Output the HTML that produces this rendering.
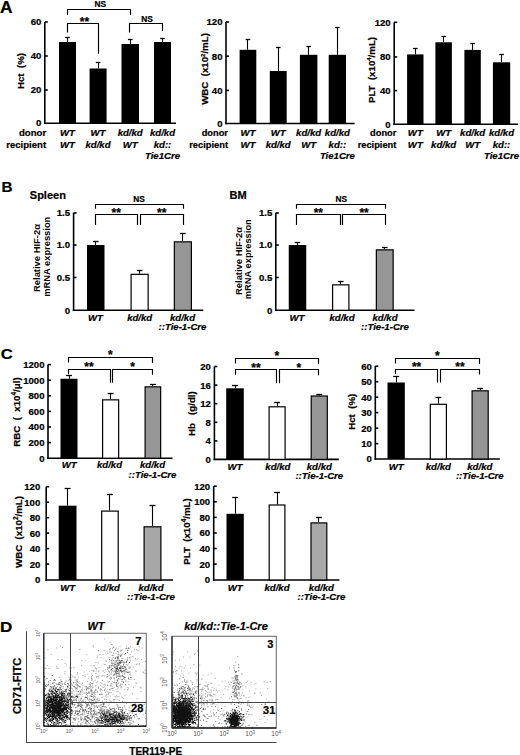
<!DOCTYPE html><html><head><meta charset="utf-8"><style>html,body{margin:0;padding:0;background:#fff;}svg{display:block;font-family:"Liberation Sans",sans-serif;} text{white-space:pre;stroke:#000;stroke-width:0.22px;} text.g,text.n{stroke:none;}</style></head><body><svg width="520" height="755" viewBox="0 0 520 755" font-family="Liberation Sans, sans-serif">
<rect width="520" height="755" fill="#fff"/>
<text x="0" y="13.2" font-size="16.5" font-weight="bold" text-anchor="start" fill="#000" textLength="12.5" lengthAdjust="spacingAndGlyphs">A</text>
<line x1="44.8" y1="22" x2="44.8" y2="124.1" stroke="#000" stroke-width="1.6"/>
<line x1="44.0" y1="123.3" x2="176" y2="123.3" stroke="#000" stroke-width="1.6"/>
<line x1="44.8" y1="22" x2="47.8" y2="22" stroke="#000" stroke-width="1.6"/>
<text x="41.3" y="25.456" font-size="9.6" font-weight="bold" text-anchor="end" fill="#000">60</text>
<line x1="44.8" y1="56" x2="47.8" y2="56" stroke="#000" stroke-width="1.6"/>
<text x="41.3" y="59.456" font-size="9.6" font-weight="bold" text-anchor="end" fill="#000">40</text>
<line x1="44.8" y1="90" x2="47.8" y2="90" stroke="#000" stroke-width="1.6"/>
<text x="41.3" y="93.456" font-size="9.6" font-weight="bold" text-anchor="end" fill="#000">20</text>
<text x="41.3" y="126.456" font-size="9.6" font-weight="bold" text-anchor="end" fill="#000">0</text>
<line x1="67.5" y1="37" x2="67.5" y2="42" stroke="#000" stroke-width="1.1"/>
<line x1="65.2" y1="37.5" x2="69.8" y2="37.5" stroke="#000" stroke-width="1.3"/>
<rect x="59" y="42" width="17" height="81.3" fill="#000"/>
<line x1="98.5" y1="62.3" x2="98.5" y2="68.5" stroke="#000" stroke-width="1.1"/>
<line x1="95.8" y1="62.5" x2="100.39999999999999" y2="62.5" stroke="#000" stroke-width="1.3"/>
<rect x="89.6" y="68.5" width="17.0" height="54.8" fill="#000"/>
<line x1="130.5" y1="39" x2="130.5" y2="44" stroke="#000" stroke-width="1.1"/>
<line x1="127.95" y1="39.5" x2="132.55" y2="39.5" stroke="#000" stroke-width="1.3"/>
<rect x="121.5" y="44" width="17.5" height="79.3" fill="#000"/>
<line x1="162.5" y1="38" x2="162.5" y2="42" stroke="#000" stroke-width="1.1"/>
<line x1="160.2" y1="38.5" x2="164.8" y2="38.5" stroke="#000" stroke-width="1.3"/>
<rect x="154" y="42" width="17" height="81.3" fill="#000"/>
<text x="46.2" y="136.4" font-size="9.6" font-weight="bold" text-anchor="end" fill="#000">donor</text>
<text x="46.2" y="147.7" font-size="9.6" font-weight="bold" text-anchor="end" fill="#000">recipient</text>
<text x="67.5" y="136.3" font-size="9.6" font-weight="bold" font-style="italic" text-anchor="middle" fill="#000">WT</text>
<text x="98" y="136.3" font-size="9.6" font-weight="bold" font-style="italic" text-anchor="middle" fill="#000">WT</text>
<text x="130.2" y="136.3" font-size="9.6" font-weight="bold" font-style="italic" text-anchor="middle" fill="#000">kd/kd</text>
<text x="162.5" y="136.3" font-size="9.6" font-weight="bold" font-style="italic" text-anchor="middle" fill="#000">kd/kd</text>
<text x="67.5" y="147.5" font-size="9.6" font-weight="bold" font-style="italic" text-anchor="middle" fill="#000">WT</text>
<text x="98" y="147.5" font-size="9.6" font-weight="bold" font-style="italic" text-anchor="middle" fill="#000">kd/kd</text>
<text x="130.2" y="147.5" font-size="9.6" font-weight="bold" font-style="italic" text-anchor="middle" fill="#000">WT</text>
<text x="162.5" y="147.5" font-size="9.6" font-weight="bold" font-style="italic" text-anchor="middle" fill="#000">kd::</text>
<text x="162.5" y="158.5" font-size="9.6" font-weight="bold" font-style="italic" text-anchor="middle" fill="#000">Tie1Cre</text>
<text transform="translate(24.4,71) rotate(-90)" x="0" y="0" font-size="9.7" font-weight="bold" text-anchor="middle">Hct  (%)</text>
<path d="M67.5 15V9.5H130.5V15" fill="none" stroke="#000" stroke-width="1.15"/>
<path d="M67.5 32.5V23.5H98.5V53.7" fill="none" stroke="#000" stroke-width="1.15"/>
<path d="M129.5 32.5V23.5H162.5V31" fill="none" stroke="#000" stroke-width="1.15"/>
<text x="100.2" y="6.81" font-size="8.3" font-weight="bold" text-anchor="middle" fill="#000">NS</text>
<text x="147" y="21.81" font-size="8.3" font-weight="bold" text-anchor="middle" fill="#000">NS</text>
<text x="84.5" y="25.78" font-size="12" font-weight="bold" text-anchor="middle" fill="#000">**</text>
<line x1="226" y1="22" x2="226" y2="124.3" stroke="#000" stroke-width="1.6"/>
<line x1="225.2" y1="123.5" x2="354.6" y2="123.5" stroke="#000" stroke-width="1.6"/>
<line x1="226" y1="22" x2="229.0" y2="22" stroke="#000" stroke-width="1.6"/>
<text x="222.5" y="25.456" font-size="9.6" font-weight="bold" text-anchor="end" fill="#000">120</text>
<line x1="226" y1="56.2" x2="229.0" y2="56.2" stroke="#000" stroke-width="1.6"/>
<text x="222.5" y="59.656000000000006" font-size="9.6" font-weight="bold" text-anchor="end" fill="#000">80</text>
<line x1="226" y1="90.4" x2="229.0" y2="90.4" stroke="#000" stroke-width="1.6"/>
<text x="222.5" y="93.85600000000001" font-size="9.6" font-weight="bold" text-anchor="end" fill="#000">40</text>
<text x="222.5" y="126.956" font-size="9.6" font-weight="bold" text-anchor="end" fill="#000">0</text>
<line x1="247.5" y1="39.2" x2="247.5" y2="49.8" stroke="#000" stroke-width="1.1"/>
<line x1="245.64999999999998" y1="39.5" x2="250.25" y2="39.5" stroke="#000" stroke-width="1.3"/>
<rect x="239.6" y="49.8" width="16.700000000000017" height="73.7" fill="#000"/>
<line x1="278.5" y1="47.5" x2="278.5" y2="71" stroke="#000" stroke-width="1.1"/>
<line x1="275.95" y1="47.5" x2="280.55" y2="47.5" stroke="#000" stroke-width="1.3"/>
<rect x="269.8" y="71" width="16.899999999999977" height="52.5" fill="#000"/>
<line x1="308.5" y1="46.8" x2="308.5" y2="54.8" stroke="#000" stroke-width="1.1"/>
<line x1="306.34999999999997" y1="46.5" x2="310.95" y2="46.5" stroke="#000" stroke-width="1.3"/>
<rect x="299.9" y="54.8" width="17.5" height="68.7" fill="#000"/>
<line x1="337.5" y1="27.3" x2="337.5" y2="54.8" stroke="#000" stroke-width="1.1"/>
<line x1="335.05" y1="27.5" x2="339.65000000000003" y2="27.5" stroke="#000" stroke-width="1.3"/>
<rect x="328.7" y="54.8" width="17.30000000000001" height="68.7" fill="#000"/>
<text x="228.0" y="136.4" font-size="9.3" font-weight="bold" text-anchor="end" fill="#000">donor</text>
<text x="228.0" y="147.7" font-size="9.3" font-weight="bold" text-anchor="end" fill="#000">recipient</text>
<text x="248" y="136.3" font-size="9.6" font-weight="bold" font-style="italic" text-anchor="middle" fill="#000">WT</text>
<text x="278.2" y="136.3" font-size="9.6" font-weight="bold" font-style="italic" text-anchor="middle" fill="#000">WT</text>
<text x="308.6" y="136.3" font-size="9.6" font-weight="bold" font-style="italic" text-anchor="middle" fill="#000">kd/kd</text>
<text x="337.4" y="136.3" font-size="9.6" font-weight="bold" font-style="italic" text-anchor="middle" fill="#000">kd/kd</text>
<text x="248" y="147.5" font-size="9.6" font-weight="bold" font-style="italic" text-anchor="middle" fill="#000">WT</text>
<text x="278.2" y="147.5" font-size="9.6" font-weight="bold" font-style="italic" text-anchor="middle" fill="#000">kd/kd</text>
<text x="308.6" y="147.5" font-size="9.6" font-weight="bold" font-style="italic" text-anchor="middle" fill="#000">WT</text>
<text x="337.4" y="147.5" font-size="9.6" font-weight="bold" font-style="italic" text-anchor="middle" fill="#000">kd::</text>
<text x="337.4" y="158.5" font-size="9.6" font-weight="bold" font-style="italic" text-anchor="middle" fill="#000">Tie1Cre</text>
<text transform="translate(208.2,69) rotate(-90)" x="0" y="0" font-size="9.7" font-weight="bold" text-anchor="middle">WBC  (x10<tspan font-size="6" dy="-3.5">2</tspan><tspan dy="3.5">/mL)</tspan></text>
<line x1="394.2" y1="22.3" x2="394.2" y2="125.1" stroke="#000" stroke-width="1.6"/>
<line x1="393.4" y1="124.3" x2="518" y2="124.3" stroke="#000" stroke-width="1.6"/>
<line x1="394.2" y1="22.3" x2="397.2" y2="22.3" stroke="#000" stroke-width="1.6"/>
<text x="390.7" y="25.756" font-size="9.6" font-weight="bold" text-anchor="end" fill="#000">120</text>
<line x1="394.2" y1="56.9" x2="397.2" y2="56.9" stroke="#000" stroke-width="1.6"/>
<text x="390.7" y="60.356" font-size="9.6" font-weight="bold" text-anchor="end" fill="#000">80</text>
<line x1="394.2" y1="90.6" x2="397.2" y2="90.6" stroke="#000" stroke-width="1.6"/>
<text x="390.7" y="94.056" font-size="9.6" font-weight="bold" text-anchor="end" fill="#000">40</text>
<text x="390.7" y="127.756" font-size="9.6" font-weight="bold" text-anchor="end" fill="#000">0</text>
<line x1="415.5" y1="48.1" x2="415.5" y2="54.4" stroke="#000" stroke-width="1.1"/>
<line x1="413.0" y1="48.5" x2="417.6" y2="48.5" stroke="#000" stroke-width="1.3"/>
<rect x="407.1" y="54.4" width="16.399999999999977" height="69.9" fill="#000"/>
<line x1="443.5" y1="36.5" x2="443.5" y2="42.3" stroke="#000" stroke-width="1.1"/>
<line x1="441.34999999999997" y1="36.5" x2="445.95" y2="36.5" stroke="#000" stroke-width="1.3"/>
<rect x="435.4" y="42.3" width="16.5" height="82.0" fill="#000"/>
<line x1="472.5" y1="43.3" x2="472.5" y2="49.9" stroke="#000" stroke-width="1.1"/>
<line x1="470.3" y1="43.5" x2="474.90000000000003" y2="43.5" stroke="#000" stroke-width="1.3"/>
<rect x="464.4" y="49.9" width="16.400000000000034" height="74.4" fill="#000"/>
<line x1="501.5" y1="54.1" x2="501.5" y2="62.3" stroke="#000" stroke-width="1.1"/>
<line x1="499.24999999999994" y1="54.5" x2="503.84999999999997" y2="54.5" stroke="#000" stroke-width="1.3"/>
<rect x="492.9" y="62.3" width="17.30000000000001" height="62.0" fill="#000"/>
<text x="396.4" y="136.4" font-size="9.3" font-weight="bold" text-anchor="end" fill="#000">donor</text>
<text x="396.4" y="147.7" font-size="9.3" font-weight="bold" text-anchor="end" fill="#000">recipient</text>
<text x="415.3" y="136.3" font-size="9.6" font-weight="bold" font-style="italic" text-anchor="middle" fill="#000">WT</text>
<text x="443.6" y="136.3" font-size="9.6" font-weight="bold" font-style="italic" text-anchor="middle" fill="#000">WT</text>
<text x="472.6" y="136.3" font-size="9.6" font-weight="bold" font-style="italic" text-anchor="middle" fill="#000">kd/kd</text>
<text x="501.5" y="136.3" font-size="9.6" font-weight="bold" font-style="italic" text-anchor="middle" fill="#000">kd/kd</text>
<text x="415.3" y="147.5" font-size="9.6" font-weight="bold" font-style="italic" text-anchor="middle" fill="#000">WT</text>
<text x="443.6" y="147.5" font-size="9.6" font-weight="bold" font-style="italic" text-anchor="middle" fill="#000">kd/kd</text>
<text x="472.6" y="147.5" font-size="9.6" font-weight="bold" font-style="italic" text-anchor="middle" fill="#000">WT</text>
<text x="501.5" y="147.5" font-size="9.6" font-weight="bold" font-style="italic" text-anchor="middle" fill="#000">kd::</text>
<text x="501.5" y="158.5" font-size="9.6" font-weight="bold" font-style="italic" text-anchor="middle" fill="#000">Tie1Cre</text>
<text transform="translate(374.8,70) rotate(-90)" x="0" y="0" font-size="9.7" font-weight="bold" text-anchor="middle">PLT  (x10<tspan font-size="6" dy="-3.5">4</tspan><tspan dy="3.5">/mL)</tspan></text>
<text x="1.5" y="191.8" font-size="15.5" font-weight="bold" text-anchor="start" fill="#000" textLength="11" lengthAdjust="spacingAndGlyphs">B</text>
<text x="29.8" y="198.8" font-size="11" font-weight="bold" text-anchor="start" fill="#000">Spleen</text>
<line x1="73.6" y1="212.7" x2="73.6" y2="311.1" stroke="#000" stroke-width="1.6"/>
<line x1="72.8" y1="310.3" x2="203.3" y2="310.3" stroke="#000" stroke-width="1.6"/>
<line x1="73.6" y1="213" x2="76.6" y2="213" stroke="#000" stroke-width="1.6"/>
<text x="70.1" y="216.456" font-size="9.6" font-weight="bold" text-anchor="end" fill="#000">1.5</text>
<line x1="73.6" y1="245" x2="76.6" y2="245" stroke="#000" stroke-width="1.6"/>
<text x="70.1" y="248.456" font-size="9.6" font-weight="bold" text-anchor="end" fill="#000">1.0</text>
<line x1="73.6" y1="277.5" x2="76.6" y2="277.5" stroke="#000" stroke-width="1.6"/>
<text x="70.1" y="280.956" font-size="9.6" font-weight="bold" text-anchor="end" fill="#000">0.5</text>
<text x="70.1" y="313.75600000000003" font-size="9.6" font-weight="bold" text-anchor="end" fill="#000">0</text>
<line x1="95.5" y1="241" x2="95.5" y2="245" stroke="#000" stroke-width="1.1"/>
<line x1="92.95" y1="241.5" x2="98.55" y2="241.5" stroke="#000" stroke-width="1.3"/>
<rect x="87" y="245" width="17.5" height="65.30000000000001" fill="#000"/>
<line x1="139.5" y1="270" x2="139.5" y2="273.75" stroke="#000" stroke-width="1.1"/>
<line x1="136.825" y1="270.5" x2="142.425" y2="270.5" stroke="#000" stroke-width="1.3"/>
<rect x="131.1" y="274.35" width="17.05" height="35.95000000000001" fill="#fff" stroke="#000" stroke-width="1.2"/>
<line x1="182.5" y1="233.5" x2="182.5" y2="241.25" stroke="#000" stroke-width="1.1"/>
<line x1="180.075" y1="233.5" x2="185.675" y2="233.5" stroke="#000" stroke-width="1.3"/>
<rect x="174.35" y="241.85" width="17.05" height="68.45000000000002" fill="#969696" stroke="#000" stroke-width="1.2"/>
<text x="95.5" y="320.5" font-size="9.6" font-weight="bold" font-style="italic" text-anchor="middle" fill="#000">WT</text>
<text x="139.7" y="320.5" font-size="9.6" font-weight="bold" font-style="italic" text-anchor="middle" fill="#000">kd/kd</text>
<text x="182.5" y="320.5" font-size="9.6" font-weight="bold" font-style="italic" text-anchor="middle" fill="#000">kd/kd</text>
<text x="182.5" y="330" font-size="9.6" font-weight="bold" font-style="italic" text-anchor="middle" fill="#000">::Tie-1-Cre</text>
<text class="n" transform="translate(39.6,258) rotate(-90)" font-size="9.5" font-weight="bold" text-anchor="middle" textLength="68" lengthAdjust="spacingAndGlyphs">Relative HIF-2α</text>
<text class="n" transform="translate(50,256.7) rotate(-90)" font-size="9.5" font-weight="bold" text-anchor="middle" textLength="80" lengthAdjust="spacingAndGlyphs">mRNA expression</text>
<path d="M95.5 208.75V204.5H183.5V208.75" fill="none" stroke="#000" stroke-width="1.15"/>
<path d="M95.5 225V214.5H137.5V225" fill="none" stroke="#000" stroke-width="1.15"/>
<path d="M140.5 225V214.5H183.5V225" fill="none" stroke="#000" stroke-width="1.15"/>
<text x="139.0" y="202.31" font-size="8.3" font-weight="bold" text-anchor="middle" fill="#000">NS</text>
<text x="116.25" y="217.08" font-size="12" font-weight="bold" text-anchor="middle" fill="#000">**</text>
<text x="161.75" y="217.08" font-size="12" font-weight="bold" text-anchor="middle" fill="#000">**</text>
<text x="229.6" y="198.8" font-size="11" font-weight="bold" text-anchor="start" fill="#000">BM</text>
<line x1="275.8" y1="212.7" x2="275.8" y2="311.1" stroke="#000" stroke-width="1.6"/>
<line x1="275.0" y1="310.3" x2="414.5" y2="310.3" stroke="#000" stroke-width="1.6"/>
<line x1="275.8" y1="213" x2="278.8" y2="213" stroke="#000" stroke-width="1.6"/>
<text x="272.3" y="216.456" font-size="9.6" font-weight="bold" text-anchor="end" fill="#000">1.5</text>
<line x1="275.8" y1="245" x2="278.8" y2="245" stroke="#000" stroke-width="1.6"/>
<text x="272.3" y="248.456" font-size="9.6" font-weight="bold" text-anchor="end" fill="#000">1.0</text>
<line x1="275.8" y1="277.5" x2="278.8" y2="277.5" stroke="#000" stroke-width="1.6"/>
<text x="272.3" y="280.956" font-size="9.6" font-weight="bold" text-anchor="end" fill="#000">0.5</text>
<text x="272.3" y="313.75600000000003" font-size="9.6" font-weight="bold" text-anchor="end" fill="#000">0</text>
<line x1="297.5" y1="242.5" x2="297.5" y2="245" stroke="#000" stroke-width="1.1"/>
<line x1="294.7" y1="242.5" x2="300.3" y2="242.5" stroke="#000" stroke-width="1.3"/>
<rect x="288.75" y="245" width="17.5" height="65.30000000000001" fill="#000"/>
<line x1="340.5" y1="281.25" x2="340.5" y2="284.25" stroke="#000" stroke-width="1.1"/>
<line x1="337.95" y1="281.5" x2="343.55" y2="281.5" stroke="#000" stroke-width="1.3"/>
<rect x="332.6" y="284.85" width="16.3" height="25.45000000000001" fill="#fff" stroke="#000" stroke-width="1.2"/>
<line x1="384.5" y1="247.5" x2="384.5" y2="249.25" stroke="#000" stroke-width="1.1"/>
<line x1="381.95" y1="247.5" x2="387.55" y2="247.5" stroke="#000" stroke-width="1.3"/>
<rect x="376.35" y="249.85" width="16.8" height="60.45000000000001" fill="#969696" stroke="#000" stroke-width="1.2"/>
<text x="297" y="320.5" font-size="9.6" font-weight="bold" font-style="italic" text-anchor="middle" fill="#000">WT</text>
<text x="342" y="320.5" font-size="9.6" font-weight="bold" font-style="italic" text-anchor="middle" fill="#000">kd/kd</text>
<text x="385" y="320.5" font-size="9.6" font-weight="bold" font-style="italic" text-anchor="middle" fill="#000">kd/kd</text>
<text x="385" y="330" font-size="9.6" font-weight="bold" font-style="italic" text-anchor="middle" fill="#000">::Tie-1-Cre</text>
<text class="n" transform="translate(241.6,261) rotate(-90)" font-size="9.5" font-weight="bold" text-anchor="middle" textLength="68" lengthAdjust="spacingAndGlyphs">Relative HIF-2α</text>
<text class="n" transform="translate(250.8,259.2) rotate(-90)" font-size="9.5" font-weight="bold" text-anchor="middle" textLength="80" lengthAdjust="spacingAndGlyphs">mRNA expression</text>
<path d="M296.5 208.75V204.5H385.5V208.75" fill="none" stroke="#000" stroke-width="1.15"/>
<path d="M296.5 225V214.5H340.5V225" fill="none" stroke="#000" stroke-width="1.15"/>
<path d="M342.5 225V214.5H385.5V225" fill="none" stroke="#000" stroke-width="1.15"/>
<text x="341.25" y="202.31" font-size="8.3" font-weight="bold" text-anchor="middle" fill="#000">NS</text>
<text x="318.375" y="217.08" font-size="12" font-weight="bold" text-anchor="middle" fill="#000">**</text>
<text x="364.125" y="217.08" font-size="12" font-weight="bold" text-anchor="middle" fill="#000">**</text>
<text x="0.8" y="358.7" font-size="15.5" font-weight="bold" text-anchor="start" fill="#000" textLength="12" lengthAdjust="spacingAndGlyphs">C</text>
<line x1="48" y1="364.6" x2="48" y2="459.0" stroke="#000" stroke-width="1.6"/>
<line x1="47.2" y1="458.2" x2="172.5" y2="458.2" stroke="#000" stroke-width="1.6"/>
<line x1="48" y1="364.6" x2="51.0" y2="364.6" stroke="#000" stroke-width="1.6"/>
<text x="44.5" y="368.05600000000004" font-size="9.6" font-weight="bold" text-anchor="end" fill="#000">1200</text>
<line x1="48" y1="380.2" x2="51.0" y2="380.2" stroke="#000" stroke-width="1.6"/>
<text x="44.5" y="383.656" font-size="9.6" font-weight="bold" text-anchor="end" fill="#000">1000</text>
<line x1="48" y1="395.8" x2="51.0" y2="395.8" stroke="#000" stroke-width="1.6"/>
<text x="44.5" y="399.25600000000003" font-size="9.6" font-weight="bold" text-anchor="end" fill="#000">800</text>
<line x1="48" y1="411.4" x2="51.0" y2="411.4" stroke="#000" stroke-width="1.6"/>
<text x="44.5" y="414.856" font-size="9.6" font-weight="bold" text-anchor="end" fill="#000">600</text>
<line x1="48" y1="427" x2="51.0" y2="427" stroke="#000" stroke-width="1.6"/>
<text x="44.5" y="430.456" font-size="9.6" font-weight="bold" text-anchor="end" fill="#000">400</text>
<line x1="48" y1="442.6" x2="51.0" y2="442.6" stroke="#000" stroke-width="1.6"/>
<text x="44.5" y="446.05600000000004" font-size="9.6" font-weight="bold" text-anchor="end" fill="#000">200</text>
<text x="44.5" y="461.656" font-size="9.6" font-weight="bold" text-anchor="end" fill="#000">0</text>
<line x1="69.5" y1="375" x2="69.5" y2="378.75" stroke="#000" stroke-width="1.1"/>
<line x1="66.05" y1="375.5" x2="71.95" y2="375.5" stroke="#000" stroke-width="1.3"/>
<rect x="60.5" y="378.75" width="17.0" height="79.44999999999999" fill="#000"/>
<line x1="110.5" y1="393.75" x2="110.5" y2="399.25" stroke="#000" stroke-width="1.1"/>
<line x1="107.675" y1="393.5" x2="113.575" y2="393.5" stroke="#000" stroke-width="1.3"/>
<rect x="102.6" y="399.85" width="16.05" height="58.34999999999999" fill="#fff" stroke="#000" stroke-width="1.2"/>
<line x1="152.5" y1="384.5" x2="152.5" y2="386.25" stroke="#000" stroke-width="1.1"/>
<line x1="149.925" y1="384.5" x2="155.825" y2="384.5" stroke="#000" stroke-width="1.3"/>
<rect x="145.1" y="386.85" width="15.55" height="71.35" fill="#969696" stroke="#000" stroke-width="1.2"/>
<text x="69.2" y="468" font-size="9.6" font-weight="bold" font-style="italic" text-anchor="middle" fill="#000">WT</text>
<text x="109.5" y="468" font-size="9.6" font-weight="bold" font-style="italic" text-anchor="middle" fill="#000">kd/kd</text>
<text x="152.5" y="468" font-size="9.6" font-weight="bold" font-style="italic" text-anchor="middle" fill="#000">kd/kd</text>
<text x="152.5" y="477.5" font-size="9.6" font-weight="bold" font-style="italic" text-anchor="middle" fill="#000">::Tie-1-Cre</text>
<text transform="translate(19.6,412) rotate(-90)" x="0" y="0" font-size="9.7" font-weight="bold" text-anchor="middle">RBC  (  x10<tspan font-size="6.5" dy="-3.8">4</tspan><tspan dy="3.8">/μl)</tspan></text>
<path d="M68.5 362.5V357.5H152.5V363.0" fill="none" stroke="#000" stroke-width="1.15"/>
<path d="M68.5 374.25V369.5H110.5V382.75" fill="none" stroke="#000" stroke-width="1.15"/>
<path d="M112.5 382.75V369.5H152.5V374.75" fill="none" stroke="#000" stroke-width="1.15"/>
<text x="110.25" y="359.28" font-size="12" font-weight="bold" text-anchor="middle" fill="#000">*</text>
<text x="89.0" y="371.03" font-size="12" font-weight="bold" text-anchor="middle" fill="#000">**</text>
<text x="132.5" y="371.03" font-size="12" font-weight="bold" text-anchor="middle" fill="#000">*</text>
<line x1="214.4" y1="366.5" x2="214.4" y2="460.2" stroke="#000" stroke-width="1.6"/>
<line x1="213.6" y1="459.4" x2="338.8" y2="459.4" stroke="#000" stroke-width="1.6"/>
<line x1="214.4" y1="366.5" x2="217.4" y2="366.5" stroke="#000" stroke-width="1.6"/>
<text x="210.9" y="369.956" font-size="9.6" font-weight="bold" text-anchor="end" fill="#000">20</text>
<line x1="214.4" y1="385.1" x2="217.4" y2="385.1" stroke="#000" stroke-width="1.6"/>
<text x="210.9" y="388.55600000000004" font-size="9.6" font-weight="bold" text-anchor="end" fill="#000">16</text>
<line x1="214.4" y1="403.7" x2="217.4" y2="403.7" stroke="#000" stroke-width="1.6"/>
<text x="210.9" y="407.156" font-size="9.6" font-weight="bold" text-anchor="end" fill="#000">12</text>
<line x1="214.4" y1="422.3" x2="217.4" y2="422.3" stroke="#000" stroke-width="1.6"/>
<text x="210.9" y="425.75600000000003" font-size="9.6" font-weight="bold" text-anchor="end" fill="#000">8</text>
<line x1="214.4" y1="440.9" x2="217.4" y2="440.9" stroke="#000" stroke-width="1.6"/>
<text x="210.9" y="444.356" font-size="9.6" font-weight="bold" text-anchor="end" fill="#000">4</text>
<text x="210.9" y="462.856" font-size="9.6" font-weight="bold" text-anchor="end" fill="#000">0</text>
<line x1="235.5" y1="385.8" x2="235.5" y2="388.3" stroke="#000" stroke-width="1.1"/>
<line x1="232.05" y1="385.5" x2="237.95" y2="385.5" stroke="#000" stroke-width="1.3"/>
<rect x="226.2" y="388.3" width="17.600000000000023" height="71.09999999999997" fill="#000"/>
<line x1="277.5" y1="402.7" x2="277.5" y2="406.2" stroke="#000" stroke-width="1.1"/>
<line x1="274.15000000000003" y1="402.5" x2="280.05" y2="402.5" stroke="#000" stroke-width="1.3"/>
<rect x="269.1" y="406.8" width="15.99999999999999" height="52.59999999999999" fill="#fff" stroke="#000" stroke-width="1.2"/>
<line x1="319.5" y1="394" x2="319.5" y2="395.4" stroke="#000" stroke-width="1.1"/>
<line x1="316.3" y1="394.5" x2="322.2" y2="394.5" stroke="#000" stroke-width="1.3"/>
<rect x="311.20000000000005" y="396.0" width="16.099999999999955" height="63.4" fill="#969696" stroke="#000" stroke-width="1.2"/>
<text x="235" y="469.5" font-size="9.6" font-weight="bold" font-style="italic" text-anchor="middle" fill="#000">WT</text>
<text x="277.9" y="469.5" font-size="9.6" font-weight="bold" font-style="italic" text-anchor="middle" fill="#000">kd/kd</text>
<text x="319.3" y="469.5" font-size="9.6" font-weight="bold" font-style="italic" text-anchor="middle" fill="#000">kd/kd</text>
<text x="319.3" y="479.0" font-size="9.6" font-weight="bold" font-style="italic" text-anchor="middle" fill="#000">::Tie-1-Cre</text>
<text transform="translate(195.4,413.6) rotate(-90)" x="0" y="0" font-size="9.7" font-weight="bold" text-anchor="middle">Hb   (g/dl)</text>
<path d="M235.5 363.5V358.5H318.5V364.0" fill="none" stroke="#000" stroke-width="1.15"/>
<path d="M235.5 374.8V369.5H276.5V383.3" fill="none" stroke="#000" stroke-width="1.15"/>
<path d="M279.5 383.3V369.5H318.5V375.3" fill="none" stroke="#000" stroke-width="1.15"/>
<text x="276.95" y="360.28" font-size="12" font-weight="bold" text-anchor="middle" fill="#000">*</text>
<text x="256.0" y="371.58" font-size="12" font-weight="bold" text-anchor="middle" fill="#000">**</text>
<text x="298.95" y="371.58" font-size="12" font-weight="bold" text-anchor="middle" fill="#000">*</text>
<line x1="375.3" y1="366.2" x2="375.3" y2="459.8" stroke="#000" stroke-width="1.6"/>
<line x1="374.5" y1="459" x2="499.8" y2="459" stroke="#000" stroke-width="1.6"/>
<line x1="375.3" y1="366.2" x2="378.3" y2="366.2" stroke="#000" stroke-width="1.6"/>
<text x="371.8" y="369.656" font-size="9.6" font-weight="bold" text-anchor="end" fill="#000">60</text>
<line x1="375.3" y1="381.7" x2="378.3" y2="381.7" stroke="#000" stroke-width="1.6"/>
<text x="371.8" y="385.156" font-size="9.6" font-weight="bold" text-anchor="end" fill="#000">50</text>
<line x1="375.3" y1="397.2" x2="378.3" y2="397.2" stroke="#000" stroke-width="1.6"/>
<text x="371.8" y="400.656" font-size="9.6" font-weight="bold" text-anchor="end" fill="#000">40</text>
<line x1="375.3" y1="412.6" x2="378.3" y2="412.6" stroke="#000" stroke-width="1.6"/>
<text x="371.8" y="416.05600000000004" font-size="9.6" font-weight="bold" text-anchor="end" fill="#000">30</text>
<line x1="375.3" y1="428.1" x2="378.3" y2="428.1" stroke="#000" stroke-width="1.6"/>
<text x="371.8" y="431.55600000000004" font-size="9.6" font-weight="bold" text-anchor="end" fill="#000">20</text>
<line x1="375.3" y1="443.6" x2="378.3" y2="443.6" stroke="#000" stroke-width="1.6"/>
<text x="371.8" y="447.05600000000004" font-size="9.6" font-weight="bold" text-anchor="end" fill="#000">10</text>
<text x="371.8" y="462.456" font-size="9.6" font-weight="bold" text-anchor="end" fill="#000">0</text>
<line x1="396.5" y1="376.7" x2="396.5" y2="382.5" stroke="#000" stroke-width="1.1"/>
<line x1="393.2" y1="376.5" x2="399.09999999999997" y2="376.5" stroke="#000" stroke-width="1.3"/>
<rect x="387.5" y="382.5" width="17.30000000000001" height="76.5" fill="#000"/>
<line x1="438.5" y1="397.9" x2="438.5" y2="403.7" stroke="#000" stroke-width="1.1"/>
<line x1="435.40000000000003" y1="397.5" x2="441.3" y2="397.5" stroke="#000" stroke-width="1.3"/>
<rect x="430.3" y="404.3" width="16.100000000000012" height="54.70000000000001" fill="#fff" stroke="#000" stroke-width="1.2"/>
<line x1="480.5" y1="388.8" x2="480.5" y2="390.2" stroke="#000" stroke-width="1.1"/>
<line x1="477.2" y1="388.5" x2="483.09999999999997" y2="388.5" stroke="#000" stroke-width="1.3"/>
<rect x="472.1" y="390.8" width="16.100000000000012" height="68.20000000000002" fill="#969696" stroke="#000" stroke-width="1.2"/>
<text x="396.1" y="469.5" font-size="9.6" font-weight="bold" font-style="italic" text-anchor="middle" fill="#000">WT</text>
<text x="438.3" y="469.5" font-size="9.6" font-weight="bold" font-style="italic" text-anchor="middle" fill="#000">kd/kd</text>
<text x="479.8" y="469.5" font-size="9.6" font-weight="bold" font-style="italic" text-anchor="middle" fill="#000">kd/kd</text>
<text x="479.8" y="479.0" font-size="9.6" font-weight="bold" font-style="italic" text-anchor="middle" fill="#000">::Tie-1-Cre</text>
<text transform="translate(354.8,411.8) rotate(-90)" x="0" y="0" font-size="9.7" font-weight="bold" text-anchor="middle">Hct  (%)</text>
<path d="M395.5 363.5V358.5H479.5V364.0" fill="none" stroke="#000" stroke-width="1.15"/>
<path d="M395.5 374V369.5H437.5V382.5" fill="none" stroke="#000" stroke-width="1.15"/>
<path d="M440.5 382.5V369.5H479.5V374.5" fill="none" stroke="#000" stroke-width="1.15"/>
<text x="437.4" y="360.28" font-size="12" font-weight="bold" text-anchor="middle" fill="#000">*</text>
<text x="416.54999999999995" y="370.78" font-size="12" font-weight="bold" text-anchor="middle" fill="#000">**</text>
<text x="459.9" y="370.78" font-size="12" font-weight="bold" text-anchor="middle" fill="#000">**</text>
<line x1="46.2" y1="486.7" x2="46.2" y2="580.8" stroke="#000" stroke-width="1.6"/>
<line x1="45.400000000000006" y1="580" x2="173.1" y2="580" stroke="#000" stroke-width="1.6"/>
<line x1="46.2" y1="486.7" x2="49.2" y2="486.7" stroke="#000" stroke-width="1.6"/>
<text x="40.3" y="490.156" font-size="9.6" font-weight="bold" text-anchor="end" fill="#000">120</text>
<line x1="46.2" y1="502.2" x2="49.2" y2="502.2" stroke="#000" stroke-width="1.6"/>
<text x="40.3" y="505.656" font-size="9.6" font-weight="bold" text-anchor="end" fill="#000">100</text>
<line x1="46.2" y1="517.7" x2="49.2" y2="517.7" stroke="#000" stroke-width="1.6"/>
<text x="40.3" y="521.1560000000001" font-size="9.6" font-weight="bold" text-anchor="end" fill="#000">80</text>
<line x1="46.2" y1="533.1" x2="49.2" y2="533.1" stroke="#000" stroke-width="1.6"/>
<text x="40.3" y="536.556" font-size="9.6" font-weight="bold" text-anchor="end" fill="#000">60</text>
<line x1="46.2" y1="548.6" x2="49.2" y2="548.6" stroke="#000" stroke-width="1.6"/>
<text x="40.3" y="552.056" font-size="9.6" font-weight="bold" text-anchor="end" fill="#000">40</text>
<line x1="46.2" y1="564.1" x2="49.2" y2="564.1" stroke="#000" stroke-width="1.6"/>
<text x="40.3" y="567.556" font-size="9.6" font-weight="bold" text-anchor="end" fill="#000">20</text>
<text x="40.3" y="583.456" font-size="9.6" font-weight="bold" text-anchor="end" fill="#000">0</text>
<line x1="67.5" y1="488.4" x2="67.5" y2="505.7" stroke="#000" stroke-width="1.1"/>
<line x1="64.64999999999999" y1="488.5" x2="70.55" y2="488.5" stroke="#000" stroke-width="1.3"/>
<rect x="58.7" y="505.7" width="17.799999999999997" height="74.30000000000001" fill="#000"/>
<line x1="109.5" y1="494.5" x2="109.5" y2="510.5" stroke="#000" stroke-width="1.1"/>
<line x1="106.99999999999999" y1="494.5" x2="112.89999999999999" y2="494.5" stroke="#000" stroke-width="1.3"/>
<rect x="101.69999999999999" y="511.1" width="16.500000000000004" height="68.9" fill="#fff" stroke="#000" stroke-width="1.2"/>
<line x1="152.5" y1="505.4" x2="152.5" y2="526.2" stroke="#000" stroke-width="1.1"/>
<line x1="149.55" y1="505.5" x2="155.45" y2="505.5" stroke="#000" stroke-width="1.3"/>
<rect x="144.1" y="526.8000000000001" width="16.8" height="53.19999999999995" fill="#a7a7a7" stroke="#000" stroke-width="1.2"/>
<text x="67.6" y="590.5" font-size="9.6" font-weight="bold" font-style="italic" text-anchor="middle" fill="#000">WT</text>
<text x="107.3" y="590.5" font-size="9.6" font-weight="bold" font-style="italic" text-anchor="middle" fill="#000">kd/kd</text>
<text x="151" y="590.5" font-size="9.6" font-weight="bold" font-style="italic" text-anchor="middle" fill="#000">kd/kd</text>
<text x="151" y="600.0" font-size="9.6" font-weight="bold" font-style="italic" text-anchor="middle" fill="#000">::Tie-1-Cre</text>
<text transform="translate(21.6,532) rotate(-90)" x="0" y="0" font-size="9.7" font-weight="bold" text-anchor="middle">WBC  (x10<tspan font-size="6.5" dy="-3.8">2</tspan><tspan dy="3.8">/mL)</tspan></text>
<line x1="213.7" y1="486.2" x2="213.7" y2="580.8" stroke="#000" stroke-width="1.6"/>
<line x1="212.89999999999998" y1="580" x2="339.4" y2="580" stroke="#000" stroke-width="1.6"/>
<line x1="213.7" y1="486.2" x2="216.7" y2="486.2" stroke="#000" stroke-width="1.6"/>
<text x="210.2" y="489.656" font-size="9.6" font-weight="bold" text-anchor="end" fill="#000">120</text>
<line x1="213.7" y1="501.8" x2="216.7" y2="501.8" stroke="#000" stroke-width="1.6"/>
<text x="210.2" y="505.25600000000003" font-size="9.6" font-weight="bold" text-anchor="end" fill="#000">100</text>
<line x1="213.7" y1="517.4" x2="216.7" y2="517.4" stroke="#000" stroke-width="1.6"/>
<text x="210.2" y="520.856" font-size="9.6" font-weight="bold" text-anchor="end" fill="#000">80</text>
<line x1="213.7" y1="533" x2="216.7" y2="533" stroke="#000" stroke-width="1.6"/>
<text x="210.2" y="536.456" font-size="9.6" font-weight="bold" text-anchor="end" fill="#000">60</text>
<line x1="213.7" y1="548.5" x2="216.7" y2="548.5" stroke="#000" stroke-width="1.6"/>
<text x="210.2" y="551.956" font-size="9.6" font-weight="bold" text-anchor="end" fill="#000">40</text>
<line x1="213.7" y1="564.1" x2="216.7" y2="564.1" stroke="#000" stroke-width="1.6"/>
<text x="210.2" y="567.556" font-size="9.6" font-weight="bold" text-anchor="end" fill="#000">20</text>
<text x="210.2" y="583.456" font-size="9.6" font-weight="bold" text-anchor="end" fill="#000">0</text>
<line x1="235.5" y1="497.3" x2="235.5" y2="513.8" stroke="#000" stroke-width="1.1"/>
<line x1="232.20000000000002" y1="497.5" x2="238.1" y2="497.5" stroke="#000" stroke-width="1.3"/>
<rect x="226.5" y="513.8" width="17.30000000000001" height="66.20000000000005" fill="#000"/>
<line x1="277.5" y1="492.6" x2="277.5" y2="504.4" stroke="#000" stroke-width="1.1"/>
<line x1="274.1" y1="492.5" x2="280.0" y2="492.5" stroke="#000" stroke-width="1.3"/>
<rect x="269.20000000000005" y="505.0" width="15.699999999999978" height="75.00000000000003" fill="#fff" stroke="#000" stroke-width="1.2"/>
<line x1="318.5" y1="517" x2="318.5" y2="522.3" stroke="#000" stroke-width="1.1"/>
<line x1="315.95" y1="517.5" x2="321.84999999999997" y2="517.5" stroke="#000" stroke-width="1.3"/>
<rect x="311.0" y="522.9" width="15.8" height="57.100000000000044" fill="#a8a8a8" stroke="#000" stroke-width="1.2"/>
<text x="235.2" y="590.5" font-size="9.6" font-weight="bold" font-style="italic" text-anchor="middle" fill="#000">WT</text>
<text x="277" y="590.5" font-size="9.6" font-weight="bold" font-style="italic" text-anchor="middle" fill="#000">kd/kd</text>
<text x="321.4" y="590.5" font-size="9.6" font-weight="bold" font-style="italic" text-anchor="middle" fill="#000">kd/kd</text>
<text x="321.4" y="600.0" font-size="9.6" font-weight="bold" font-style="italic" text-anchor="middle" fill="#000">::Tie-1-Cre</text>
<text transform="translate(190,531.5) rotate(-90)" x="0" y="0" font-size="9.7" font-weight="bold" text-anchor="middle">PLT  (x10<tspan font-size="6.5" dy="-3.8">4</tspan><tspan dy="3.8">/mL)</tspan></text>
<text x="0" y="632.4" font-size="15.5" font-weight="bold" text-anchor="start" fill="#000" textLength="12.3" lengthAdjust="spacingAndGlyphs">D</text>
<line x1="26.5" y1="631.3" x2="26.5" y2="742.9" stroke="#444" stroke-width="1.0"/>
<line x1="26" y1="742.5" x2="276.5" y2="742.5" stroke="#444" stroke-width="1.0"/>
<text x="155.7" y="754.5" font-size="10" font-weight="bold" text-anchor="middle" fill="#000">TER119-PE</text>
<text transform="translate(20.5,686) rotate(-90)" x="0" y="0" font-size="11" font-weight="bold" text-anchor="middle">CD71-FITC</text>
<defs><filter id="bl" x="-5%" y="-5%" width="110%" height="110%"><feGaussianBlur stdDeviation="0.7"/></filter></defs>
<path d="M117.5 707h1v1h-1zM138.2 718.6h1v1h-1zM129 657.2h1v1h-1zM87.1 720.6h1v1h-1zM92.8 645.4h1v1h-1zM136.4 706h1v1h-1zM70.4 710.7h1v1h-1zM132.4 656.1h1v1h-1zM130.6 678.9h1v1h-1zM105.6 711h1v1h-1zM93 646.2h1v1h-1zM91.2 695.9h1v1h-1zM89.4 709.2h1v1h-1zM103.8 686.6h1v1h-1zM108.3 703.8h1v1h-1zM112.1 663.3h1v1h-1zM145 661.1h1v1h-1zM130.2 674.4h1v1h-1zM117.3 659.5h1v1h-1zM145 673h1v1h-1zM86.4 721.8h1v1h-1zM82.2 691.4h1v1h-1zM116.6 672.5h1v1h-1zM73.3 667h1v1h-1zM72.7 722.1h1v1h-1zM109.1 681h1v1h-1zM105.4 724.4h1v1h-1zM139.7 686.8h1v1h-1zM117.8 687.2h1v1h-1zM109.1 717.6h1v1h-1zM107.8 705.2h1v1h-1zM88.8 692h1v1h-1zM70.9 679.6h1v1h-1zM84.6 716.1h1v1h-1zM122.6 678.3h1v1h-1zM85.2 719.7h1v1h-1zM98.1 650.6h1v1h-1zM70.3 679.8h1v1h-1zM133.1 687.1h1v1h-1zM81.7 722h1v1h-1zM90.3 665.3h1v1h-1zM136.9 710.3h1v1h-1zM108.7 699.8h1v1h-1zM134.4 703.1h1v1h-1zM118.6 696h1v1h-1zM126.4 723.7h1v1h-1zM77 671.9h1v1h-1zM111.1 677.3h1v1h-1zM108.6 661.4h1v1h-1zM136.2 649.1h1v1h-1zM97.5 662.2h1v1h-1zM115.5 719.2h1v1h-1zM74.5 713.1h1v1h-1zM99.5 654.1h1v1h-1zM94.6 693.9h1v1h-1zM81.4 683.8h1v1h-1zM132 693.2h1v1h-1zM98.8 698.4h1v1h-1zM144.4 669.8h1v1h-1zM114.8 722.9h1v1h-1zM116 682.7h1v1h-1zM118.5 695.9h1v1h-1zM121.4 696.5h1v1h-1zM81.5 659.9h1v1h-1zM103.5 650h1v1h-1zM88.2 678.3h1v1h-1zM100.6 706.9h1v1h-1zM77.3 711h1v1h-1zM143.6 704.1h1v1h-1zM86.3 654.2h1v1h-1zM121.1 719h1v1h-1zM92.8 710h1v1h-1zM136.4 716.1h1v1h-1zM120.3 687.4h1v1h-1zM80 719.2h1v1h-1zM134.2 648.8h1v1h-1zM141.8 647.5h1v1h-1zM138.7 646.6h1v1h-1zM113.3 665.5h1v1h-1zM81.1 665.1h1v1h-1zM84.6 660.2h1v1h-1zM140.5 690.9h1v1h-1zM112 648.2h1v1h-1zM83.7 692.8h1v1h-1zM137.2 658.4h1v1h-1zM118.8 699.9h1v1h-1zM113.3 646.7h1v1h-1zM98.6 670.2h1v1h-1zM101.2 721h1v1h-1zM88.2 688.6h1v1h-1zM72.9 710.7h1v1h-1zM136.6 698.3h1v1h-1zM105.5 694.5h1v1h-1zM111.6 660.5h1v1h-1zM94.5 691.5h1v1h-1zM127.1 648.2h1v1h-1zM71.9 709.9h1v1h-1zM98.3 722.8h1v1h-1zM72.3 714.2h1v1h-1zM79.3 649.1h1v1h-1zM143.5 672.4h1v1h-1zM120 670.8h1v1h-1zM102.5 654.1h1v1h-1zM109.8 695.8h1v1h-1zM136.3 709.6h1v1h-1zM96.2 670.4h1v1h-1zM114.9 714.9h1v1h-1zM122 709.6h1v1h-1zM97 655.5h1v1h-1zM109.5 707.1h1v1h-1zM92.6 686.9h1v1h-1zM78.2 694h1v1h-1zM67.8 679.8h1v1h-1zM89.3 695.6h1v1h-1zM76.5 694.6h1v1h-1zM65.7 691.4h1v1h-1zM100.1 688.2h1v1h-1zM91 699.1h1v1h-1zM98.5 674.7h1v1h-1zM76.2 698.1h1v1h-1zM81.5 695.7h1v1h-1zM76 696.1h1v1h-1zM77.8 697.2h1v1h-1zM95.1 685.8h1v1h-1zM79.5 690.1h1v1h-1zM97.7 700h1v1h-1zM97.4 697.7h1v1h-1zM124.4 695.3h1v1h-1zM69.7 676.3h1v1h-1zM106.2 698.9h1v1h-1zM90.6 705.9h1v1h-1zM91.8 704.1h1v1h-1zM68.8 695.6h1v1h-1zM84.6 675.9h1v1h-1zM103.9 703.4h1v1h-1zM90.7 691.4h1v1h-1zM93.3 665.1h1v1h-1zM87.3 697.1h1v1h-1zM110.5 676.6h1v1h-1zM91.7 678.7h1v1h-1zM56.8 686h1v1h-1zM80.9 707h1v1h-1zM60.5 688.9h1v1h-1zM44 696h1v1h-1zM83.5 712.2h1v1h-1zM113.3 710.5h1v1h-1zM92.8 691.9h1v1h-1zM73.2 690.3h1v1h-1zM76.9 679.1h1v1h-1zM110.1 685.4h1v1h-1zM94.5 697.7h1v1h-1zM92.8 697.4h1v1h-1zM91.1 694.2h1v1h-1zM92.6 703.9h1v1h-1zM104.9 684.5h1v1h-1zM100.8 692.4h1v1h-1zM95.5 701h1v1h-1zM75.3 699.4h1v1h-1zM100.2 704.8h1v1h-1zM81.1 697.4h1v1h-1zM109.5 689.6h1v1h-1zM71.7 697h1v1h-1zM89.8 682h1v1h-1zM91.9 675h1v1h-1zM70.8 699.4h1v1h-1zM119.6 692.4h1v1h-1zM115.4 696.4h1v1h-1zM84.6 674.3h1v1h-1zM104.3 689h1v1h-1zM98.1 686.4h1v1h-1zM50.2 683.5h1v1h-1zM96 668.2h1v1h-1zM91 689.3h1v1h-1zM93.3 702.9h1v1h-1zM74.8 697.2h1v1h-1zM87.7 686.4h1v1h-1zM89.1 692.8h1v1h-1zM111 701.3h1v1h-1zM97.4 662.6h1v1h-1zM91.9 691.6h1v1h-1zM116.5 699h1v1h-1zM83.1 700.5h1v1h-1zM85.8 711.7h1v1h-1zM62.9 705.5h1v1h-1zM117.1 696.4h1v1h-1zM107.4 696.3h1v1h-1zM106.7 701.7h1v1h-1zM102.7 687.1h1v1h-1zM93.8 692.6h1v1h-1zM95.4 703h1v1h-1zM88 714.5h1v1h-1zM88.7 691.2h1v1h-1zM92.9 692.5h1v1h-1zM116.2 695.2h1v1h-1zM100.9 707.8h1v1h-1zM91.1 692.7h1v1h-1zM82.7 709.2h1v1h-1zM81.8 682.4h1v1h-1zM117.6 691h1v1h-1zM100.1 690.8h1v1h-1zM93.1 701.7h1v1h-1zM86.5 704.5h1v1h-1zM74.3 676.4h1v1h-1zM90.9 682.9h1v1h-1zM106 696.7h1v1h-1zM85.7 685.8h1v1h-1zM88.4 676.3h1v1h-1zM88.5 704.4h1v1h-1zM93.8 698.4h1v1h-1zM66.5 698.4h1v1h-1zM88.2 687.8h1v1h-1zM78.3 704.3h1v1h-1zM106.2 690.4h1v1h-1zM79.7 705.1h1v1h-1zM101.2 683h1v1h-1zM116.4 683.6h1v1h-1zM87 695.3h1v1h-1zM82.4 685.3h1v1h-1zM95.1 700.4h1v1h-1zM92 695.9h1v1h-1zM76.1 682.8h1v1h-1zM99.4 693.8h1v1h-1zM124.2 689.1h1v1h-1zM87.9 703.1h1v1h-1zM88.8 686h1v1h-1zM75.3 688.2h1v1h-1zM97.1 706.3h1v1h-1zM72 717.6h1v1h-1zM74.3 715h1v1h-1zM112.5 693.7h1v1h-1zM77.5 695.4h1v1h-1zM109.3 709.9h1v1h-1zM116.4 691.6h1v1h-1zM96.1 682.3h1v1h-1zM100.9 694.3h1v1h-1zM123.2 698h1v1h-1zM88.9 683.9h1v1h-1zM82.5 674.9h1v1h-1zM70.3 677.2h1v1h-1zM92.7 700.3h1v1h-1zM115.7 684.7h1v1h-1zM107.4 691.4h1v1h-1zM76.9 695.3h1v1h-1zM78.3 699.8h1v1h-1zM83.9 689.3h1v1h-1zM96.7 698.5h1v1h-1zM88.7 683.2h1v1h-1zM95.4 689h1v1h-1zM96.7 681.7h1v1h-1zM87.2 705.4h1v1h-1zM91.4 692.7h1v1h-1zM95.3 684.9h1v1h-1zM90.7 689.1h1v1h-1zM100.1 690.6h1v1h-1zM121.9 700.7h1v1h-1zM101.5 675.4h1v1h-1zM92.9 681.6h1v1h-1zM65 688.8h1v1h-1zM98.2 720.9h1v1h-1zM60.9 703.5h1v1h-1zM69.5 691.8h1v1h-1zM105.7 700.8h1v1h-1zM103.3 715.6h1v1h-1zM89.6 690.4h1v1h-1zM64.6 689h1v1h-1zM86.1 706.3h1v1h-1zM81.1 698.4h1v1h-1zM102.2 700.4h1v1h-1zM128.1 687.4h1v1h-1zM95.5 714.2h1v1h-1zM79.5 711.8h1v1h-1zM73.3 699.2h1v1h-1zM91.1 700.5h1v1h-1zM89.2 670.7h1v1h-1zM73.6 700h1v1h-1zM93.9 690.9h1v1h-1zM73.6 697.8h1v1h-1zM109.8 700.5h1v1h-1zM109 689.2h1v1h-1zM109.4 674.4h1v1h-1zM84.4 697h1v1h-1zM100.2 684.8h1v1h-1zM89.9 689.4h1v1h-1zM85.8 686.4h1v1h-1zM86.6 689.2h1v1h-1zM71.2 667.6h1v1h-1zM68.9 706.4h1v1h-1zM104.7 695.8h1v1h-1zM88.9 705.2h1v1h-1zM95.5 714.8h1v1h-1zM108 693.2h1v1h-1zM64.3 673.2h1v1h-1zM79.5 683.2h1v1h-1zM94.8 679.7h1v1h-1zM98.3 687.5h1v1h-1zM86 693.9h1v1h-1zM108.5 671h1v1h-1zM95.4 696.8h1v1h-1zM72.6 676.4h1v1h-1zM77.1 696.3h1v1h-1zM104.9 691.8h1v1h-1zM99.4 689.6h1v1h-1zM61.6 692.2h1v1h-1zM113.6 687.1h1v1h-1zM101.6 686.3h1v1h-1zM113.5 674.5h1v1h-1zM85.9 692.7h1v1h-1zM87.3 713.3h1v1h-1zM74 714.8h1v1h-1zM132.6 707.5h1v1h-1zM89.2 700.8h1v1h-1zM117.4 685.6h1v1h-1zM81.6 708.9h1v1h-1zM94.6 692.4h1v1h-1zM65.3 692.2h1v1h-1zM85.9 689.8h1v1h-1zM107.7 694h1v1h-1zM72 688.2h1v1h-1zM109.2 692.1h1v1h-1zM97.4 681.1h1v1h-1zM75.3 688.9h1v1h-1zM84 718.1h1v1h-1zM84.7 692.2h1v1h-1zM91.2 690.4h1v1h-1zM83.4 698.9h1v1h-1zM78.8 700.8h1v1h-1zM87.1 680.7h1v1h-1zM75.6 690.7h1v1h-1zM71.4 703.1h1v1h-1zM91.2 696h1v1h-1zM106.1 694.3h1v1h-1zM67.5 710.1h1v1h-1zM92.1 685.5h1v1h-1zM81.6 693.9h1v1h-1zM76.4 687.3h1v1h-1zM105.7 709.4h1v1h-1zM83.7 671.5h1v1h-1zM116 685.6h1v1h-1zM79.5 687.2h1v1h-1zM98.2 700.3h1v1h-1zM88.4 699.7h1v1h-1zM79.9 708.3h1v1h-1zM101.4 675.7h1v1h-1zM89.5 701.3h1v1h-1zM101.7 689.8h1v1h-1zM91.2 685.7h1v1h-1zM74.6 698.9h1v1h-1zM90.4 682.9h1v1h-1zM92.8 670.2h1v1h-1zM107.3 688.9h1v1h-1zM77.5 676.5h1v1h-1zM91.4 685.9h1v1h-1zM64.4 697.1h1v1h-1zM102.4 696.4h1v1h-1zM74.7 710.5h1v1h-1zM63.1 690.8h1v1h-1zM91.1 676.1h1v1h-1zM109.7 684.7h1v1h-1zM67.6 682.9h1v1h-1zM74.6 679.6h1v1h-1zM80.1 697.8h1v1h-1zM73.9 685.9h1v1h-1zM98.1 671.2h1v1h-1zM79.1 700.7h1v1h-1zM80.5 691.8h1v1h-1zM101.3 696.9h1v1h-1zM79.9 694.2h1v1h-1zM98.9 699.9h1v1h-1zM76.5 693.4h1v1h-1zM72.6 706.6h1v1h-1zM62.6 697.7h1v1h-1zM121.8 697.3h1v1h-1zM86.9 697.5h1v1h-1zM95.9 677h1v1h-1zM91.5 691.2h1v1h-1zM94.6 690.1h1v1h-1zM92.8 695.3h1v1h-1zM122.5 678.1h1v1h-1zM75.4 711h1v1h-1zM67.1 694.1h1v1h-1zM75.8 679.7h1v1h-1zM70.6 674.2h1v1h-1zM104 689.9h1v1h-1zM105.1 692h1v1h-1zM76.6 685.1h1v1h-1zM69.8 694h1v1h-1zM86.3 685.9h1v1h-1zM114.3 699.1h1v1h-1zM46.9 685h1v1h-1zM100.4 692.6h1v1h-1zM74.8 703.8h1v1h-1zM108.6 721.3h1v1h-1zM74.8 681.9h1v1h-1zM87.4 687.9h1v1h-1zM67.9 683.8h1v1h-1zM76.4 701.6h1v1h-1zM114.2 680.4h1v1h-1zM105.1 687.7h1v1h-1zM85.6 692.7h1v1h-1zM78.1 682.2h1v1h-1zM61.7 682.5h1v1h-1zM85.7 687.8h1v1h-1zM91.5 669.9h1v1h-1zM90.7 677.1h1v1h-1zM90.5 688.5h1v1h-1zM74.1 694.6h1v1h-1zM90.9 691h1v1h-1zM91.4 673.5h1v1h-1zM112.6 687.9h1v1h-1zM121.9 701.8h1v1h-1zM89.8 699.1h1v1h-1zM79.7 692.1h1v1h-1zM91 683.2h1v1h-1zM82.3 699.9h1v1h-1zM80.1 686.6h1v1h-1zM91.1 680.1h1v1h-1zM75.3 684.2h1v1h-1zM101.7 708.9h1v1h-1zM90.3 695.4h1v1h-1zM96 705.8h1v1h-1zM89.1 687.7h1v1h-1zM80.4 703.3h1v1h-1zM76.8 686.4h1v1h-1zM88.2 691.3h1v1h-1zM83.2 720.3h1v1h-1zM95.7 701.4h1v1h-1zM91.9 687.5h1v1h-1zM70.2 692.1h1v1h-1zM93.1 696.6h1v1h-1zM70.5 706.3h1v1h-1zM82.1 687.6h1v1h-1zM87.3 673.8h1v1h-1zM58.8 689.9h1v1h-1zM93.5 693.2h1v1h-1zM94.4 694.2h1v1h-1zM89.5 707.5h1v1h-1zM85.2 696.5h1v1h-1zM86 701.9h1v1h-1zM76.4 680.9h1v1h-1zM87.7 702.5h1v1h-1zM46.3 684h1v1h-1zM64.7 663.1h1v1h-1zM61.6 659h1v1h-1zM58.2 667.7h1v1h-1zM60.1 645.4h1v1h-1zM46.6 664.9h1v1h-1zM50.8 654h1v1h-1zM59.2 677.1h1v1h-1zM68.8 667.6h1v1h-1zM65.2 684.1h1v1h-1zM60.7 685.3h1v1h-1zM57.5 659.3h1v1h-1zM44.4 657.6h1v1h-1zM67.2 687.3h1v1h-1zM45.7 667.7h1v1h-1zM47.4 649.3h1v1h-1zM62 647.1h1v1h-1zM65.1 689.6h1v1h-1zM64.5 671.1h1v1h-1zM55.8 647.5h1v1h-1zM48.6 668h1v1h-1zM44.9 667.7h1v1h-1zM66.1 664.6h1v1h-1zM69.4 687.8h1v1h-1zM50.3 687.7h1v1h-1zM116.1 669.7h1v1h-1zM129.9 672.3h1v1h-1zM104.1 675.4h1v1h-1zM129.9 660.6h1v1h-1zM111.6 655.3h1v1h-1zM107 668.6h1v1h-1zM130.6 656.6h1v1h-1zM117 667.3h1v1h-1zM105 669.2h1v1h-1zM114.4 696.1h1v1h-1zM127.3 657.8h1v1h-1zM129.9 666.5h1v1h-1zM113.7 666h1v1h-1zM122.1 673.2h1v1h-1zM125.1 680.6h1v1h-1zM111.6 662.1h1v1h-1zM121.6 658.1h1v1h-1zM117.7 648.3h1v1h-1zM112.6 656.9h1v1h-1zM113.1 674.4h1v1h-1zM118.7 668.5h1v1h-1zM118.3 655.8h1v1h-1zM112.3 663.5h1v1h-1zM113.7 668.4h1v1h-1zM129.1 674h1v1h-1zM120.1 660.9h1v1h-1zM126.9 665h1v1h-1zM130 646.2h1v1h-1zM123.9 654.2h1v1h-1zM140.7 687.4h1v1h-1zM109.7 641.7h1v1h-1zM126.1 663.9h1v1h-1zM114.8 670.6h1v1h-1zM136.6 663.5h1v1h-1zM135 658.3h1v1h-1zM98.5 667.3h1v1h-1zM108.3 667.9h1v1h-1zM124.6 667h1v1h-1zM125.9 645.5h1v1h-1zM125.4 666.2h1v1h-1zM117.3 657.7h1v1h-1zM122.6 661.4h1v1h-1zM124.5 670.7h1v1h-1zM117.2 675.7h1v1h-1zM128.3 678.8h1v1h-1zM95.4 662h1v1h-1zM124.3 679.1h1v1h-1zM107.7 682.1h1v1h-1zM127.6 681.6h1v1h-1zM115.7 684.7h1v1h-1zM109.1 666.3h1v1h-1zM121.7 665.9h1v1h-1zM108.9 677.9h1v1h-1zM108.9 651.6h1v1h-1zM102.3 670.5h1v1h-1zM117.7 661.6h1v1h-1zM123 663.6h1v1h-1zM128.2 647.1h1v1h-1zM116.6 657.3h1v1h-1zM128.5 667.8h1v1h-1zM118.2 678.7h1v1h-1zM117.1 679.9h1v1h-1zM123.7 667h1v1h-1zM128.6 665.7h1v1h-1zM114.6 658h1v1h-1zM115.6 672.8h1v1h-1zM116.4 665h1v1h-1zM118.8 675.3h1v1h-1zM109 689h1v1h-1zM128.3 667.6h1v1h-1zM114 650h1v1h-1zM122.6 657.7h1v1h-1zM109.7 650.5h1v1h-1zM121.6 653.6h1v1h-1zM121.9 683.7h1v1h-1zM113.8 670.7h1v1h-1zM138.2 649.8h1v1h-1zM121.7 675.8h1v1h-1zM135.8 683.1h1v1h-1zM127.6 663.7h1v1h-1zM111.4 659.9h1v1h-1zM114.2 664h1v1h-1zM122.4 671.4h1v1h-1zM118.6 675.7h1v1h-1zM118.5 682.2h1v1h-1zM115.1 682.5h1v1h-1zM99.9 682.2h1v1h-1zM115.7 684.3h1v1h-1zM95.8 675.9h1v1h-1zM121.7 649.6h1v1h-1zM110.7 666.4h1v1h-1zM110.8 671.8h1v1h-1zM115.8 663.4h1v1h-1zM120.7 678.9h1v1h-1zM103.7 663.7h1v1h-1zM100.5 656.9h1v1h-1zM107.3 685.3h1v1h-1zM97.6 676h1v1h-1zM108.3 670.6h1v1h-1zM133.9 679.1h1v1h-1zM107.4 680.8h1v1h-1zM124.5 672.1h1v1h-1zM104.3 638.5h1v1h-1zM121 659.9h1v1h-1zM114.8 662.5h1v1h-1zM117.4 656.2h1v1h-1zM123.7 670.4h1v1h-1zM135.6 682.3h1v1h-1zM119.9 662.2h1v1h-1zM119.2 654.4h1v1h-1zM108.3 692.3h1v1h-1zM123.8 662.6h1v1h-1zM115.5 653.2h1v1h-1zM126.3 670.9h1v1h-1zM117.6 673.1h1v1h-1zM135.4 659.5h1v1h-1zM98.2 677.5h1v1h-1zM115 662.2h1v1h-1zM126.8 656.9h1v1h-1zM114.5 670.1h1v1h-1zM110.1 677.2h1v1h-1zM115.3 660.4h1v1h-1zM104.2 672h1v1h-1zM119.2 666.9h1v1h-1zM142.4 701.9h1v1h-1zM129.5 659.5h1v1h-1zM106.9 684.6h1v1h-1zM109.3 667.4h1v1h-1zM114 666.5h1v1h-1zM128 676.7h1v1h-1zM109.8 678.7h1v1h-1zM111.1 683.2h1v1h-1zM126.8 671.9h1v1h-1zM126.6 660.8h1v1h-1zM114.3 661.5h1v1h-1zM106.8 674.1h1v1h-1zM102.5 675h1v1h-1zM111 684.8h1v1h-1zM95.7 673h1v1h-1zM125.5 680.7h1v1h-1zM111.7 686.2h1v1h-1zM122.8 670h1v1h-1zM136.7 650.2h1v1h-1zM129.7 653.8h1v1h-1zM106.5 650.7h1v1h-1zM126.7 687.1h1v1h-1zM129.6 657.8h1v1h-1zM110.5 682.8h1v1h-1zM108.5 675h1v1h-1zM116.9 688.6h1v1h-1zM102 680h1v1h-1zM132.7 666.8h1v1h-1zM93.9 665.6h1v1h-1zM106.9 669h1v1h-1zM115.3 670.1h1v1h-1zM115.7 661.6h1v1h-1zM119.7 667.6h1v1h-1zM120.7 687.3h1v1h-1zM115.9 647.6h1v1h-1zM129.4 671.1h1v1h-1zM96.6 657.1h1v1h-1zM118 670.2h1v1h-1zM110.9 678.1h1v1h-1zM119.3 667.3h1v1h-1zM120.2 677.3h1v1h-1zM108.9 648.9h1v1h-1zM111.6 681.3h1v1h-1zM125.9 660.8h1v1h-1zM121.5 675.5h1v1h-1zM111.2 670.2h1v1h-1zM138.4 637h1v1h-1zM141.1 658.9h1v1h-1zM103.4 670.6h1v1h-1zM121 686.6h1v1h-1zM143.1 671.4h1v1h-1zM125.8 671.1h1v1h-1zM120.2 651h1v1h-1zM115.9 685.2h1v1h-1zM112.6 689.7h1v1h-1zM115.9 668.3h1v1h-1zM112.5 665.4h1v1h-1zM125.4 648.6h1v1h-1zM114 678.6h1v1h-1zM113.6 700.4h1v1h-1zM106 676.6h1v1h-1zM117.5 683.2h1v1h-1zM109.1 674.5h1v1h-1zM116.2 656.2h1v1h-1zM128.4 684h1v1h-1zM121.7 653.2h1v1h-1zM123 665.5h1v1h-1zM121.6 671.3h1v1h-1zM118.6 678.6h1v1h-1zM116.7 673h1v1h-1zM114.9 672.6h1v1h-1zM125.6 658.9h1v1h-1zM107.2 652.5h1v1h-1zM131.4 668.7h1v1h-1zM118.3 659.5h1v1h-1zM110.5 652.3h1v1h-1zM113.1 652.8h1v1h-1zM111.2 662.1h1v1h-1zM119.6 645.8h1v1h-1zM110.8 651.8h1v1h-1zM129.4 648.4h1v1h-1zM110.2 670.2h1v1h-1zM95.3 672.9h1v1h-1zM110.7 692.1h1v1h-1zM97.9 650h1v1h-1zM117.6 659.8h1v1h-1zM128.6 679h1v1h-1zM124.5 665.4h1v1h-1zM104.6 664.1h1v1h-1zM110.4 688.5h1v1h-1zM135.8 663.9h1v1h-1zM121.2 654.1h1v1h-1zM118 652.2h1v1h-1zM128.6 672h1v1h-1zM142.5 671.7h1v1h-1zM131 651.5h1v1h-1zM89.2 710.9h1v1h-1zM113.6 709.8h1v1h-1zM114.2 709.3h1v1h-1zM94.7 710.7h1v1h-1zM115 710.8h1v1h-1zM114.1 717.9h1v1h-1zM76.5 710.5h1v1h-1zM100 716.8h1v1h-1zM111.6 718.5h1v1h-1zM95.8 711.5h1v1h-1zM70.8 716.8h1v1h-1zM100.5 725h1v1h-1zM117 718h1v1h-1zM130.3 712.1h1v1h-1zM69.9 715.6h1v1h-1zM145 710.4h1v1h-1zM87 717.7h1v1h-1zM120.3 721.3h1v1h-1zM124.7 711h1v1h-1zM120.7 714.7h1v1h-1zM107.4 722.8h1v1h-1zM86.4 712.9h1v1h-1zM115 717.2h1v1h-1zM93.6 709.7h1v1h-1zM64.6 711h1v1h-1zM145 712.9h1v1h-1zM116.3 725h1v1h-1zM134.1 713.5h1v1h-1zM90.4 712.8h1v1h-1zM128.5 712.6h1v1h-1zM130.4 715h1v1h-1zM129.9 719.9h1v1h-1zM104.7 717.1h1v1h-1zM85.8 725h1v1h-1zM102.2 717.3h1v1h-1zM69.8 724.7h1v1h-1zM77.8 717.7h1v1h-1zM106.5 719.6h1v1h-1zM89.1 707.3h1v1h-1zM102.4 715.2h1v1h-1zM103.3 715.6h1v1h-1zM135.9 714.5h1v1h-1zM125.8 703.1h1v1h-1zM104.3 721.3h1v1h-1zM124.3 713.7h1v1h-1zM92.5 713.4h1v1h-1zM99.6 714.5h1v1h-1zM119.6 714.6h1v1h-1zM85.1 718.4h1v1h-1zM100.5 708.4h1v1h-1zM83.9 710.4h1v1h-1zM106.9 717.7h1v1h-1zM131.1 716.9h1v1h-1zM93 713.7h1v1h-1zM108.6 712.6h1v1h-1zM90.6 711h1v1h-1zM86.6 715.6h1v1h-1zM85.2 723.1h1v1h-1zM128.3 709.7h1v1h-1zM142.8 725h1v1h-1zM112.7 721.1h1v1h-1zM93.5 713.3h1v1h-1zM116.3 720.7h1v1h-1zM99.7 707.2h1v1h-1zM117.8 705.6h1v1h-1zM109.7 708.3h1v1h-1zM109.5 713.5h1v1h-1zM114.7 714h1v1h-1zM95.7 712.9h1v1h-1zM98.5 716.6h1v1h-1zM77.5 703.2h1v1h-1zM97.9 719h1v1h-1zM82.2 707.5h1v1h-1zM102.7 712h1v1h-1zM89.7 713.5h1v1h-1zM106.6 709.1h1v1h-1zM112.3 707.8h1v1h-1zM82.3 710h1v1h-1zM92 715.9h1v1h-1zM89.9 719.5h1v1h-1zM116.9 719.4h1v1h-1zM132.3 710h1v1h-1zM118.6 711.3h1v1h-1zM99.4 710.5h1v1h-1zM128.4 718.7h1v1h-1zM80.8 703.8h1v1h-1zM129 723.4h1v1h-1zM94.5 713.1h1v1h-1zM60.5 711.3h1v1h-1zM145 718h1v1h-1zM130.2 722.2h1v1h-1zM88.5 718.1h1v1h-1zM107.7 722.3h1v1h-1zM101.6 716.8h1v1h-1zM106.6 723.4h1v1h-1zM81.3 723.5h1v1h-1zM94.1 715.4h1v1h-1zM112.5 724.6h1v1h-1zM108.6 717h1v1h-1zM124.2 716.5h1v1h-1zM106.3 710.5h1v1h-1zM142.6 714.3h1v1h-1zM93.5 720.7h1v1h-1zM109.1 708.1h1v1h-1zM74.3 719.9h1v1h-1zM84.9 718.1h1v1h-1zM126.3 717.7h1v1h-1zM89.9 702.8h1v1h-1zM113.5 715.4h1v1h-1zM104 719.9h1v1h-1zM88.3 711.4h1v1h-1zM99.4 716.5h1v1h-1zM96.8 701.7h1v1h-1zM97.2 720h1v1h-1zM117.1 712h1v1h-1zM115.4 721.2h1v1h-1zM95.8 704.9h1v1h-1zM90.5 720.2h1v1h-1zM109.5 714.6h1v1h-1zM103.4 720.8h1v1h-1zM121.5 710.4h1v1h-1zM145 712.3h1v1h-1zM118.5 725h1v1h-1zM104.4 711h1v1h-1zM102.2 711.8h1v1h-1zM91.3 714.3h1v1h-1zM90.5 709.9h1v1h-1zM88.9 723.1h1v1h-1zM98.7 725h1v1h-1zM98.2 711.8h1v1h-1zM116.9 705.6h1v1h-1zM98.6 723h1v1h-1zM101.8 722.7h1v1h-1zM85.5 720.9h1v1h-1zM131.3 722.9h1v1h-1zM113.1 710.8h1v1h-1zM133.6 715h1v1h-1zM117.8 707.7h1v1h-1zM128.8 707.5h1v1h-1zM101 721.9h1v1h-1zM116.5 712h1v1h-1zM145 725h1v1h-1zM85.4 716.4h1v1h-1zM123.8 712.2h1v1h-1zM132.2 720.8h1v1h-1zM111.7 725h1v1h-1zM117.2 718.9h1v1h-1zM125.5 708.7h1v1h-1zM94.3 718.2h1v1h-1zM111.7 724.3h1v1h-1zM90.8 713h1v1h-1zM93.9 711.4h1v1h-1zM94.9 722.1h1v1h-1zM102.7 716.8h1v1h-1zM107.4 709.4h1v1h-1zM112.4 713.7h1v1h-1zM81.8 711.5h1v1h-1zM137.4 717.8h1v1h-1zM123.9 716.7h1v1h-1zM116.9 722.9h1v1h-1zM99.1 720.3h1v1h-1zM103.5 706.6h1v1h-1zM114 718.4h1v1h-1zM111.7 721.4h1v1h-1zM77.5 718.7h1v1h-1zM117.1 722.2h1v1h-1zM145 712.7h1v1h-1zM74.7 710.3h1v1h-1zM121.3 721.6h1v1h-1zM111.1 709.6h1v1h-1zM103.2 703h1v1h-1zM127.5 722.2h1v1h-1zM85.6 711.7h1v1h-1zM107.7 714.2h1v1h-1zM129 707.6h1v1h-1zM101.8 708h1v1h-1zM98.1 709.1h1v1h-1zM106.9 713.8h1v1h-1zM97.7 718.2h1v1h-1zM130.4 702.2h1v1h-1zM90.1 720.5h1v1h-1zM119.4 708.9h1v1h-1zM84.4 709.6h1v1h-1zM116 720.1h1v1h-1zM103.3 715.6h1v1h-1zM62.5 706.8h1v1h-1zM104.9 725h1v1h-1zM87.5 710.8h1v1h-1zM97.7 717.5h1v1h-1zM130.3 717.2h1v1h-1zM86.6 724.5h1v1h-1zM87.6 713.3h1v1h-1zM128.7 722h1v1h-1zM106.9 711.5h1v1h-1zM130.4 722.7h1v1h-1zM110.3 711.4h1v1h-1zM90.5 713.8h1v1h-1zM103.9 725h1v1h-1zM125.2 717.9h1v1h-1zM120.5 716.7h1v1h-1zM105 725h1v1h-1zM105.8 718.2h1v1h-1zM103.1 711.1h1v1h-1zM95.5 720.4h1v1h-1zM136.8 708.9h1v1h-1zM105.1 722.8h1v1h-1zM86.4 723.2h1v1h-1zM97.2 712.6h1v1h-1zM116.9 712.2h1v1h-1zM115.6 717.1h1v1h-1zM102.7 716.1h1v1h-1zM94 710.1h1v1h-1zM105.4 719.4h1v1h-1zM77.5 703.7h1v1h-1zM83.6 713.4h1v1h-1zM118.1 713.6h1v1h-1zM97.1 714.4h1v1h-1zM111.2 717.8h1v1h-1zM125 708.6h1v1h-1zM115.7 719.5h1v1h-1zM105.3 714.9h1v1h-1zM140 712.1h1v1h-1zM116 707.8h1v1h-1zM99.2 708.9h1v1h-1zM117 718.2h1v1h-1zM111.7 710.2h1v1h-1zM90.9 716.4h1v1h-1zM106.2 722.4h1v1h-1zM102.3 722.2h1v1h-1zM72.7 725h1v1h-1zM102.2 714.2h1v1h-1zM100.3 709.5h1v1h-1zM97.8 722.1h1v1h-1zM77.9 717.9h1v1h-1zM99.2 722.7h1v1h-1zM104.3 716.1h1v1h-1zM106.7 723.2h1v1h-1zM86.3 721.1h1v1h-1zM115.4 720.3h1v1h-1zM85 719h1v1h-1zM101.3 718.4h1v1h-1zM126.5 717.4h1v1h-1zM93.6 717.4h1v1h-1zM96.6 721.9h1v1h-1zM122.7 712.9h1v1h-1zM98.7 725h1v1h-1zM100.1 715.4h1v1h-1zM108.6 721.9h1v1h-1zM122.3 715.5h1v1h-1zM68.8 714.5h1v1h-1zM84.4 685.7h1v1h-1zM56.3 700.7h1v1h-1zM44.7 679.2h1v1h-1zM51.4 701.3h1v1h-1zM56.2 700.3h1v1h-1zM85.9 692.1h1v1h-1zM62.5 687.9h1v1h-1zM71.2 683.4h1v1h-1zM48 722.5h1v1h-1zM64.2 683.9h1v1h-1zM68.1 718.7h1v1h-1zM81.6 707.2h1v1h-1zM51.6 695.6h1v1h-1zM67.2 686.1h1v1h-1zM63.6 712.5h1v1h-1zM47.7 720.8h1v1h-1zM59.8 688.8h1v1h-1zM56.8 696.4h1v1h-1zM44 712.6h1v1h-1zM67.2 704h1v1h-1zM66.5 724h1v1h-1zM54.7 693.2h1v1h-1zM44 706.5h1v1h-1zM77.8 685h1v1h-1zM63.2 725h1v1h-1zM72.2 691.2h1v1h-1zM76.9 673.5h1v1h-1zM53.7 698.5h1v1h-1zM69.7 698.3h1v1h-1zM57.1 723h1v1h-1zM59.2 695.9h1v1h-1zM59 699.8h1v1h-1zM60 707.1h1v1h-1zM73.4 719h1v1h-1zM61.5 699.2h1v1h-1zM58.2 712.5h1v1h-1zM56.7 706.2h1v1h-1zM64.1 696.4h1v1h-1zM49.3 700.9h1v1h-1zM54 700.3h1v1h-1zM59.4 689h1v1h-1zM53.2 714.6h1v1h-1zM58.6 683.4h1v1h-1zM52.7 714.1h1v1h-1zM84 711.5h1v1h-1zM75.9 698.9h1v1h-1zM65.4 690.8h1v1h-1zM59.4 697.3h1v1h-1zM86.3 705.7h1v1h-1zM63.9 708.9h1v1h-1zM59 703.4h1v1h-1zM63.6 711.9h1v1h-1zM63.7 693.3h1v1h-1zM76.9 702.8h1v1h-1zM59.8 681.2h1v1h-1zM85.2 709.2h1v1h-1zM49.4 701.8h1v1h-1zM68.3 695h1v1h-1zM48 713.9h1v1h-1zM81.8 708.3h1v1h-1zM56 666.2h1v1h-1zM59.3 700.5h1v1h-1zM71.1 682.5h1v1h-1zM75.1 712.8h1v1h-1zM46.7 725h1v1h-1zM55.8 693.8h1v1h-1zM44 700.9h1v1h-1zM61.6 697h1v1h-1zM58.8 704.2h1v1h-1zM55.8 707.7h1v1h-1zM51.8 715.4h1v1h-1zM55.4 688.2h1v1h-1zM51 718.9h1v1h-1zM66.3 688.8h1v1h-1zM78.2 703.3h1v1h-1zM44 713.9h1v1h-1zM58.6 708.6h1v1h-1zM55 688.7h1v1h-1zM65.9 691.6h1v1h-1zM48.6 694.5h1v1h-1zM58.2 699.4h1v1h-1zM47.5 713.8h1v1h-1zM68.4 684.5h1v1h-1zM61.2 705.6h1v1h-1zM58.1 707.3h1v1h-1zM64.4 706.7h1v1h-1zM57 705.6h1v1h-1zM44 718.2h1v1h-1zM67.1 705.9h1v1h-1zM63.5 710.3h1v1h-1zM58.2 706.8h1v1h-1zM71.8 721.5h1v1h-1zM74.6 677.2h1v1h-1zM46.9 715.4h1v1h-1zM50.6 696.9h1v1h-1zM78.6 696.6h1v1h-1zM77 688.4h1v1h-1zM51.1 677.6h1v1h-1zM45.8 695.4h1v1h-1zM52.3 691.8h1v1h-1zM54 705.9h1v1h-1zM44 682.3h1v1h-1zM60.4 717.2h1v1h-1zM44.6 703.3h1v1h-1zM45.5 697h1v1h-1zM71 691.5h1v1h-1zM51.8 690.6h1v1h-1zM59.1 686.4h1v1h-1zM67.5 693.5h1v1h-1zM69.8 700.1h1v1h-1zM56 697.9h1v1h-1zM60.5 683h1v1h-1zM50.1 696.8h1v1h-1zM81 689.3h1v1h-1zM67.8 701.9h1v1h-1zM46.8 722.4h1v1h-1zM60 707.5h1v1h-1zM68.6 696.2h1v1h-1zM65.8 680.5h1v1h-1zM82 683h1v1h-1zM76.5 679.8h1v1h-1zM53.5 708.7h1v1h-1zM58.9 690.8h1v1h-1zM44.6 700.8h1v1h-1zM63 692.5h1v1h-1zM61.8 701.1h1v1h-1zM92.4 716.8h1v1h-1zM61.2 691.8h1v1h-1zM44 695.9h1v1h-1zM51.9 690.3h1v1h-1zM61.3 710.5h1v1h-1zM44.9 687.7h1v1h-1zM49.6 686.4h1v1h-1zM55.6 683.3h1v1h-1zM64.1 683.1h1v1h-1zM58 705.7h1v1h-1zM49.3 725h1v1h-1zM69.5 688.1h1v1h-1zM53.5 711.4h1v1h-1zM54 703h1v1h-1zM44 686.8h1v1h-1zM50.6 696.7h1v1h-1zM67.8 697.2h1v1h-1zM44 691.7h1v1h-1zM59.1 723.2h1v1h-1zM68.6 677.1h1v1h-1zM55.5 704.6h1v1h-1zM62.9 704h1v1h-1zM46.6 693h1v1h-1zM75.7 701.8h1v1h-1zM73.2 710.5h1v1h-1zM62.8 701.8h1v1h-1zM44 705h1v1h-1zM47.4 708.3h1v1h-1zM71.7 675.6h1v1h-1zM80.6 717.7h1v1h-1zM63.6 725h1v1h-1zM75 711.8h1v1h-1zM52.7 712.2h1v1h-1zM57.7 683.1h1v1h-1zM60 698.6h1v1h-1zM65.1 690.3h1v1h-1zM44 693h1v1h-1zM71.3 711.6h1v1h-1zM75.9 690.4h1v1h-1zM46.2 698.4h1v1h-1zM44 677.1h1v1h-1zM64.2 698.1h1v1h-1zM52.1 701.1h1v1h-1zM44 691.5h1v1h-1zM69.7 691.4h1v1h-1zM61.9 722.6h1v1h-1zM54.3 685.5h1v1h-1zM85.4 687.4h1v1h-1zM61.7 690.3h1v1h-1zM51 714.4h1v1h-1zM61.2 725h1v1h-1zM47.5 704h1v1h-1zM50.9 691.4h1v1h-1zM64.6 694.9h1v1h-1zM53.3 712.8h1v1h-1zM54.6 689.1h1v1h-1zM80 717.4h1v1h-1zM70.3 717h1v1h-1zM69.6 700.8h1v1h-1zM66.3 707.8h1v1h-1zM65.8 709h1v1h-1zM77.5 718.7h1v1h-1zM59.8 687.4h1v1h-1zM82.3 714.2h1v1h-1zM48.6 695.5h1v1h-1zM56.9 690.8h1v1h-1zM44 701.2h1v1h-1zM55.9 697.4h1v1h-1zM66.2 688.2h1v1h-1zM77.4 680.8h1v1h-1zM52 688.7h1v1h-1zM60.1 717.4h1v1h-1zM55.7 723.6h1v1h-1zM51.1 707.8h1v1h-1z" fill="#a8a8a8"/>
<path d="M127.3 689.3h1v1h-1zM115.4 664.3h1v1h-1zM118.5 670h1v1h-1zM121 670.4h1v1h-1zM111.4 643.9h1v1h-1zM112.1 668.1h1v1h-1zM119.7 660.6h1v1h-1zM116.8 679.5h1v1h-1zM111.6 664.7h1v1h-1zM121.7 660h1v1h-1zM117.2 665h1v1h-1zM126.1 668.5h1v1h-1zM119 662h1v1h-1zM116.9 666.5h1v1h-1zM119.9 654.8h1v1h-1zM117.8 665h1v1h-1zM114.3 674h1v1h-1zM116.2 684.7h1v1h-1zM124.2 673.4h1v1h-1zM123.5 669.4h1v1h-1zM128 677.7h1v1h-1zM107.1 676.2h1v1h-1zM116.2 682h1v1h-1zM116.1 676.7h1v1h-1zM120.2 665.9h1v1h-1zM115.8 669.3h1v1h-1zM115.4 668.6h1v1h-1zM124.5 669.7h1v1h-1zM120.2 668.8h1v1h-1zM110.8 660h1v1h-1zM128.3 648.1h1v1h-1zM126 661h1v1h-1zM115 648.8h1v1h-1zM124.8 667.6h1v1h-1zM113.9 667h1v1h-1zM126.9 651.9h1v1h-1zM117.5 673.2h1v1h-1zM113.4 674.8h1v1h-1zM116.4 667.9h1v1h-1zM113.6 682h1v1h-1zM120.3 683.8h1v1h-1zM120.2 656.1h1v1h-1zM119.3 676.3h1v1h-1zM115.1 671h1v1h-1zM93.4 670.8h1v1h-1zM119.6 675.4h1v1h-1zM105.7 660.5h1v1h-1zM120.7 661.7h1v1h-1zM126.9 659.6h1v1h-1zM120.9 660.2h1v1h-1zM116.3 666.1h1v1h-1zM117.7 653.9h1v1h-1zM118.1 657.6h1v1h-1zM115.2 672.2h1v1h-1zM114.9 666.4h1v1h-1zM112.5 670.4h1v1h-1zM127.3 650h1v1h-1zM118.9 659.9h1v1h-1zM125.7 662h1v1h-1zM117.2 667.3h1v1h-1zM119.5 661.7h1v1h-1zM117.8 675.4h1v1h-1zM122.2 666.5h1v1h-1zM124.8 667.2h1v1h-1zM120.7 667.1h1v1h-1zM114.3 673.4h1v1h-1zM113.5 662.8h1v1h-1zM130.6 677.1h1v1h-1zM117 671.1h1v1h-1zM117 668.4h1v1h-1zM129.3 667.4h1v1h-1zM126.6 671.7h1v1h-1zM122.7 676.1h1v1h-1zM116.2 675.5h1v1h-1zM135.5 670.4h1v1h-1zM121.8 674.9h1v1h-1zM122.8 668.1h1v1h-1zM117.8 678.3h1v1h-1zM109.1 666.8h1v1h-1zM109.7 648.3h1v1h-1zM121.8 679h1v1h-1zM121.7 668h1v1h-1zM117.3 656.5h1v1h-1zM110.8 665.2h1v1h-1zM108.9 659h1v1h-1zM116.7 685.9h1v1h-1zM108.8 671.5h1v1h-1zM125.3 652.9h1v1h-1zM127.1 671.9h1v1h-1zM138.8 663.4h1v1h-1zM125.1 684.3h1v1h-1zM114.9 657.5h1v1h-1zM112.9 646.8h1v1h-1zM94.8 667.6h1v1h-1zM114.8 663.9h1v1h-1zM117.8 663.3h1v1h-1zM125.8 647.7h1v1h-1zM123.3 670.8h1v1h-1zM123.1 682.1h1v1h-1zM120.5 649.8h1v1h-1zM123.6 677.5h1v1h-1zM129.1 661.9h1v1h-1zM111.5 688.1h1v1h-1zM115.8 670.9h1v1h-1zM109.3 665.3h1v1h-1zM130.3 676.9h1v1h-1zM128.1 671.7h1v1h-1zM124.3 661.7h1v1h-1zM110.6 673.4h1v1h-1zM120.2 662.4h1v1h-1zM117.4 650.9h1v1h-1zM119.6 685.3h1v1h-1zM117.7 663.9h1v1h-1zM122.6 661.5h1v1h-1zM116.2 670h1v1h-1zM125 653h1v1h-1zM120.7 654.8h1v1h-1zM116.9 662.5h1v1h-1zM118.2 662.3h1v1h-1zM115.9 667.6h1v1h-1zM124.7 677.1h1v1h-1zM117.1 662.7h1v1h-1zM121.1 671.4h1v1h-1zM116.3 672.4h1v1h-1zM108.6 657.2h1v1h-1zM125.3 669.1h1v1h-1zM111.6 658.5h1v1h-1zM123.8 676.6h1v1h-1zM121.9 671.1h1v1h-1zM107.4 667.1h1v1h-1zM112.4 654.9h1v1h-1zM115.4 668h1v1h-1zM113.3 660.1h1v1h-1zM110.7 673.4h1v1h-1zM124.2 665.9h1v1h-1zM117.3 659.7h1v1h-1zM121.7 675.3h1v1h-1zM116 673.5h1v1h-1zM121.1 661.7h1v1h-1zM113.7 677.5h1v1h-1zM118.8 664.3h1v1h-1zM123.1 664.2h1v1h-1zM119.3 668.1h1v1h-1zM115.8 660.2h1v1h-1zM111.4 663h1v1h-1zM120.2 665.6h1v1h-1zM121.4 680.8h1v1h-1zM117.2 680.5h1v1h-1zM113.6 664.7h1v1h-1zM122.8 681.5h1v1h-1zM111.6 708.2h1v1h-1zM115.8 720.9h1v1h-1zM120.8 711.6h1v1h-1zM114.9 714.4h1v1h-1zM136.2 713.7h1v1h-1zM114.4 720.3h1v1h-1zM100 716.7h1v1h-1zM125.1 717.1h1v1h-1zM107.9 709.4h1v1h-1zM109 716.6h1v1h-1zM82.1 710.4h1v1h-1zM122 718.4h1v1h-1zM120.2 718.7h1v1h-1zM120 716.9h1v1h-1zM121.8 725h1v1h-1zM128.9 719.4h1v1h-1zM111.5 719.7h1v1h-1zM121.4 717.6h1v1h-1zM104.6 716.1h1v1h-1zM108.5 721.3h1v1h-1zM122.6 722h1v1h-1zM115.9 711.1h1v1h-1zM98.7 721.7h1v1h-1zM115.6 719.3h1v1h-1zM110.2 721.3h1v1h-1zM103.8 719.1h1v1h-1zM116.3 711.4h1v1h-1zM108 711.7h1v1h-1zM96.3 725h1v1h-1zM100.9 718.1h1v1h-1zM129.7 710.6h1v1h-1zM96.9 718.6h1v1h-1zM114.2 715.4h1v1h-1zM118.1 708.7h1v1h-1zM118.4 706.7h1v1h-1zM99.7 709.8h1v1h-1zM108.8 718.2h1v1h-1zM113.4 716.8h1v1h-1zM120 715.9h1v1h-1zM105.6 718.3h1v1h-1zM100.4 719.7h1v1h-1zM122 707.5h1v1h-1zM123.1 715.6h1v1h-1zM115.7 713.3h1v1h-1zM105.9 711.5h1v1h-1zM116.1 714.5h1v1h-1zM113.1 716.4h1v1h-1zM120.4 715.8h1v1h-1zM99.5 710.5h1v1h-1zM113.2 714.8h1v1h-1zM110.4 725h1v1h-1zM100.9 712.3h1v1h-1zM114.2 709.4h1v1h-1zM112.3 718.2h1v1h-1zM107.9 719.7h1v1h-1zM116 719.1h1v1h-1zM97.8 712h1v1h-1zM111.5 721.5h1v1h-1zM116.3 713.5h1v1h-1zM114.8 711.9h1v1h-1zM122.8 714.3h1v1h-1zM100 716.5h1v1h-1zM96.9 720.2h1v1h-1zM114.4 719.8h1v1h-1zM116.6 716.9h1v1h-1zM133.2 721.2h1v1h-1zM118.2 717.4h1v1h-1zM103.3 721h1v1h-1zM120.1 710.7h1v1h-1zM103.5 709.9h1v1h-1zM97.1 720.5h1v1h-1zM138.1 710.7h1v1h-1zM115.3 715.6h1v1h-1zM119.1 716.6h1v1h-1zM117.6 714.8h1v1h-1zM130.1 715h1v1h-1zM114.8 723.3h1v1h-1zM124.2 705.6h1v1h-1zM101.7 721h1v1h-1zM98.1 725h1v1h-1zM126.3 717.1h1v1h-1zM126.7 716.9h1v1h-1zM117.1 720.3h1v1h-1zM114.3 725h1v1h-1zM113.7 711.7h1v1h-1zM105.1 717.4h1v1h-1zM127.4 716.2h1v1h-1zM118.6 719.5h1v1h-1zM117.1 717.7h1v1h-1zM115.8 720h1v1h-1zM122.5 715.1h1v1h-1zM117.1 717.2h1v1h-1zM119.5 714h1v1h-1zM100.3 714h1v1h-1zM117.1 716.4h1v1h-1zM133.9 716.4h1v1h-1zM106.8 711.7h1v1h-1zM110.7 724.1h1v1h-1zM120.9 716.4h1v1h-1zM121.6 710.8h1v1h-1zM118.2 722h1v1h-1zM95.8 713.6h1v1h-1zM117 719.3h1v1h-1zM100.2 716.9h1v1h-1zM103.8 718.1h1v1h-1zM117.5 717.8h1v1h-1zM109 714.4h1v1h-1zM120.1 717.2h1v1h-1zM143.5 725h1v1h-1zM119.8 706.9h1v1h-1zM119.2 717.3h1v1h-1zM103 719h1v1h-1zM105.6 712.3h1v1h-1zM101.4 710.8h1v1h-1zM106.7 725h1v1h-1zM101.1 715.3h1v1h-1zM105.4 725h1v1h-1zM109.9 719.4h1v1h-1zM102 717.3h1v1h-1zM97.8 719.1h1v1h-1zM98.4 719.9h1v1h-1zM116.5 722.3h1v1h-1zM112.6 719h1v1h-1zM122.3 717.7h1v1h-1zM122.4 717.8h1v1h-1zM108.6 723.1h1v1h-1zM118.7 720.7h1v1h-1zM97.6 712.5h1v1h-1zM134.8 714.1h1v1h-1zM124 718.5h1v1h-1zM109.8 714.2h1v1h-1zM100.4 715.3h1v1h-1zM115.8 712.7h1v1h-1zM93.3 715.8h1v1h-1zM104.2 718.9h1v1h-1zM119.5 721.5h1v1h-1zM112.8 717h1v1h-1zM107.1 725h1v1h-1zM121.5 716.7h1v1h-1zM101.6 725h1v1h-1zM114.8 721.5h1v1h-1zM107 719.2h1v1h-1zM103.5 714.8h1v1h-1zM116.6 704.3h1v1h-1zM102.1 716.3h1v1h-1zM131 717.8h1v1h-1zM106.2 725h1v1h-1zM131.9 710.8h1v1h-1zM101.1 725h1v1h-1zM118.1 715.9h1v1h-1zM100 720.3h1v1h-1zM98.6 705.6h1v1h-1zM113.6 717.6h1v1h-1zM118.8 715.5h1v1h-1zM99.3 720.1h1v1h-1zM123.8 717.4h1v1h-1zM104 711.9h1v1h-1zM113.3 721.3h1v1h-1zM115.8 720.1h1v1h-1zM117.9 719.7h1v1h-1zM94 721.5h1v1h-1zM128.2 722h1v1h-1zM117.6 716.9h1v1h-1zM107.7 710.9h1v1h-1zM101.8 710.8h1v1h-1zM95.1 723.1h1v1h-1zM98.4 720.2h1v1h-1zM117.4 717.5h1v1h-1zM108.6 715h1v1h-1zM100.7 717.1h1v1h-1zM106.7 717.1h1v1h-1zM127.6 715.5h1v1h-1zM108.7 713.9h1v1h-1zM106.2 725h1v1h-1zM125.5 718h1v1h-1zM116.6 714.3h1v1h-1zM112.4 711.1h1v1h-1zM105.9 713.7h1v1h-1zM96.5 720.2h1v1h-1zM100.3 720.4h1v1h-1zM107.2 716h1v1h-1zM109.8 717.2h1v1h-1zM115.6 715.6h1v1h-1zM117.5 712h1v1h-1zM114.2 722.9h1v1h-1zM114.2 718.7h1v1h-1zM101.9 725h1v1h-1zM90.5 713.6h1v1h-1zM106.8 716.4h1v1h-1zM102.5 721h1v1h-1zM105.5 715.9h1v1h-1zM109.3 710.8h1v1h-1zM99.6 712.7h1v1h-1zM100.9 717.5h1v1h-1zM111 718.5h1v1h-1zM113.2 716.6h1v1h-1zM105.4 721.5h1v1h-1zM117 721.5h1v1h-1zM109.8 718.5h1v1h-1zM101.8 717.1h1v1h-1zM112.4 715.9h1v1h-1zM130.8 719.5h1v1h-1zM105.3 721.1h1v1h-1zM123.7 717.3h1v1h-1zM125.8 719h1v1h-1zM127 715.5h1v1h-1zM103.8 710.6h1v1h-1zM132.2 712.5h1v1h-1zM113.2 720.4h1v1h-1zM109.5 719h1v1h-1zM109.7 724.2h1v1h-1zM118 717.3h1v1h-1zM112.5 720.9h1v1h-1zM110.2 723h1v1h-1zM124.8 721.5h1v1h-1zM104.8 714.3h1v1h-1zM101.6 716.2h1v1h-1zM119.9 717.6h1v1h-1zM119 712.6h1v1h-1zM122.9 719.1h1v1h-1zM101.3 721.6h1v1h-1zM122.8 714.8h1v1h-1zM116.8 725h1v1h-1zM129.6 715.7h1v1h-1zM99.5 716.1h1v1h-1zM114.2 715.9h1v1h-1zM109.2 713.8h1v1h-1zM96.1 718.9h1v1h-1zM104.9 717.1h1v1h-1zM123.3 724.5h1v1h-1zM107.3 719.7h1v1h-1zM104.8 719.4h1v1h-1zM120.7 716h1v1h-1zM121.9 710.6h1v1h-1zM121.9 716.6h1v1h-1zM104.1 713.2h1v1h-1zM111.4 721.3h1v1h-1zM122.3 716.9h1v1h-1zM105.4 724.5h1v1h-1zM104.5 720.3h1v1h-1zM120.3 720.8h1v1h-1zM127.6 718h1v1h-1zM100.5 717.9h1v1h-1zM86 719.9h1v1h-1zM97.5 721.2h1v1h-1zM101.9 713.8h1v1h-1zM110.6 719.2h1v1h-1zM118.2 725h1v1h-1zM110.5 716.6h1v1h-1zM105 715.9h1v1h-1zM113.5 713.9h1v1h-1zM102.4 710.5h1v1h-1zM111.5 722.3h1v1h-1zM105.6 717.3h1v1h-1zM138.8 718.3h1v1h-1zM120.2 725h1v1h-1zM103.6 725h1v1h-1zM102 713h1v1h-1zM107.6 721.7h1v1h-1zM95.6 719.8h1v1h-1zM104.7 718.8h1v1h-1zM104.6 719.2h1v1h-1zM120.8 716.9h1v1h-1zM107.7 724.2h1v1h-1zM104.1 719.8h1v1h-1zM98.6 718.6h1v1h-1zM100.2 722.6h1v1h-1zM111.3 721h1v1h-1zM109.8 719.1h1v1h-1zM123.3 718.5h1v1h-1zM105.7 724.9h1v1h-1zM122.6 719.3h1v1h-1zM114.6 716.6h1v1h-1zM112 713.2h1v1h-1zM91.9 715.5h1v1h-1zM99.1 712.3h1v1h-1zM119.4 717.5h1v1h-1zM126 718.2h1v1h-1zM114.1 707.8h1v1h-1zM119.6 717.1h1v1h-1zM107.9 719.9h1v1h-1zM108.3 717.8h1v1h-1zM105.4 712.7h1v1h-1zM121.7 722.7h1v1h-1zM115.4 713.9h1v1h-1zM109.7 711.5h1v1h-1zM108.7 712.1h1v1h-1zM117.6 716.9h1v1h-1zM115.2 721.4h1v1h-1zM103.7 722.3h1v1h-1zM129.2 718h1v1h-1zM114.6 711.6h1v1h-1zM112.1 714.1h1v1h-1zM126.8 713h1v1h-1zM122.2 716.2h1v1h-1zM111.1 709h1v1h-1zM117.4 717.5h1v1h-1zM101.3 719.9h1v1h-1zM105.6 716.3h1v1h-1zM89.4 719.1h1v1h-1zM124.2 712.8h1v1h-1zM93 710.5h1v1h-1zM118.8 714.1h1v1h-1zM103.7 722.2h1v1h-1zM102.2 721.6h1v1h-1zM110 714.9h1v1h-1zM114.7 722.4h1v1h-1zM118.1 715.5h1v1h-1zM129.7 723.8h1v1h-1zM115.6 719.2h1v1h-1zM120.8 715h1v1h-1zM106 720.6h1v1h-1zM119.1 713.5h1v1h-1zM113.5 712.8h1v1h-1zM107.4 710.5h1v1h-1zM111 718.2h1v1h-1zM111.4 716.8h1v1h-1zM113.9 716.7h1v1h-1zM116 715.2h1v1h-1zM106.9 723.5h1v1h-1zM104.6 715.1h1v1h-1zM119.5 713.7h1v1h-1zM95 722.6h1v1h-1zM105.8 723.4h1v1h-1zM127.5 718.5h1v1h-1zM84.9 709.2h1v1h-1zM105.1 714.3h1v1h-1zM118.9 719.8h1v1h-1zM95.5 717.1h1v1h-1zM138 724h1v1h-1zM86.1 710.8h1v1h-1zM126.4 720.1h1v1h-1zM127.6 714.2h1v1h-1zM121.2 723h1v1h-1zM109.8 716.7h1v1h-1zM115.6 721.6h1v1h-1zM103 714.1h1v1h-1zM120.1 710.7h1v1h-1zM100.8 712h1v1h-1zM109.3 714.3h1v1h-1zM122 712.4h1v1h-1zM100.9 722.4h1v1h-1zM108.4 723h1v1h-1zM113.6 718.2h1v1h-1zM98.6 712.3h1v1h-1zM123.6 716.5h1v1h-1zM115.4 713.9h1v1h-1zM96.8 723.5h1v1h-1zM111.5 718.4h1v1h-1zM104.2 719.2h1v1h-1zM105.4 715.2h1v1h-1zM112.8 707.9h1v1h-1zM104.9 713.5h1v1h-1zM121.6 712h1v1h-1zM105 718.7h1v1h-1zM121.8 717.4h1v1h-1zM111.6 713.4h1v1h-1zM120.6 715.3h1v1h-1zM106.6 724h1v1h-1zM106.9 712.7h1v1h-1zM100.5 712.9h1v1h-1zM117.8 716h1v1h-1zM121.4 713.9h1v1h-1zM133.2 715.1h1v1h-1zM124.9 719.4h1v1h-1zM114.5 724.8h1v1h-1zM109.9 709h1v1h-1zM115.9 716.9h1v1h-1zM111.7 717.2h1v1h-1zM126.6 716.6h1v1h-1zM121.4 716.2h1v1h-1zM103.6 715.5h1v1h-1zM105.1 721.5h1v1h-1zM125.7 714.9h1v1h-1zM115.1 716.4h1v1h-1zM109.7 717h1v1h-1zM123.9 717.5h1v1h-1zM108.1 716.2h1v1h-1zM109.2 721.5h1v1h-1zM107.4 717h1v1h-1zM57.6 693.9h1v1h-1zM55.5 704.6h1v1h-1zM47 708.1h1v1h-1zM48.5 696.4h1v1h-1zM46.5 700.4h1v1h-1zM57.7 725h1v1h-1zM49.6 704.3h1v1h-1zM46.4 711.7h1v1h-1zM58.1 697.2h1v1h-1zM60.7 702.5h1v1h-1zM44 683.1h1v1h-1zM71.2 701.7h1v1h-1zM56.3 715.1h1v1h-1zM55.1 725h1v1h-1zM65.6 715.2h1v1h-1zM56.6 709.6h1v1h-1zM50.6 702.6h1v1h-1zM75.8 695.4h1v1h-1zM46.3 700.2h1v1h-1zM55.1 708.7h1v1h-1zM63.6 693.4h1v1h-1zM46.4 712.3h1v1h-1zM55.1 691.2h1v1h-1zM59.5 682.4h1v1h-1zM77.6 690.9h1v1h-1zM48 683.7h1v1h-1zM55.6 686.9h1v1h-1zM61.9 714.5h1v1h-1zM56.7 699.8h1v1h-1zM45.2 704.4h1v1h-1zM59.7 714.7h1v1h-1zM57 715.9h1v1h-1zM60 696.4h1v1h-1zM66.2 716.6h1v1h-1zM65.1 706.2h1v1h-1zM59.7 702h1v1h-1zM58.8 706.9h1v1h-1zM46.1 686.3h1v1h-1zM54.8 693.4h1v1h-1zM58 700.8h1v1h-1zM52.4 708.7h1v1h-1zM56.9 697.9h1v1h-1zM48.6 700.6h1v1h-1zM69.8 712.7h1v1h-1zM75.4 717.5h1v1h-1zM52.5 710.4h1v1h-1zM59.6 716h1v1h-1zM53.9 697.6h1v1h-1zM67.4 698.6h1v1h-1zM59.9 705.5h1v1h-1zM56.7 698.7h1v1h-1zM54 696.4h1v1h-1zM57.1 720.2h1v1h-1zM47 699.8h1v1h-1zM62.1 691.4h1v1h-1zM49.6 707.4h1v1h-1zM60.8 722.2h1v1h-1zM57.2 702.9h1v1h-1zM65.9 715.5h1v1h-1zM55.8 697.2h1v1h-1zM65.2 696.6h1v1h-1zM47.7 694.4h1v1h-1zM61.5 700.4h1v1h-1zM54 722.2h1v1h-1zM57.7 689.3h1v1h-1zM56.6 720h1v1h-1zM64.4 690.9h1v1h-1zM44 699.4h1v1h-1zM58.9 711.2h1v1h-1zM44 708.9h1v1h-1zM66.9 705.1h1v1h-1zM44 683.9h1v1h-1zM47 706h1v1h-1zM44 690.8h1v1h-1zM70.8 725h1v1h-1zM44.4 699.7h1v1h-1zM57 704.1h1v1h-1zM51.2 689.4h1v1h-1zM44 696.7h1v1h-1zM53 687.8h1v1h-1zM62 712.8h1v1h-1zM54.3 699.1h1v1h-1zM64.5 708.2h1v1h-1zM52.7 694.5h1v1h-1zM56.1 696.5h1v1h-1zM52.5 716.2h1v1h-1zM59.1 691.3h1v1h-1zM73.1 682.2h1v1h-1zM59.3 706.5h1v1h-1zM57.7 689.4h1v1h-1zM50.4 697.2h1v1h-1zM49.2 712h1v1h-1zM69.2 693h1v1h-1zM46 711.7h1v1h-1zM47.8 694.5h1v1h-1zM55.1 718.4h1v1h-1zM52.2 716.6h1v1h-1zM73.6 696.8h1v1h-1zM44 699.7h1v1h-1zM59.3 692.8h1v1h-1zM62.4 704.2h1v1h-1zM45.9 714.6h1v1h-1zM50.2 686.1h1v1h-1zM59.9 712.1h1v1h-1zM70.7 687.4h1v1h-1zM47.7 692.5h1v1h-1zM44 682.3h1v1h-1zM64.8 725h1v1h-1zM69.7 702.6h1v1h-1zM53 704.7h1v1h-1zM44 694.6h1v1h-1zM69.1 713.7h1v1h-1zM54.2 678.9h1v1h-1zM66.1 702.3h1v1h-1zM55.6 725h1v1h-1zM52.6 697.8h1v1h-1zM51.9 702.2h1v1h-1zM69.3 709.4h1v1h-1zM68.9 693.1h1v1h-1zM44 702.3h1v1h-1zM47.6 712.6h1v1h-1zM72 704.1h1v1h-1zM52.7 706.1h1v1h-1zM44 698.2h1v1h-1zM56 705.5h1v1h-1zM55 702.6h1v1h-1zM55.1 718h1v1h-1zM51.7 710h1v1h-1zM53.2 699.3h1v1h-1zM51.9 675.1h1v1h-1zM59 709.9h1v1h-1zM48.7 710.3h1v1h-1zM53.4 691.9h1v1h-1zM54.7 680h1v1h-1zM67.8 689.4h1v1h-1zM59.4 712.2h1v1h-1zM55 690.3h1v1h-1zM60.8 696.9h1v1h-1zM59.7 704.4h1v1h-1zM65.8 715.5h1v1h-1zM60.6 701.8h1v1h-1zM72.1 700.9h1v1h-1zM68.1 696h1v1h-1zM55.6 719.9h1v1h-1zM52.3 713.7h1v1h-1zM63.9 701h1v1h-1zM60.6 686.6h1v1h-1zM55.1 693.3h1v1h-1zM44 708.4h1v1h-1zM44 694.1h1v1h-1zM59.1 711.8h1v1h-1zM62.9 706h1v1h-1zM63.2 705.2h1v1h-1zM44.4 709.2h1v1h-1zM65.3 707.5h1v1h-1zM51.2 692.6h1v1h-1zM59.5 698.4h1v1h-1zM59.8 725h1v1h-1zM48.8 688.7h1v1h-1zM50.7 696.8h1v1h-1zM44 713.7h1v1h-1zM47.7 700.2h1v1h-1zM44 693.1h1v1h-1zM59.9 687.4h1v1h-1zM56.6 707.9h1v1h-1zM64.2 713.2h1v1h-1zM59.2 717.4h1v1h-1zM50.3 702.6h1v1h-1zM59.1 713.5h1v1h-1zM52.5 690.6h1v1h-1zM61.5 703.8h1v1h-1zM58.8 694.5h1v1h-1zM47.1 703.9h1v1h-1zM56 710.3h1v1h-1zM56.5 713.8h1v1h-1zM53.2 691.1h1v1h-1zM64.1 715.9h1v1h-1zM71.4 696.8h1v1h-1zM52.7 690.7h1v1h-1zM52.8 700.1h1v1h-1zM44 685.9h1v1h-1zM54.8 702.1h1v1h-1zM52.1 705.2h1v1h-1zM44 699.8h1v1h-1zM58.6 707.9h1v1h-1zM61.3 698.5h1v1h-1zM49.4 702h1v1h-1zM52.6 686.2h1v1h-1zM47.3 702.5h1v1h-1zM62.9 692.6h1v1h-1zM44 697.1h1v1h-1zM53.2 701h1v1h-1zM73.6 704.1h1v1h-1zM56.5 683.9h1v1h-1zM60.2 684.8h1v1h-1zM54.7 698.7h1v1h-1zM45.4 707.2h1v1h-1zM55.7 706h1v1h-1zM59.7 711.8h1v1h-1zM46.8 716.3h1v1h-1zM59.1 707.5h1v1h-1zM67.2 701.8h1v1h-1zM65.6 690.7h1v1h-1zM44 691.6h1v1h-1zM47.2 696.9h1v1h-1zM44 704.9h1v1h-1zM65.6 704.4h1v1h-1zM61.5 702h1v1h-1zM62.3 700.3h1v1h-1zM48.1 708.9h1v1h-1zM45.5 704.3h1v1h-1zM56.7 705.3h1v1h-1zM56.9 705.4h1v1h-1zM48.3 696h1v1h-1zM57.3 690.7h1v1h-1zM61.8 707.4h1v1h-1zM58.1 706.6h1v1h-1zM46.6 699.6h1v1h-1zM44 697.4h1v1h-1zM53.7 725h1v1h-1zM57.5 693.6h1v1h-1zM53.7 699.6h1v1h-1zM52.1 704.9h1v1h-1zM49.8 689.3h1v1h-1zM62.4 703.3h1v1h-1zM55.5 721.8h1v1h-1zM57.1 712.3h1v1h-1zM47.3 709h1v1h-1zM50.4 708.5h1v1h-1zM57.5 703.2h1v1h-1zM47 712.5h1v1h-1zM44.7 700.3h1v1h-1zM53 697.3h1v1h-1zM66.8 703.1h1v1h-1zM57.7 712h1v1h-1zM69.1 705.6h1v1h-1zM54.8 709.4h1v1h-1zM53.2 679.7h1v1h-1zM44 715.1h1v1h-1zM50.8 725h1v1h-1zM68.9 716.7h1v1h-1zM58.9 698.5h1v1h-1zM62.6 692.7h1v1h-1zM62.3 705.1h1v1h-1zM55.9 691.1h1v1h-1zM54.2 710h1v1h-1zM57.1 696.2h1v1h-1zM62 712.6h1v1h-1zM60.1 717h1v1h-1zM60.4 679.6h1v1h-1zM57.4 705.2h1v1h-1zM49.1 694.3h1v1h-1zM53.6 686.5h1v1h-1zM47.5 695.2h1v1h-1zM65 699.6h1v1h-1zM44 713.4h1v1h-1zM54 685.3h1v1h-1zM77.5 713.6h1v1h-1zM52.9 724.2h1v1h-1zM45.8 708.6h1v1h-1zM55.8 708h1v1h-1zM67.6 701.9h1v1h-1zM54.6 689.1h1v1h-1zM61.5 707.9h1v1h-1zM56.9 706.2h1v1h-1zM52.6 710h1v1h-1zM84.4 725h1v1h-1zM56.6 710h1v1h-1zM51.2 706.7h1v1h-1zM51.6 719.2h1v1h-1zM59.4 687.2h1v1h-1zM59.7 689.4h1v1h-1zM62.9 697.9h1v1h-1zM57.3 694.8h1v1h-1zM44 709.6h1v1h-1zM60.8 698.5h1v1h-1zM53.2 721.1h1v1h-1zM53.4 718.7h1v1h-1zM44 710.5h1v1h-1zM50.8 697.8h1v1h-1zM49.5 708.8h1v1h-1zM55.7 710.9h1v1h-1zM44 690.3h1v1h-1zM56.5 705.8h1v1h-1zM57.1 709.8h1v1h-1zM45.9 704.4h1v1h-1zM50.4 719.3h1v1h-1zM48.3 715.4h1v1h-1zM64.2 692.9h1v1h-1zM44 703.4h1v1h-1zM52.9 692.8h1v1h-1zM44 708.4h1v1h-1zM52.1 692.5h1v1h-1zM63.6 712.2h1v1h-1zM50.3 706.3h1v1h-1zM57.2 712.7h1v1h-1zM48.4 700.4h1v1h-1zM73.5 686h1v1h-1zM64.2 721.4h1v1h-1zM66.1 700.1h1v1h-1zM44 717.1h1v1h-1zM46.1 706.7h1v1h-1zM65.7 709.4h1v1h-1zM54.3 722.1h1v1h-1zM53.7 705.7h1v1h-1zM59 717.4h1v1h-1zM44.7 685.7h1v1h-1zM63 711.6h1v1h-1zM56.2 699.3h1v1h-1zM60.3 700.5h1v1h-1zM50 702.1h1v1h-1zM60.6 705.8h1v1h-1zM49.7 720.2h1v1h-1zM64.6 681.6h1v1h-1zM66.2 702.5h1v1h-1zM64.2 694.1h1v1h-1zM60.6 714.8h1v1h-1zM61.7 697.3h1v1h-1zM44 707h1v1h-1zM63.5 697.6h1v1h-1zM53.5 709.3h1v1h-1zM56.9 713.2h1v1h-1zM53.4 697.6h1v1h-1zM44 702.5h1v1h-1zM51.2 686.4h1v1h-1zM61.9 705.4h1v1h-1zM68.8 711.4h1v1h-1zM50.4 695.9h1v1h-1zM47.9 714.3h1v1h-1zM69.1 679.2h1v1h-1zM48.1 681.6h1v1h-1zM74.7 686.7h1v1h-1zM56.5 696.7h1v1h-1zM48 702.2h1v1h-1zM64.9 701.1h1v1h-1zM71.2 701.3h1v1h-1zM44 710h1v1h-1zM70 696.8h1v1h-1zM53.5 688.1h1v1h-1zM69.4 688.3h1v1h-1zM52.6 725h1v1h-1zM44 676.1h1v1h-1zM60.5 700.1h1v1h-1zM64.3 718h1v1h-1zM74.9 707.3h1v1h-1zM71.5 692.9h1v1h-1zM62.3 702h1v1h-1zM53.9 711.5h1v1h-1zM51.3 715.3h1v1h-1zM53.3 692.1h1v1h-1zM48.5 710.4h1v1h-1zM53.5 704.8h1v1h-1zM44 714.1h1v1h-1zM57.6 717.3h1v1h-1zM55.7 698.2h1v1h-1zM79.1 686.1h1v1h-1zM62.8 706.4h1v1h-1zM51.7 721.5h1v1h-1zM61.1 709.5h1v1h-1zM45 704.5h1v1h-1zM50.6 725h1v1h-1zM44 690.6h1v1h-1zM68.9 711.9h1v1h-1zM61.3 695.7h1v1h-1zM45.4 702.5h1v1h-1zM55.5 703h1v1h-1zM64.5 718.7h1v1h-1zM60.5 691.7h1v1h-1zM59.4 696.1h1v1h-1zM48.3 684.5h1v1h-1zM50.3 707.4h1v1h-1zM56.9 697h1v1h-1zM64.3 706.6h1v1h-1zM48.5 690.2h1v1h-1zM45.9 698h1v1h-1zM66.3 713.4h1v1h-1zM47.6 700.1h1v1h-1zM65.7 708.9h1v1h-1zM58.2 707.8h1v1h-1zM63.9 698.1h1v1h-1zM71.7 684.8h1v1h-1zM62.2 712.8h1v1h-1zM63 703.9h1v1h-1zM47.7 712.8h1v1h-1zM49.7 679.9h1v1h-1zM61.8 683.8h1v1h-1zM69.8 678.4h1v1h-1zM68.5 692.4h1v1h-1zM76.8 713.5h1v1h-1zM58.8 708.2h1v1h-1zM57.8 701.6h1v1h-1zM65.1 703.4h1v1h-1zM56.2 710.4h1v1h-1zM55.4 698.7h1v1h-1zM46.6 706.4h1v1h-1zM64.9 703.5h1v1h-1zM46.4 677.9h1v1h-1zM60.6 697.8h1v1h-1zM44 716.9h1v1h-1zM65.9 697.6h1v1h-1zM46.7 700.4h1v1h-1zM63.6 695.3h1v1h-1zM44 696.7h1v1h-1zM52 714.4h1v1h-1zM66.6 699.1h1v1h-1zM48.8 690.8h1v1h-1zM56.6 667.8h1v1h-1zM51.7 695.7h1v1h-1zM44 680.4h1v1h-1zM58.8 681.9h1v1h-1zM59.9 710.7h1v1h-1zM46 709.8h1v1h-1zM61.2 680.9h1v1h-1zM48.8 711.4h1v1h-1zM47 707.1h1v1h-1zM56.1 693.4h1v1h-1zM49.9 710.1h1v1h-1zM76.6 684.1h1v1h-1zM44 688.8h1v1h-1zM62.6 686.2h1v1h-1zM64.9 689.8h1v1h-1zM44 711.7h1v1h-1zM44 687.3h1v1h-1zM61.1 689.3h1v1h-1zM51.7 691.5h1v1h-1zM59.5 704.2h1v1h-1zM66.3 698.3h1v1h-1zM52.7 711.5h1v1h-1zM46.4 694.2h1v1h-1zM44 687.8h1v1h-1zM57.8 696.5h1v1h-1zM47.6 702.4h1v1h-1zM58.8 691.7h1v1h-1zM58.1 705h1v1h-1zM44 721.9h1v1h-1zM71.5 695.5h1v1h-1zM65.7 702.4h1v1h-1zM63.6 716.8h1v1h-1zM45.3 694.8h1v1h-1zM52.3 692.6h1v1h-1zM51.1 689.8h1v1h-1zM52.3 706.2h1v1h-1zM45.9 707.5h1v1h-1zM59.9 700.2h1v1h-1zM58.1 702.3h1v1h-1zM59.3 715.8h1v1h-1zM51.4 711.3h1v1h-1zM67.6 686.4h1v1h-1zM57.7 701.7h1v1h-1zM44 702.9h1v1h-1zM50.2 709.7h1v1h-1zM55.5 699.3h1v1h-1zM64.7 694.6h1v1h-1zM53.3 696.7h1v1h-1zM53.7 682.2h1v1h-1zM50 701.4h1v1h-1zM62 695.1h1v1h-1zM52 706.8h1v1h-1zM50.6 690.4h1v1h-1zM49.3 696.9h1v1h-1zM61 690.9h1v1h-1zM51.2 689.9h1v1h-1zM44 709.3h1v1h-1zM61.6 696.5h1v1h-1zM49.7 706.5h1v1h-1zM59.2 689.3h1v1h-1zM59.4 702.7h1v1h-1zM66.8 683h1v1h-1zM65.4 696.3h1v1h-1zM50.8 696.1h1v1h-1zM54.5 708h1v1h-1zM44.4 703.5h1v1h-1zM71.1 699.6h1v1h-1zM60 710.8h1v1h-1zM68.5 703.6h1v1h-1zM53.1 707.5h1v1h-1zM44 710h1v1h-1zM69.8 700.8h1v1h-1zM56.8 698.3h1v1h-1zM57.2 705.1h1v1h-1zM56.5 696.9h1v1h-1zM61.8 705.8h1v1h-1zM60.8 713.7h1v1h-1zM44 710.9h1v1h-1zM65.8 697.3h1v1h-1zM51.2 687.4h1v1h-1zM51.8 700.9h1v1h-1zM71.5 700.1h1v1h-1zM64.3 713.6h1v1h-1zM53 697.3h1v1h-1zM44 699.2h1v1h-1zM57.5 709.6h1v1h-1zM60.8 696.2h1v1h-1zM55.3 699.7h1v1h-1zM44.8 720.3h1v1h-1zM48.9 717.8h1v1h-1zM44.7 708.4h1v1h-1zM57.9 704.4h1v1h-1zM63.4 690.8h1v1h-1zM65.2 707.6h1v1h-1zM88.1 711h1v1h-1zM90.1 686.6h1v1h-1zM81.2 704.7h1v1h-1zM87.3 692.9h1v1h-1zM85.2 701.4h1v1h-1zM91.2 703.5h1v1h-1zM104.5 706.3h1v1h-1zM91.8 693.7h1v1h-1zM67.6 701.3h1v1h-1zM75.8 687.8h1v1h-1zM68.5 685.3h1v1h-1zM77.9 705h1v1h-1zM94.1 698.9h1v1h-1zM92.2 683.2h1v1h-1zM80.3 690.9h1v1h-1zM90.6 699.6h1v1h-1zM78.4 715h1v1h-1zM70.4 709.9h1v1h-1zM70.6 707.4h1v1h-1zM77.1 681.6h1v1h-1zM104.4 698.4h1v1h-1zM71.4 704.2h1v1h-1zM102.3 703.4h1v1h-1zM103.3 703.6h1v1h-1zM85.2 697.1h1v1h-1zM86.8 717h1v1h-1zM80.1 714.2h1v1h-1zM87.1 698.5h1v1h-1zM95.3 689.6h1v1h-1zM87.5 719.9h1v1h-1zM99.3 693.9h1v1h-1zM101.6 711.4h1v1h-1zM91.5 718.5h1v1h-1zM91.3 690h1v1h-1zM86.7 702.3h1v1h-1zM91.5 695.9h1v1h-1zM74 704.6h1v1h-1zM92.2 702.6h1v1h-1zM89.8 718.9h1v1h-1zM77.1 705.3h1v1h-1zM113.2 699.3h1v1h-1zM75.7 710.7h1v1h-1zM77 696.7h1v1h-1zM90.7 695.8h1v1h-1zM64.2 721.8h1v1h-1zM77.9 691.2h1v1h-1zM69.1 694.5h1v1h-1zM75.8 699.9h1v1h-1zM85.8 688.8h1v1h-1zM91.2 678.3h1v1h-1zM100.6 710h1v1h-1zM97 691.6h1v1h-1zM101.5 694h1v1h-1zM94.4 695.7h1v1h-1zM81.7 689.6h1v1h-1zM100.7 688.7h1v1h-1zM81.5 701h1v1h-1zM80 723.4h1v1h-1zM105.7 706.8h1v1h-1zM96.8 706.9h1v1h-1zM90 684.4h1v1h-1zM96.4 699.2h1v1h-1zM97.9 687.6h1v1h-1zM71 707.1h1v1h-1zM86.2 697.1h1v1h-1zM73.2 699.8h1v1h-1zM88.8 698.5h1v1h-1zM79.3 693.6h1v1h-1zM103.6 684.2h1v1h-1zM93.6 705.2h1v1h-1zM77.6 685.6h1v1h-1zM87.1 687.6h1v1h-1zM72.8 696.4h1v1h-1zM87.8 692.3h1v1h-1zM93.9 702h1v1h-1zM90.5 709.5h1v1h-1zM64.2 701.9h1v1h-1zM83.3 701.4h1v1h-1zM93.4 699.6h1v1h-1zM91 708h1v1h-1zM66 717.5h1v1h-1zM88.1 722.3h1v1h-1zM75.1 712.3h1v1h-1zM72.1 712.5h1v1h-1zM84.5 718.7h1v1h-1zM80.5 716.6h1v1h-1zM90.2 711.9h1v1h-1zM95.4 714h1v1h-1zM61.2 710.1h1v1h-1zM83.7 718.7h1v1h-1zM104 720.2h1v1h-1zM93.1 713.7h1v1h-1zM98.9 725h1v1h-1zM85.4 702.9h1v1h-1zM70.1 712h1v1h-1zM73.2 725h1v1h-1zM91.5 710.7h1v1h-1zM94 702.4h1v1h-1zM77.1 723.4h1v1h-1zM81.7 717.5h1v1h-1zM87 705.3h1v1h-1zM66.9 719.1h1v1h-1zM80.9 706.5h1v1h-1zM100.6 704.3h1v1h-1zM106.3 712.6h1v1h-1zM83.3 710.3h1v1h-1zM102.7 706h1v1h-1zM79.2 711.1h1v1h-1zM76.3 706.6h1v1h-1zM62 714.1h1v1h-1zM94 713.5h1v1h-1zM80.7 718.9h1v1h-1zM107.8 710.5h1v1h-1zM87.7 704.3h1v1h-1zM86.3 704.4h1v1h-1zM66.4 711.9h1v1h-1zM99.4 724.4h1v1h-1zM80.8 719.6h1v1h-1zM82.8 709.2h1v1h-1zM62.4 720.3h1v1h-1zM93.7 705.5h1v1h-1zM94.3 720.8h1v1h-1zM78.4 711h1v1h-1zM85.4 719.1h1v1h-1zM88.4 718h1v1h-1zM94.1 711.7h1v1h-1zM85.5 716h1v1h-1zM101.7 706.2h1v1h-1zM82 713.2h1v1h-1zM78.4 721.3h1v1h-1zM79.8 725h1v1h-1zM59.1 718.6h1v1h-1zM76.4 714.3h1v1h-1zM94.5 706.6h1v1h-1zM87.1 721.1h1v1h-1zM76.3 702h1v1h-1zM87.9 708h1v1h-1zM64.3 716.2h1v1h-1zM81.6 705.2h1v1h-1zM89.7 724.5h1v1h-1zM91.4 721.3h1v1h-1zM76.7 709.7h1v1h-1zM93.6 709.8h1v1h-1zM103.2 704.4h1v1h-1zM80.2 703.8h1v1h-1zM91.9 716.8h1v1h-1zM68.9 718.1h1v1h-1zM64.8 716.1h1v1h-1zM90.6 715.5h1v1h-1zM84.9 709.7h1v1h-1zM86.5 716.2h1v1h-1zM78.6 703.3h1v1h-1zM81.5 713.7h1v1h-1zM92.6 724h1v1h-1zM101.7 723h1v1h-1zM82.3 710.4h1v1h-1zM68 711.3h1v1h-1zM97.2 723.4h1v1h-1zM90.5 725h1v1h-1zM91.3 703.2h1v1h-1zM86.3 710.7h1v1h-1zM107.7 715.3h1v1h-1zM85.2 722.2h1v1h-1zM89.6 707.8h1v1h-1zM65.9 718.2h1v1h-1zM78.7 711.6h1v1h-1zM77.6 725h1v1h-1zM84.2 716.7h1v1h-1zM88 712.7h1v1h-1zM77 711.3h1v1h-1zM101.8 721.1h1v1h-1zM73.8 718.5h1v1h-1zM80 706.1h1v1h-1zM86.9 715.2h1v1h-1zM72 704.3h1v1h-1zM90.2 708.4h1v1h-1zM90.8 704.6h1v1h-1zM81.6 704.4h1v1h-1zM103.6 708.9h1v1h-1zM85.3 706.8h1v1h-1zM87.3 717.4h1v1h-1zM74.9 719.3h1v1h-1zM67.7 712h1v1h-1zM78.2 705.8h1v1h-1zM81.3 719.3h1v1h-1zM79.9 699.5h1v1h-1zM92.2 700.1h1v1h-1zM60.6 718.8h1v1h-1zM73.1 718.3h1v1h-1zM66.2 720.5h1v1h-1zM97.9 712.2h1v1h-1zM78.8 704.8h1v1h-1zM79.3 710.1h1v1h-1zM73.5 717.7h1v1h-1zM93.5 708.3h1v1h-1zM80.4 708.8h1v1h-1zM86.7 703.9h1v1h-1zM64.1 705.5h1v1h-1zM96.2 719.6h1v1h-1zM88.4 716.9h1v1h-1z" fill="#666"/>
<path d="M46.5 717.7h1v1h-1zM47.1 710.8h1v1h-1zM50.7 715.7h1v1h-1zM58.5 683.9h1v1h-1zM46.5 709.7h1v1h-1zM53.5 715.2h1v1h-1zM44 722.1h1v1h-1zM45.8 707.5h1v1h-1zM57.6 694.4h1v1h-1zM61 711.7h1v1h-1zM46.6 702.8h1v1h-1zM49.2 693.8h1v1h-1zM60.3 702.6h1v1h-1zM51.9 715.2h1v1h-1zM50.9 716.3h1v1h-1zM58.3 712.7h1v1h-1zM56.1 699.4h1v1h-1zM62.5 725h1v1h-1zM60.3 698.5h1v1h-1zM50.6 706.7h1v1h-1zM53.9 696.4h1v1h-1zM54.3 717.2h1v1h-1zM45.2 710.6h1v1h-1zM47.9 713.9h1v1h-1zM61.5 708h1v1h-1zM44 706.8h1v1h-1zM61.7 708.6h1v1h-1zM56.7 693.1h1v1h-1zM53.7 714.7h1v1h-1zM58.5 714.1h1v1h-1zM58 704.4h1v1h-1zM63.2 707.2h1v1h-1zM51.9 709.5h1v1h-1zM53.1 719.1h1v1h-1zM53 710.5h1v1h-1zM67.9 707.6h1v1h-1zM61.3 703.5h1v1h-1zM48.2 696h1v1h-1zM52.4 702.8h1v1h-1zM49.7 707.9h1v1h-1zM54.8 705.4h1v1h-1zM56.2 707.9h1v1h-1zM70.8 712.9h1v1h-1zM44 710.6h1v1h-1zM61.9 709.4h1v1h-1zM57.8 712.3h1v1h-1zM49.8 708.7h1v1h-1zM53.7 707.1h1v1h-1zM51.2 710.9h1v1h-1zM55.1 694.4h1v1h-1zM61.8 716.7h1v1h-1zM44.1 697.7h1v1h-1zM63.9 713.6h1v1h-1zM52.1 707.4h1v1h-1zM65.3 715.7h1v1h-1zM57.6 707.6h1v1h-1zM63.4 700.3h1v1h-1zM58.7 715.4h1v1h-1zM62.4 708.7h1v1h-1zM55.1 708.3h1v1h-1zM48.9 708h1v1h-1zM59.5 714.9h1v1h-1zM59.7 713.5h1v1h-1zM69.5 709.1h1v1h-1zM44 695.7h1v1h-1zM53.4 704.4h1v1h-1zM62.2 708.2h1v1h-1zM46 720.8h1v1h-1zM53.2 710.3h1v1h-1zM69.6 706.7h1v1h-1zM64.7 716.4h1v1h-1zM48.6 706.6h1v1h-1zM64.8 707.2h1v1h-1zM63.1 708.6h1v1h-1zM60.2 696.2h1v1h-1zM57.4 714.6h1v1h-1zM56.4 710.6h1v1h-1zM48.7 705.3h1v1h-1zM51.2 698.8h1v1h-1zM59.9 709h1v1h-1zM55.8 717.9h1v1h-1zM67.8 702.6h1v1h-1zM52.4 699.5h1v1h-1zM44 710.6h1v1h-1zM52.4 695.4h1v1h-1zM56.7 690.8h1v1h-1zM57.5 704.1h1v1h-1zM55.3 702.2h1v1h-1zM49 705.3h1v1h-1zM65.3 703.3h1v1h-1zM50.1 709.9h1v1h-1zM59.8 705.8h1v1h-1zM52.8 702.9h1v1h-1zM46.4 704h1v1h-1zM64.7 712.2h1v1h-1zM44 714.6h1v1h-1zM48.8 714.2h1v1h-1zM57.8 712.7h1v1h-1zM52.3 682.7h1v1h-1zM60.1 699.9h1v1h-1zM54.1 705.1h1v1h-1zM51.7 709h1v1h-1zM70 695.3h1v1h-1zM53.3 718.1h1v1h-1zM53.7 709.7h1v1h-1zM47.2 702.8h1v1h-1zM49.6 708.7h1v1h-1zM59.4 704.8h1v1h-1zM58.8 701.7h1v1h-1zM54.9 711.2h1v1h-1zM49.9 704h1v1h-1zM59.7 696.9h1v1h-1zM44 702.7h1v1h-1zM52.5 706.6h1v1h-1zM53.1 699.4h1v1h-1zM48.9 716.9h1v1h-1zM55.9 699.3h1v1h-1zM50.2 720.6h1v1h-1zM49.2 714.2h1v1h-1zM67.5 700.4h1v1h-1zM60.1 708.4h1v1h-1zM63.3 716.3h1v1h-1zM55.3 706h1v1h-1zM61.7 698.5h1v1h-1zM60.4 708.3h1v1h-1zM63.4 722.4h1v1h-1zM71.5 696.3h1v1h-1zM53.3 711.6h1v1h-1zM56.7 707.6h1v1h-1zM54.6 706.6h1v1h-1zM44 704.6h1v1h-1zM45.2 705.1h1v1h-1zM55.1 715.3h1v1h-1zM59.4 712h1v1h-1zM50.9 700h1v1h-1zM62.9 719.2h1v1h-1zM63.9 697.8h1v1h-1zM52.1 712.5h1v1h-1zM64.9 708.9h1v1h-1zM67.2 716.5h1v1h-1zM58.2 710.2h1v1h-1zM48.1 715.4h1v1h-1zM65.2 707.3h1v1h-1zM53.8 714.8h1v1h-1zM52.3 710.1h1v1h-1zM55.8 723.6h1v1h-1zM51.2 702.3h1v1h-1zM62.5 716.5h1v1h-1zM60.4 711h1v1h-1zM63.5 708.9h1v1h-1zM59.1 703.3h1v1h-1zM49.4 710.9h1v1h-1zM53.9 696.5h1v1h-1zM61.1 697.3h1v1h-1zM52.2 712.9h1v1h-1zM75.4 695.9h1v1h-1zM53.3 718.3h1v1h-1zM50.9 705.5h1v1h-1zM63 709.4h1v1h-1zM60.2 708.1h1v1h-1zM54.8 710.7h1v1h-1zM53.4 705.5h1v1h-1zM58 704.8h1v1h-1zM60.8 706.6h1v1h-1zM60.3 715.4h1v1h-1zM52.9 716.1h1v1h-1zM58 717.1h1v1h-1zM60.9 710.3h1v1h-1zM60.4 706.1h1v1h-1zM44 695h1v1h-1zM48.8 712.4h1v1h-1zM49.6 713.9h1v1h-1zM53.4 704.5h1v1h-1zM56.3 713.6h1v1h-1zM61.5 717.2h1v1h-1zM59.3 708.3h1v1h-1zM54.1 715.5h1v1h-1zM55.2 709.9h1v1h-1zM67.3 694.6h1v1h-1zM50.7 704h1v1h-1zM57.1 704.5h1v1h-1zM66 711.5h1v1h-1zM57.4 701.1h1v1h-1zM44 704.3h1v1h-1zM57.6 700.4h1v1h-1zM52.3 707.3h1v1h-1zM54.2 708.1h1v1h-1zM62.4 714.9h1v1h-1zM58.3 713.6h1v1h-1zM53.2 708.8h1v1h-1zM61.2 709.4h1v1h-1zM58 708.4h1v1h-1zM55.7 708.4h1v1h-1zM57.1 719.2h1v1h-1zM56.8 688.9h1v1h-1zM52.6 706.3h1v1h-1zM51.8 709.9h1v1h-1zM55.2 716.1h1v1h-1zM48.3 699.4h1v1h-1zM46.2 710.2h1v1h-1zM64.1 714h1v1h-1zM53.3 704.2h1v1h-1zM54.8 693.3h1v1h-1zM54.1 704.9h1v1h-1zM55.2 698.6h1v1h-1zM55.2 712.5h1v1h-1zM55.5 701.2h1v1h-1zM49.4 720.9h1v1h-1zM61.5 708.6h1v1h-1zM50.2 701.5h1v1h-1zM62.2 703.8h1v1h-1zM44 699.4h1v1h-1zM47.6 710.5h1v1h-1zM61.9 718.8h1v1h-1zM54 706h1v1h-1zM50.3 714.5h1v1h-1zM57.6 700.5h1v1h-1zM47.7 709.9h1v1h-1zM55.5 724.9h1v1h-1zM44 697h1v1h-1zM51.8 716.8h1v1h-1zM50.5 716.4h1v1h-1zM58.8 693.5h1v1h-1zM61.1 696.8h1v1h-1zM49 700.3h1v1h-1zM66.3 714.8h1v1h-1zM50.9 704.4h1v1h-1zM44 706.3h1v1h-1zM44 712.9h1v1h-1zM65.8 708.5h1v1h-1zM54.4 709.3h1v1h-1zM50.5 705.2h1v1h-1zM49.8 716h1v1h-1zM47.4 701.7h1v1h-1zM64.5 720.1h1v1h-1zM54.4 705h1v1h-1zM67.5 701.6h1v1h-1zM53.6 712.4h1v1h-1zM44 711h1v1h-1zM60.9 692.7h1v1h-1zM52.4 709.2h1v1h-1zM53.3 697.4h1v1h-1zM66 701.3h1v1h-1zM53.2 713.5h1v1h-1zM63.1 701.1h1v1h-1zM55 710.2h1v1h-1zM49.7 704.7h1v1h-1zM58.6 722h1v1h-1zM50.8 706.8h1v1h-1zM63.6 698.7h1v1h-1zM61.7 699.3h1v1h-1zM55.4 700.7h1v1h-1zM59.3 708.5h1v1h-1zM59 707.5h1v1h-1zM53.1 714.8h1v1h-1zM61.3 708.8h1v1h-1zM53.4 708.5h1v1h-1zM59.3 709.9h1v1h-1zM48.3 706.5h1v1h-1zM55.7 709.7h1v1h-1zM57.9 713.4h1v1h-1zM49.5 713.4h1v1h-1zM52.1 703.4h1v1h-1zM51.3 694.2h1v1h-1zM60.1 701.4h1v1h-1zM50 709.6h1v1h-1zM58.1 688.8h1v1h-1zM65.7 703.9h1v1h-1zM57.5 710.8h1v1h-1zM44 703.2h1v1h-1zM55.9 699.1h1v1h-1zM62.3 720.6h1v1h-1zM53 717.9h1v1h-1zM62.8 705.5h1v1h-1zM59.4 717.4h1v1h-1zM58 717.2h1v1h-1zM53.2 699h1v1h-1zM51.5 725h1v1h-1zM53.3 700.4h1v1h-1zM55.5 705.5h1v1h-1zM58.7 699.2h1v1h-1zM58 708h1v1h-1zM53 697.6h1v1h-1zM55.5 707.4h1v1h-1zM57.8 715.5h1v1h-1zM44 709h1v1h-1zM49.7 705.4h1v1h-1zM49.5 719h1v1h-1zM53.7 700.7h1v1h-1zM53.2 714.7h1v1h-1zM53.3 705.1h1v1h-1zM49 709h1v1h-1zM59.8 707.6h1v1h-1zM57 708.4h1v1h-1zM44 707h1v1h-1zM55.2 701.5h1v1h-1zM47.2 703.1h1v1h-1zM67 710.7h1v1h-1zM51.9 706.6h1v1h-1zM52.3 698.6h1v1h-1zM55.7 702.1h1v1h-1zM53.7 702.2h1v1h-1zM54.7 706.9h1v1h-1zM65.9 708.7h1v1h-1zM56.7 708h1v1h-1zM61 702.4h1v1h-1zM63 707.5h1v1h-1zM48.3 697.1h1v1h-1zM66.9 685.7h1v1h-1zM59.9 706.9h1v1h-1zM61.8 694.9h1v1h-1zM49.1 700.2h1v1h-1zM60.8 698.2h1v1h-1zM58 712h1v1h-1zM51.4 698.2h1v1h-1zM71.1 709.3h1v1h-1zM59.1 703.6h1v1h-1zM53.5 698h1v1h-1zM56.5 695.4h1v1h-1zM61.5 710.7h1v1h-1zM63 710.1h1v1h-1zM59.2 713h1v1h-1zM63.7 720.9h1v1h-1zM65.4 709.2h1v1h-1zM46.5 709.3h1v1h-1zM51.7 706.3h1v1h-1zM48.6 708h1v1h-1zM55.8 704.5h1v1h-1zM65.2 700.5h1v1h-1zM59.7 722.1h1v1h-1zM47.8 693.2h1v1h-1zM53.1 709h1v1h-1zM62.3 710.4h1v1h-1zM51.4 708.2h1v1h-1zM54.5 699.9h1v1h-1zM57.3 705.7h1v1h-1zM44 703.6h1v1h-1zM60.6 699h1v1h-1zM57.5 706.7h1v1h-1zM59.1 704h1v1h-1zM48.3 702.9h1v1h-1zM49.8 712.2h1v1h-1zM51 699.1h1v1h-1zM56.9 710.3h1v1h-1zM55.6 702.5h1v1h-1zM56 710.2h1v1h-1zM67.7 707.5h1v1h-1zM64.3 708.8h1v1h-1zM50.1 699.7h1v1h-1zM50.6 701.2h1v1h-1zM67.2 700.6h1v1h-1zM52.9 708.3h1v1h-1zM64.8 712.6h1v1h-1zM66.3 715.1h1v1h-1zM51.3 703.2h1v1h-1zM53.3 707.6h1v1h-1zM55.7 694.8h1v1h-1zM49.1 690.4h1v1h-1zM48.3 700.5h1v1h-1zM52.3 702h1v1h-1zM61.1 695.3h1v1h-1zM52 693.6h1v1h-1zM53.7 710.9h1v1h-1zM51.9 700.9h1v1h-1zM45.6 694.3h1v1h-1zM65.5 724.3h1v1h-1zM44 708.2h1v1h-1zM50.6 704.5h1v1h-1zM59.1 712h1v1h-1zM45.4 701.2h1v1h-1zM59.4 718.8h1v1h-1zM63.9 695.4h1v1h-1zM49.1 697.1h1v1h-1zM56.6 705.8h1v1h-1zM47.4 701.1h1v1h-1zM58.7 717.4h1v1h-1zM55.8 694.8h1v1h-1zM56.6 701.4h1v1h-1zM64.7 708.6h1v1h-1zM58.4 711h1v1h-1zM64.6 714.3h1v1h-1zM59.6 709.4h1v1h-1zM46.7 723.3h1v1h-1zM57 703.2h1v1h-1zM58.6 708.1h1v1h-1zM45 713.2h1v1h-1zM64.5 704.4h1v1h-1zM55.6 704.6h1v1h-1zM57.7 703.3h1v1h-1zM48.9 701.9h1v1h-1zM55.6 698.3h1v1h-1zM57.2 702.6h1v1h-1zM52.9 695.2h1v1h-1zM55.7 709.6h1v1h-1zM44 694.8h1v1h-1zM64.7 722.1h1v1h-1zM47.3 719.4h1v1h-1zM44 715h1v1h-1zM48.4 705.1h1v1h-1zM49.3 702.3h1v1h-1zM58.9 715.8h1v1h-1zM48.7 708h1v1h-1zM57.1 710.9h1v1h-1zM48.4 701.3h1v1h-1zM70.6 714.6h1v1h-1zM58.9 700.7h1v1h-1zM68.8 707.5h1v1h-1zM48 693.7h1v1h-1zM59.8 701.8h1v1h-1zM48.4 710.4h1v1h-1zM59.2 703.3h1v1h-1zM59.9 703.3h1v1h-1zM44 712.5h1v1h-1zM47.2 706.1h1v1h-1zM47 715.9h1v1h-1zM44.6 688.6h1v1h-1zM50 710.9h1v1h-1zM48.4 710.4h1v1h-1zM45 695.1h1v1h-1zM55.8 696.9h1v1h-1zM58.9 713.2h1v1h-1zM45.9 698.6h1v1h-1zM51.2 701.9h1v1h-1zM55.2 711.1h1v1h-1zM53.5 704.1h1v1h-1zM50.2 710.2h1v1h-1zM60.8 700.1h1v1h-1zM61 708.8h1v1h-1zM59.8 714.7h1v1h-1zM53.6 709h1v1h-1zM69 690.2h1v1h-1zM67.3 711.5h1v1h-1zM52.3 707h1v1h-1zM54.2 699.8h1v1h-1zM63.4 717h1v1h-1zM49.5 693.6h1v1h-1zM57.9 720.6h1v1h-1zM55.4 701.9h1v1h-1zM50.2 718.4h1v1h-1zM53.5 706.3h1v1h-1zM44.1 696.7h1v1h-1zM51.3 707.3h1v1h-1zM44 709.1h1v1h-1zM71 710.6h1v1h-1zM65.6 714.5h1v1h-1zM63.7 699.9h1v1h-1zM57.2 710.3h1v1h-1zM62.1 712.1h1v1h-1zM64 704.6h1v1h-1zM62.2 699.6h1v1h-1zM61.5 699.5h1v1h-1zM48.7 712.2h1v1h-1zM58.1 712.6h1v1h-1zM51.3 700.4h1v1h-1zM46.8 696.6h1v1h-1zM47.1 715.8h1v1h-1zM58 695h1v1h-1zM62.4 707.8h1v1h-1zM45.5 700.6h1v1h-1zM67.3 693.5h1v1h-1zM65.3 707.5h1v1h-1zM52.4 705.2h1v1h-1zM51.8 717.3h1v1h-1zM54.5 723.5h1v1h-1zM61.9 705.2h1v1h-1zM52.3 714.2h1v1h-1zM47.3 714.4h1v1h-1zM57.4 702.7h1v1h-1zM44 700.1h1v1h-1zM56 718.6h1v1h-1zM63.1 703.9h1v1h-1zM57.1 706.4h1v1h-1zM60.5 704.4h1v1h-1zM58.5 705.6h1v1h-1zM60.1 702.1h1v1h-1zM56 712.2h1v1h-1zM49.2 716h1v1h-1zM53.4 703.8h1v1h-1zM54.5 696.3h1v1h-1zM63.8 707h1v1h-1zM66.4 695.5h1v1h-1zM57.9 701.8h1v1h-1zM49.7 715.8h1v1h-1zM49.9 723.9h1v1h-1zM53.7 709.4h1v1h-1zM64.7 698.6h1v1h-1zM57.3 712.4h1v1h-1zM54.6 689.8h1v1h-1zM49.6 701.4h1v1h-1zM61.2 717.9h1v1h-1zM57 712.1h1v1h-1zM54.6 696.3h1v1h-1zM55.7 694.2h1v1h-1zM66.8 713h1v1h-1zM53.9 706.2h1v1h-1zM66.8 702.1h1v1h-1zM63.7 709.7h1v1h-1zM55.4 702.3h1v1h-1zM61.2 692.2h1v1h-1zM54.1 712.6h1v1h-1zM49.2 701.7h1v1h-1zM53.1 699.1h1v1h-1zM48.6 696.6h1v1h-1zM58.6 708.4h1v1h-1zM55.1 700.6h1v1h-1zM59 711.2h1v1h-1zM60.8 704.6h1v1h-1zM44 714.6h1v1h-1zM57.2 703.7h1v1h-1zM44 701.7h1v1h-1zM56.2 691.9h1v1h-1zM48.9 698.4h1v1h-1zM55.7 712h1v1h-1zM64.6 725h1v1h-1zM44 697.2h1v1h-1zM56.3 698.8h1v1h-1zM54.5 709.1h1v1h-1zM44 710.1h1v1h-1zM59.5 701.5h1v1h-1zM55.2 707.2h1v1h-1zM51.4 694.6h1v1h-1zM49.9 704.4h1v1h-1zM77.5 713.3h1v1h-1zM52.2 718.8h1v1h-1zM44 705.3h1v1h-1zM48.5 704.7h1v1h-1zM52.4 710h1v1h-1zM52.3 714.8h1v1h-1zM54.4 710.2h1v1h-1zM47.7 701h1v1h-1zM58.8 709.2h1v1h-1zM51.6 713.8h1v1h-1zM45.5 701.3h1v1h-1zM49.3 696.6h1v1h-1zM52.3 710.4h1v1h-1zM60.9 709.3h1v1h-1zM58.4 713.8h1v1h-1zM52.6 707.3h1v1h-1zM55.1 701.8h1v1h-1zM56.5 703.3h1v1h-1zM69.3 698.9h1v1h-1zM50.7 699.5h1v1h-1zM58.3 702.4h1v1h-1zM60.1 703h1v1h-1zM48.3 714.9h1v1h-1zM56.3 697.5h1v1h-1zM56.1 706.3h1v1h-1zM51.7 702.2h1v1h-1zM59 717.7h1v1h-1zM62.2 708.6h1v1h-1zM62.9 703.8h1v1h-1zM53.7 712.7h1v1h-1zM56.3 707.1h1v1h-1zM71.5 703.1h1v1h-1zM47.3 718.1h1v1h-1zM56.6 711.9h1v1h-1zM61.2 719.5h1v1h-1zM56.1 715.3h1v1h-1zM59.6 712.4h1v1h-1zM56.2 707.6h1v1h-1zM60.3 698.6h1v1h-1zM64 711.9h1v1h-1zM53.5 707.2h1v1h-1zM56.4 711.7h1v1h-1zM54.6 706.6h1v1h-1zM52.2 701.5h1v1h-1zM54.9 699.2h1v1h-1zM47.1 711.9h1v1h-1zM60.2 716.3h1v1h-1zM66.9 704.5h1v1h-1zM66.9 710.1h1v1h-1zM63.9 717h1v1h-1zM48.3 700.4h1v1h-1zM65.6 704.1h1v1h-1zM50 698.3h1v1h-1zM54.6 715.5h1v1h-1zM67.9 708.6h1v1h-1zM47.5 703.2h1v1h-1zM60.9 694.3h1v1h-1zM57 705.3h1v1h-1zM53.9 714.1h1v1h-1zM48.9 704.5h1v1h-1zM58 703.5h1v1h-1zM51.8 711.5h1v1h-1zM62.3 697.5h1v1h-1zM63.6 707.1h1v1h-1zM45.3 711.2h1v1h-1zM51.5 700.9h1v1h-1zM52.8 700.5h1v1h-1zM46.7 708.5h1v1h-1zM47.2 706h1v1h-1zM55.6 704.9h1v1h-1zM53.5 708.3h1v1h-1zM44 708.4h1v1h-1zM51.2 699.8h1v1h-1zM58.6 701.7h1v1h-1zM46.6 710.1h1v1h-1zM48.5 715.1h1v1h-1zM66.1 716.8h1v1h-1zM64.2 700.4h1v1h-1zM44 714.9h1v1h-1zM45.5 712.4h1v1h-1zM57.6 706.5h1v1h-1zM46.7 710.4h1v1h-1zM53.2 712.9h1v1h-1zM51.8 720h1v1h-1zM58.9 698.9h1v1h-1zM44 711.2h1v1h-1zM44 705.7h1v1h-1zM46.4 705.2h1v1h-1zM62.1 715.3h1v1h-1zM53.9 712.8h1v1h-1zM44 699.2h1v1h-1zM58.5 704.6h1v1h-1zM60 708.4h1v1h-1zM53.3 696.2h1v1h-1zM52.7 713.2h1v1h-1zM58.1 706.2h1v1h-1zM63.5 708h1v1h-1zM56.1 709.3h1v1h-1zM58.7 720.2h1v1h-1zM54.7 707h1v1h-1zM52.3 704.1h1v1h-1zM48.6 719.7h1v1h-1zM56.8 703h1v1h-1zM52.9 702.9h1v1h-1zM53.3 696.5h1v1h-1zM61.5 714.8h1v1h-1zM58.4 708.8h1v1h-1zM61.1 710.3h1v1h-1zM44 708h1v1h-1zM58.9 705.8h1v1h-1zM50.9 700.9h1v1h-1zM49.3 701h1v1h-1zM49 710h1v1h-1zM63.5 707.7h1v1h-1zM60.8 718.9h1v1h-1zM50 701.1h1v1h-1zM47 703.2h1v1h-1zM55.1 699.2h1v1h-1zM51.8 717h1v1h-1zM66.6 697.6h1v1h-1zM44.8 712.5h1v1h-1zM44 717.5h1v1h-1zM53.2 705.7h1v1h-1zM55.1 712.2h1v1h-1zM55.9 691h1v1h-1zM60.3 703.9h1v1h-1zM69.5 694.5h1v1h-1zM52.6 708.1h1v1h-1zM51.2 706.9h1v1h-1zM44 701.1h1v1h-1zM56.7 713.8h1v1h-1zM61 709.4h1v1h-1zM53.2 702.9h1v1h-1zM63.3 703h1v1h-1zM55.2 695.9h1v1h-1zM65.6 705.4h1v1h-1zM57.3 722.5h1v1h-1zM47.6 701.5h1v1h-1zM50.5 709.9h1v1h-1zM44.3 702.7h1v1h-1zM44 712.8h1v1h-1zM56.9 710.1h1v1h-1zM61.1 705.1h1v1h-1zM68.7 693.6h1v1h-1zM54.6 703h1v1h-1zM53.3 715.7h1v1h-1zM47.2 705h1v1h-1zM61.9 711.5h1v1h-1zM57.7 703.2h1v1h-1zM50.8 693h1v1h-1zM59.8 710h1v1h-1zM58.9 709.2h1v1h-1zM44 702.5h1v1h-1zM60.2 704.1h1v1h-1zM56 709h1v1h-1zM52.3 702.4h1v1h-1zM52.1 709.4h1v1h-1zM67.2 705.3h1v1h-1zM65.8 689.3h1v1h-1zM67.8 705.7h1v1h-1zM47 702.4h1v1h-1zM50.4 700.6h1v1h-1zM61.3 709.8h1v1h-1zM46.5 703.2h1v1h-1zM50 710.8h1v1h-1zM44 714.9h1v1h-1zM68 707.9h1v1h-1zM62.4 695.4h1v1h-1zM58.2 701.4h1v1h-1zM56.5 713.6h1v1h-1zM52.1 704.9h1v1h-1zM52.2 700.8h1v1h-1zM59.3 706.2h1v1h-1zM50 710.6h1v1h-1zM63.6 708.8h1v1h-1zM51.6 711.6h1v1h-1zM48.9 700.7h1v1h-1zM64.1 704.8h1v1h-1zM54 705h1v1h-1zM58.9 706.7h1v1h-1zM52.1 691.3h1v1h-1zM44 705.1h1v1h-1zM58.8 696.9h1v1h-1zM45.6 717.2h1v1h-1zM62.6 718.4h1v1h-1zM44.1 719.3h1v1h-1zM44 712.9h1v1h-1zM57.2 703.3h1v1h-1zM58 714h1v1h-1zM55.7 705.4h1v1h-1zM46.5 711.4h1v1h-1zM61.2 700.2h1v1h-1zM44.7 702.5h1v1h-1zM51.8 710.3h1v1h-1zM49.5 720h1v1h-1zM52.4 706.7h1v1h-1zM61 723.6h1v1h-1zM50.6 725h1v1h-1zM59 697.4h1v1h-1zM59.9 706.7h1v1h-1zM44 699.8h1v1h-1zM46.8 705.8h1v1h-1zM52.3 702.9h1v1h-1zM50.9 706.4h1v1h-1zM57.2 714h1v1h-1zM44 713.8h1v1h-1zM60 708.8h1v1h-1zM60.2 706.9h1v1h-1zM53.8 707.8h1v1h-1zM45.3 707.8h1v1h-1zM55 711.1h1v1h-1zM51.2 706.9h1v1h-1zM59 710.6h1v1h-1zM54.4 697.2h1v1h-1zM60.1 712.8h1v1h-1zM52 719.8h1v1h-1zM65.1 708.2h1v1h-1zM44 696.4h1v1h-1zM47.9 716.9h1v1h-1zM58.4 704.4h1v1h-1zM44.4 684.7h1v1h-1zM60.2 705.3h1v1h-1zM46.5 711.4h1v1h-1zM55.7 709.7h1v1h-1zM48.6 716.1h1v1h-1zM51.9 711.5h1v1h-1zM56.2 707.8h1v1h-1zM54.3 692.2h1v1h-1zM52.3 698.6h1v1h-1zM70.1 708.2h1v1h-1zM55.1 711.9h1v1h-1zM48.2 699.3h1v1h-1zM61.5 702.4h1v1h-1zM60.7 710.4h1v1h-1zM63.6 692.7h1v1h-1zM67.5 692.5h1v1h-1zM48.4 705.2h1v1h-1zM62.4 708.8h1v1h-1zM63 703.3h1v1h-1zM55 689.9h1v1h-1zM56.7 707.1h1v1h-1zM44 697h1v1h-1zM51 711.8h1v1h-1zM67.5 706.2h1v1h-1zM44 708.9h1v1h-1zM51.3 711.7h1v1h-1zM57 703h1v1h-1zM59 713h1v1h-1zM66.4 716.1h1v1h-1zM44 709.9h1v1h-1zM55.3 716.8h1v1h-1zM61 702.3h1v1h-1zM45.8 713.7h1v1h-1zM54.7 708.9h1v1h-1zM68.2 699.6h1v1h-1zM64.2 706.3h1v1h-1zM58.8 703h1v1h-1zM44 702.8h1v1h-1zM54.1 707.6h1v1h-1zM57.7 714.8h1v1h-1zM52.8 704.6h1v1h-1zM54.5 707.8h1v1h-1zM76.6 696h1v1h-1zM53.5 707.7h1v1h-1zM48.2 715.5h1v1h-1zM56.7 712.9h1v1h-1zM52.8 710.4h1v1h-1zM52.8 703h1v1h-1zM54.4 699.7h1v1h-1zM60.4 706.2h1v1h-1zM56.7 697h1v1h-1zM46.6 697.8h1v1h-1zM54.1 713.9h1v1h-1zM58.3 700.1h1v1h-1zM51.7 720.3h1v1h-1zM63 696.3h1v1h-1zM60.4 710.1h1v1h-1zM48.1 698.2h1v1h-1zM57.2 708.2h1v1h-1zM68.9 699.2h1v1h-1zM65.9 707.2h1v1h-1zM54.6 705.8h1v1h-1zM61.3 703.6h1v1h-1zM50.3 710.7h1v1h-1zM44.9 718.1h1v1h-1zM58.9 702.5h1v1h-1zM56.7 713.5h1v1h-1zM58.6 707.5h1v1h-1zM54.8 706.7h1v1h-1zM57.3 723.2h1v1h-1zM51.4 690.8h1v1h-1zM58.3 701.9h1v1h-1zM60.8 693.5h1v1h-1zM54.6 704.6h1v1h-1zM60.7 705.2h1v1h-1zM44 725h1v1h-1zM49.5 709.5h1v1h-1zM65.1 720.3h1v1h-1zM67.3 716.6h1v1h-1zM56.8 703.6h1v1h-1zM54.3 710.5h1v1h-1zM46.1 719.3h1v1h-1zM57.5 708.2h1v1h-1zM60.4 708.5h1v1h-1zM44.6 710.6h1v1h-1zM58.9 695.7h1v1h-1zM58.4 700.9h1v1h-1zM58.1 709.4h1v1h-1zM47.1 711h1v1h-1zM58.8 700.1h1v1h-1zM44.5 704.5h1v1h-1zM65.4 706h1v1h-1zM55.9 705.8h1v1h-1zM46.9 712.1h1v1h-1zM64.4 707.7h1v1h-1zM63.1 708.1h1v1h-1zM50.4 696.4h1v1h-1zM70.4 699.1h1v1h-1zM48 709.3h1v1h-1zM57.2 695h1v1h-1zM63.3 708.9h1v1h-1zM44 702h1v1h-1zM62 700.9h1v1h-1zM54.5 711.7h1v1h-1zM54.9 701.9h1v1h-1zM47.5 700.5h1v1h-1zM57.3 701.9h1v1h-1zM47.2 707.3h1v1h-1zM48.2 725h1v1h-1zM51.9 691.1h1v1h-1zM46.4 706.7h1v1h-1zM66 705.1h1v1h-1zM45.7 714h1v1h-1zM49.7 704.1h1v1h-1zM52.8 688.5h1v1h-1zM55 716.7h1v1h-1zM60.5 698.7h1v1h-1zM60.7 706.4h1v1h-1zM52.9 696.7h1v1h-1zM52.3 698.7h1v1h-1zM55.2 703.1h1v1h-1zM60.8 713.2h1v1h-1zM59.9 713.1h1v1h-1zM51.4 702.4h1v1h-1zM44 710.6h1v1h-1zM70 704.1h1v1h-1zM61.7 707.7h1v1h-1zM56.8 708h1v1h-1zM57.4 711.4h1v1h-1zM51.3 702.2h1v1h-1zM48 705.8h1v1h-1zM52.7 708.4h1v1h-1zM53.4 707.5h1v1h-1zM50.6 700.9h1v1h-1zM44.8 719.6h1v1h-1zM52.8 703.4h1v1h-1zM59 712.4h1v1h-1zM51.5 708.3h1v1h-1zM55.2 715.9h1v1h-1zM44 690.5h1v1h-1zM53.5 722.1h1v1h-1zM54.1 705.2h1v1h-1zM46.4 697.6h1v1h-1zM44 707.8h1v1h-1zM57.9 723.6h1v1h-1zM49.3 710.6h1v1h-1zM58.4 697.6h1v1h-1zM52.1 703.3h1v1h-1zM59.4 716.7h1v1h-1zM52.6 696.3h1v1h-1zM44.5 705.4h1v1h-1zM54.4 704.6h1v1h-1zM52.7 722.9h1v1h-1zM59.6 704.6h1v1h-1zM51.8 716.6h1v1h-1zM52.2 701.7h1v1h-1zM61 700.8h1v1h-1zM63.2 714.3h1v1h-1zM60.3 711.4h1v1h-1zM62.3 693.9h1v1h-1zM58.2 711.5h1v1h-1zM60.4 711.6h1v1h-1zM61.1 702.2h1v1h-1zM57.8 708.4h1v1h-1zM55.4 708.8h1v1h-1zM56 703.1h1v1h-1zM71.8 702.4h1v1h-1zM55.1 701.8h1v1h-1zM53.3 704.7h1v1h-1zM52.5 696.9h1v1h-1zM54.8 706.4h1v1h-1zM56.7 695.6h1v1h-1zM47.1 707.3h1v1h-1zM44 706.1h1v1h-1zM57.1 699h1v1h-1zM44 713.1h1v1h-1zM56.8 721.2h1v1h-1zM56 716.6h1v1h-1zM63.1 696.6h1v1h-1zM66.7 716.2h1v1h-1zM57.6 708.4h1v1h-1zM51.1 706.4h1v1h-1zM46.8 702.3h1v1h-1zM49.5 706.7h1v1h-1zM55.3 717.1h1v1h-1zM44 710.8h1v1h-1zM55.5 703.7h1v1h-1zM54.9 701.8h1v1h-1zM59.5 703.6h1v1h-1zM52.7 711.1h1v1h-1zM55.7 720.6h1v1h-1zM49.8 698.9h1v1h-1zM51.8 706.7h1v1h-1zM44 703.9h1v1h-1zM55.9 701.1h1v1h-1zM65.8 709.7h1v1h-1zM56.1 710.8h1v1h-1zM57.6 696.2h1v1h-1zM48.1 699h1v1h-1zM65 715.6h1v1h-1zM49.6 709.1h1v1h-1zM60.6 710.6h1v1h-1zM55.8 703h1v1h-1zM48.3 703.9h1v1h-1zM62.2 710.2h1v1h-1zM55.1 703h1v1h-1zM56.3 698.5h1v1h-1zM58.2 706.7h1v1h-1zM54.8 713.5h1v1h-1zM52.3 699.1h1v1h-1zM58.3 714.6h1v1h-1zM52.2 712h1v1h-1zM55.5 700.3h1v1h-1zM50.3 706.8h1v1h-1zM44.6 706.4h1v1h-1zM50.3 711.5h1v1h-1zM51.5 711.7h1v1h-1zM55.1 697.1h1v1h-1zM63.3 696.7h1v1h-1zM44 714.4h1v1h-1zM55.9 707.6h1v1h-1zM44 709.8h1v1h-1zM47.7 709.2h1v1h-1zM51.5 718.1h1v1h-1zM44 697.8h1v1h-1zM44 714.8h1v1h-1zM56.1 700.7h1v1h-1zM55.5 712.1h1v1h-1zM54.2 716.7h1v1h-1zM49.4 696.5h1v1h-1zM70.1 709.7h1v1h-1zM53.9 704.7h1v1h-1zM49 704.6h1v1h-1zM66.7 707.1h1v1h-1zM59.3 698.9h1v1h-1zM52.4 699.6h1v1h-1zM63.3 711.6h1v1h-1zM56.1 713h1v1h-1zM59.5 702.5h1v1h-1zM56.6 695.9h1v1h-1zM47.8 723.9h1v1h-1zM61.8 714.9h1v1h-1zM56.1 709.4h1v1h-1zM47.9 699.1h1v1h-1zM49.7 702.4h1v1h-1zM61.7 708.5h1v1h-1zM52.4 699.6h1v1h-1zM55.3 718.6h1v1h-1zM59.6 707.8h1v1h-1zM55.9 709.7h1v1h-1zM44.3 699.1h1v1h-1zM59.5 700h1v1h-1zM61.6 700.9h1v1h-1zM61.1 708.8h1v1h-1zM66.3 704.8h1v1h-1zM57.5 704.6h1v1h-1zM60.4 709.1h1v1h-1zM66.1 708.4h1v1h-1zM53 717.7h1v1h-1zM67.2 705.3h1v1h-1zM67.1 699.3h1v1h-1zM60.5 706.7h1v1h-1zM67.9 717.6h1v1h-1zM61 702.7h1v1h-1zM48.8 707.1h1v1h-1zM63 704.1h1v1h-1zM57.3 709.7h1v1h-1zM57.9 708.6h1v1h-1zM56.1 700.8h1v1h-1zM64.5 705.1h1v1h-1zM58.9 713.7h1v1h-1zM50.1 714.8h1v1h-1zM58.4 713.6h1v1h-1zM60.1 713.1h1v1h-1zM49.9 704.3h1v1h-1zM52 704.1h1v1h-1zM52.3 713.6h1v1h-1zM50.7 698.1h1v1h-1zM57.4 706.3h1v1h-1zM62.1 693.1h1v1h-1zM68.2 704h1v1h-1zM63.4 701.5h1v1h-1zM62.2 697.9h1v1h-1zM63 711h1v1h-1zM64.3 701.3h1v1h-1zM52.4 704h1v1h-1zM59.9 704.9h1v1h-1zM57.3 701.3h1v1h-1zM54.1 717.2h1v1h-1zM51.8 703.1h1v1h-1zM51.5 708.2h1v1h-1zM53.1 697.1h1v1h-1zM46.4 703.3h1v1h-1zM58.7 704.4h1v1h-1zM54.8 704.5h1v1h-1zM55.7 702.5h1v1h-1zM57.4 707.8h1v1h-1zM60.1 718.2h1v1h-1zM50.9 705.8h1v1h-1zM54.3 705.7h1v1h-1zM44 703.9h1v1h-1zM44 725h1v1h-1zM44 718.6h1v1h-1zM65.8 710.9h1v1h-1zM44 711.9h1v1h-1zM58.3 701.5h1v1h-1zM65.3 705.6h1v1h-1zM51.8 708.3h1v1h-1zM66.4 707.6h1v1h-1zM67.9 700.5h1v1h-1zM61.6 701h1v1h-1zM71.6 710.6h1v1h-1zM59.4 709.1h1v1h-1zM49.9 691.3h1v1h-1zM58.7 707.4h1v1h-1zM51.9 716.1h1v1h-1zM45.9 702h1v1h-1zM46.1 708.5h1v1h-1zM71.2 696.1h1v1h-1zM51.2 712.9h1v1h-1zM54.9 698.6h1v1h-1zM50.4 697.6h1v1h-1zM56 704.4h1v1h-1zM53.4 724.2h1v1h-1zM52.2 702.3h1v1h-1zM46.6 697.5h1v1h-1zM45.2 710.2h1v1h-1zM49.9 708.5h1v1h-1zM57.1 719h1v1h-1zM69.6 697.4h1v1h-1zM62.5 695h1v1h-1zM67.9 704.5h1v1h-1zM58.5 709.6h1v1h-1zM54.5 709.4h1v1h-1zM45.8 714.7h1v1h-1zM55.1 695.8h1v1h-1zM44 700.7h1v1h-1zM53 705.8h1v1h-1zM66.5 712.9h1v1h-1zM57.4 710.3h1v1h-1zM63 703.7h1v1h-1zM52.5 699.3h1v1h-1zM45.5 713.3h1v1h-1zM51.8 713.8h1v1h-1zM52.4 725h1v1h-1zM63.6 705.5h1v1h-1zM69 718.7h1v1h-1zM50 697.9h1v1h-1zM52.6 702.8h1v1h-1zM54.1 701.8h1v1h-1zM52.7 703.4h1v1h-1zM46.5 700.3h1v1h-1zM55.8 702.8h1v1h-1zM57.7 706.4h1v1h-1zM57.9 703.5h1v1h-1zM46.7 711.6h1v1h-1zM54.4 706.2h1v1h-1zM44 706.8h1v1h-1zM61.6 717.6h1v1h-1zM48 709.1h1v1h-1zM53.3 707.9h1v1h-1zM52 706.6h1v1h-1zM51.1 707.2h1v1h-1zM47.8 711h1v1h-1zM44 700.9h1v1h-1zM67.3 715.2h1v1h-1zM57 718.3h1v1h-1zM57.1 715.3h1v1h-1zM69.9 703.2h1v1h-1zM54.5 695.1h1v1h-1zM59.1 703.6h1v1h-1zM55.4 707.9h1v1h-1zM63.5 712.9h1v1h-1zM58.7 705.4h1v1h-1zM57.4 704.6h1v1h-1zM53.4 718h1v1h-1zM57.2 701.9h1v1h-1zM63.4 714.6h1v1h-1zM44 713.4h1v1h-1zM54.3 697h1v1h-1zM52.3 708.8h1v1h-1zM53.1 702.7h1v1h-1zM44 699.8h1v1h-1zM60.3 693.2h1v1h-1zM49.3 695.3h1v1h-1zM53.6 709.8h1v1h-1zM51.7 703.9h1v1h-1zM44 708.8h1v1h-1zM52.1 699h1v1h-1zM44 704.4h1v1h-1zM48.6 704.8h1v1h-1zM53 695.4h1v1h-1zM55.2 694.6h1v1h-1zM55.6 710h1v1h-1zM54.3 707.9h1v1h-1zM70.2 699.9h1v1h-1zM58.3 706h1v1h-1zM46.7 711.6h1v1h-1zM50.9 720.2h1v1h-1zM50.6 700.3h1v1h-1zM54 711.3h1v1h-1zM51 722.3h1v1h-1zM49.2 707.3h1v1h-1zM66.8 717.6h1v1h-1zM55.5 687.8h1v1h-1zM52.9 717.4h1v1h-1zM53.5 706.7h1v1h-1zM53.7 693h1v1h-1zM119.1 717.3h1v1h-1zM121 717.7h1v1h-1zM122.1 715h1v1h-1zM122 715.4h1v1h-1zM113.6 720h1v1h-1zM108.7 713.1h1v1h-1zM110.6 715.7h1v1h-1zM113.6 716.6h1v1h-1zM116.6 719.1h1v1h-1zM110.5 714.1h1v1h-1zM114.1 722.6h1v1h-1zM119.8 717.7h1v1h-1zM116 717.9h1v1h-1zM129.5 717.6h1v1h-1zM128.6 716.5h1v1h-1zM105.9 715.4h1v1h-1zM109.9 722.8h1v1h-1zM104.8 719.5h1v1h-1zM105.8 718.4h1v1h-1zM117.5 722.2h1v1h-1zM107 716.3h1v1h-1zM106.6 721h1v1h-1zM111.9 718.9h1v1h-1zM119.3 715.7h1v1h-1zM111.4 721.4h1v1h-1zM111.3 713.6h1v1h-1zM120.1 721h1v1h-1zM117 715.7h1v1h-1zM116.9 720.2h1v1h-1zM120.3 723.5h1v1h-1zM106.8 720.7h1v1h-1zM115.3 716.7h1v1h-1zM109.4 718.7h1v1h-1zM120.9 717.5h1v1h-1zM119.4 714.7h1v1h-1zM106.6 714.9h1v1h-1zM123 718.9h1v1h-1zM105.8 720.6h1v1h-1zM121.8 712.7h1v1h-1zM115.2 718.5h1v1h-1zM107.8 720.5h1v1h-1zM106.1 719.1h1v1h-1zM111.7 715.3h1v1h-1zM113.6 722.3h1v1h-1zM108.9 714.5h1v1h-1zM117.7 720.9h1v1h-1zM104.2 724.2h1v1h-1zM113.7 711.7h1v1h-1zM113.8 719.6h1v1h-1zM100.9 719.8h1v1h-1zM115.9 719.5h1v1h-1zM105.1 716.1h1v1h-1zM96.6 717.6h1v1h-1zM109.6 713.9h1v1h-1zM112.2 719.1h1v1h-1zM120 720.5h1v1h-1zM110.4 716.4h1v1h-1zM123.9 715.5h1v1h-1zM123.7 717.1h1v1h-1zM121.3 718.7h1v1h-1zM122.9 718.9h1v1h-1zM116.2 718.3h1v1h-1zM110 718.9h1v1h-1zM118.3 714.2h1v1h-1zM120.5 709.3h1v1h-1zM115.4 720.8h1v1h-1zM112.1 723.6h1v1h-1zM103 713.8h1v1h-1zM118.5 716.4h1v1h-1zM116.2 719.7h1v1h-1zM104.8 721.9h1v1h-1zM114.5 720.9h1v1h-1zM118.8 723.1h1v1h-1zM113 718.5h1v1h-1zM119.2 720.1h1v1h-1zM119 720.1h1v1h-1zM103.6 717.2h1v1h-1zM111.7 722.8h1v1h-1zM117.1 720.8h1v1h-1zM120.1 722h1v1h-1zM123.5 717.3h1v1h-1zM100.5 722.2h1v1h-1zM113.3 715h1v1h-1zM118.7 720h1v1h-1zM122.2 709.7h1v1h-1zM125.4 715.2h1v1h-1zM107.3 721.2h1v1h-1zM111.2 717.1h1v1h-1zM106.5 719.3h1v1h-1zM119.4 713.1h1v1h-1zM104.6 724h1v1h-1zM122 720.7h1v1h-1zM120.3 718.6h1v1h-1zM117.2 720.1h1v1h-1zM98.8 719.8h1v1h-1zM109.1 723.5h1v1h-1zM119 719.4h1v1h-1zM104 713.6h1v1h-1zM112.1 717.8h1v1h-1zM113.1 723h1v1h-1zM119.9 720.6h1v1h-1zM115.7 717.2h1v1h-1zM115.7 720.7h1v1h-1zM110.7 719.1h1v1h-1zM113.8 720.7h1v1h-1zM112.9 713.2h1v1h-1zM118.8 715.6h1v1h-1zM112.5 720.9h1v1h-1zM120.9 717.9h1v1h-1zM102 719.9h1v1h-1zM122.1 725h1v1h-1zM112.6 717.6h1v1h-1zM121.6 719.5h1v1h-1zM114.4 716.7h1v1h-1zM119.7 716.5h1v1h-1zM124.1 718.4h1v1h-1zM109.9 713.7h1v1h-1zM114.3 711.4h1v1h-1zM112.6 723.3h1v1h-1zM115.2 718.3h1v1h-1zM102.6 722.5h1v1h-1zM112.6 719.1h1v1h-1zM112.1 719.2h1v1h-1zM108.3 720.9h1v1h-1zM112.4 721.1h1v1h-1zM103.1 714.5h1v1h-1zM123.4 722.8h1v1h-1zM116.9 715.3h1v1h-1zM126.8 719.3h1v1h-1zM107.7 725h1v1h-1zM105.7 718.9h1v1h-1zM115.7 724.4h1v1h-1zM102.2 717.5h1v1h-1zM115.3 720.8h1v1h-1zM108.9 718.8h1v1h-1zM111.5 720.1h1v1h-1zM115.5 715.7h1v1h-1zM114.1 715.5h1v1h-1zM126.6 719.8h1v1h-1zM118.1 713.3h1v1h-1zM104.8 715.8h1v1h-1zM120.5 720.8h1v1h-1zM104.5 716.6h1v1h-1zM114.4 715.6h1v1h-1zM105.1 714.9h1v1h-1zM108 719.2h1v1h-1zM122.8 717.4h1v1h-1zM109.9 719.2h1v1h-1zM109.3 718h1v1h-1zM109.9 725h1v1h-1zM111.6 717.2h1v1h-1zM123.7 712h1v1h-1zM105.6 719.1h1v1h-1zM105.2 718.7h1v1h-1zM117.8 719.2h1v1h-1zM102.7 713.2h1v1h-1zM111.2 722.5h1v1h-1zM121.6 718.5h1v1h-1zM113.7 718.5h1v1h-1zM110.4 713.3h1v1h-1zM108.8 720.3h1v1h-1zM107.4 718.4h1v1h-1zM109.6 723.3h1v1h-1zM114.7 717.2h1v1h-1zM122.3 714.4h1v1h-1zM120.4 719.1h1v1h-1zM109.8 715.5h1v1h-1zM108.6 720.1h1v1h-1zM118.5 715h1v1h-1zM101.1 718.2h1v1h-1zM118.7 673.5h1v1h-1zM119.5 667.2h1v1h-1zM117.6 668.9h1v1h-1zM116.5 668.1h1v1h-1zM119.4 662.7h1v1h-1zM117.4 657.6h1v1h-1zM120.2 670.1h1v1h-1zM118.5 671.6h1v1h-1zM110.9 668.7h1v1h-1zM119.4 667.9h1v1h-1z" fill="#111"/>
<rect x="43.75" y="633.25" width="102.5" height="93.0" fill="none" stroke="#555" stroke-width="0.9"/>
<line x1="43.75" y1="633.25" x2="43.75" y2="726.25" stroke="#333" stroke-width="1.4"/>
<line x1="43.75" y1="726.25" x2="146.25" y2="726.25" stroke="#222" stroke-width="1.6"/>
<line x1="70.5" y1="633.25" x2="70.5" y2="726.25" stroke="#444" stroke-width="1.0"/>
<line x1="70" y1="702.5" x2="146.25" y2="702.5" stroke="#444" stroke-width="1.0"/>
<text x="96" y="629.5" font-size="11" font-weight="bold" font-style="italic" text-anchor="middle" fill="#000">WT</text>
<text x="141.3" y="645.3" font-size="11" font-weight="bold" text-anchor="end" fill="#000">7</text>
<text x="143.3" y="712.3" font-size="11" font-weight="bold" text-anchor="end" fill="#000">28</text>
<text x="43.8" y="733.0" class="g" font-size="5" fill="#555" text-anchor="middle">10<tspan font-size="3.5" dy="-2.0">0</tspan></text>
<text x="69.4" y="733.0" class="g" font-size="5" fill="#555" text-anchor="middle">10<tspan font-size="3.5" dy="-2.0">1</tspan></text>
<text x="95.0" y="733.0" class="g" font-size="5" fill="#555" text-anchor="middle">10<tspan font-size="3.5" dy="-2.0">2</tspan></text>
<text x="120.6" y="733.0" class="g" font-size="5" fill="#555" text-anchor="middle">10<tspan font-size="3.5" dy="-2.0">3</tspan></text>
<text x="146.2" y="733.0" class="g" font-size="5" fill="#555" text-anchor="middle">10<tspan font-size="3.5" dy="-2.0">4</tspan></text>
<text transform="translate(39.5,726.2) rotate(-90)" class="g" font-size="5" fill="#555" text-anchor="middle">10<tspan font-size="3.5" dy="-2.0">0</tspan></text>
<text transform="translate(39.5,703.0) rotate(-90)" class="g" font-size="5" fill="#555" text-anchor="middle">10<tspan font-size="3.5" dy="-2.0">1</tspan></text>
<text transform="translate(39.5,679.8) rotate(-90)" class="g" font-size="5" fill="#555" text-anchor="middle">10<tspan font-size="3.5" dy="-2.0">2</tspan></text>
<text transform="translate(39.5,656.5) rotate(-90)" class="g" font-size="5" fill="#555" text-anchor="middle">10<tspan font-size="3.5" dy="-2.0">3</tspan></text>
<text transform="translate(39.5,633.2) rotate(-90)" class="g" font-size="5" fill="#555" text-anchor="middle">10<tspan font-size="3.5" dy="-2.0">4</tspan></text>
<path d="M236.8 712.3h1v1h-1zM225.6 722.8h1v1h-1zM235.1 720.4h1v1h-1zM235.4 726.8h1v1h-1zM198.7 726.8h1v1h-1zM221.6 713.6h1v1h-1zM239.3 693.5h1v1h-1zM249.3 705.9h1v1h-1zM228.8 684h1v1h-1zM251.7 707.2h1v1h-1zM234.2 694.7h1v1h-1zM224.6 705.8h1v1h-1zM215.5 716h1v1h-1zM255.4 682.9h1v1h-1zM264.4 722.1h1v1h-1zM250.5 681.8h1v1h-1zM213.9 703.5h1v1h-1zM248.8 690.5h1v1h-1zM234.4 681.9h1v1h-1zM264.6 703h1v1h-1zM198.4 692.6h1v1h-1zM253.7 683.8h1v1h-1zM231.6 719.6h1v1h-1zM259.6 691.8h1v1h-1zM241.6 725h1v1h-1zM198.5 709.2h1v1h-1zM247.8 697h1v1h-1zM236.4 682.9h1v1h-1zM215.2 721.1h1v1h-1zM206.8 685.2h1v1h-1zM226.7 717.3h1v1h-1zM238.4 705.4h1v1h-1zM232.4 701.9h1v1h-1zM199.2 683.9h1v1h-1zM208.6 700.2h1v1h-1zM247 680.8h1v1h-1zM237.3 716.6h1v1h-1zM251.5 713.9h1v1h-1zM227.8 686.5h1v1h-1zM216.5 704.5h1v1h-1zM255.5 688.5h1v1h-1zM213.7 714.2h1v1h-1zM202.4 689.1h1v1h-1zM224.5 688.3h1v1h-1zM230.5 693.6h1v1h-1zM213.1 726.6h1v1h-1zM266.8 719.3h1v1h-1zM214.7 699.4h1v1h-1zM206.8 718.1h1v1h-1zM245.6 697.3h1v1h-1zM208.3 689h1v1h-1zM218.2 723.1h1v1h-1zM227.8 681.8h1v1h-1zM217.7 718.1h1v1h-1zM245.1 726.1h1v1h-1zM208.1 684h1v1h-1zM244.4 721.2h1v1h-1zM206.3 717.4h1v1h-1zM239.8 682h1v1h-1zM268.5 701.3h1v1h-1zM254.7 692.5h1v1h-1zM266.1 698.4h1v1h-1zM237.3 698.3h1v1h-1zM209.4 698.9h1v1h-1zM224.7 680.5h1v1h-1zM253.9 693h1v1h-1zM207.5 693.9h1v1h-1zM245.8 711.2h1v1h-1zM221.2 713.4h1v1h-1zM264.1 716h1v1h-1zM223.2 710.6h1v1h-1zM221.2 722.9h1v1h-1zM217.6 706.7h1v1h-1zM236.9 695h1v1h-1zM266.6 681.9h1v1h-1zM236.9 714.9h1v1h-1zM251.4 707h1v1h-1zM235.5 687.8h1v1h-1zM204 704.5h1v1h-1zM240.2 725.3h1v1h-1zM240.8 709.1h1v1h-1zM240.9 694.8h1v1h-1zM219.5 718.7h1v1h-1zM217.2 698.9h1v1h-1zM221.7 680.7h1v1h-1zM200.2 683.8h1v1h-1zM209.6 726.2h1v1h-1zM218.7 684.5h1v1h-1zM234.9 717.6h1v1h-1zM263.6 681.5h1v1h-1zM248.5 700.3h1v1h-1zM235.2 693.5h1v1h-1zM249.6 696.5h1v1h-1zM230 684.4h1v1h-1zM201.4 699.3h1v1h-1zM247.4 716.4h1v1h-1zM248.8 705.2h1v1h-1zM245.2 686.3h1v1h-1zM259.4 718.7h1v1h-1zM254.3 721.8h1v1h-1zM257.7 701.9h1v1h-1zM201.3 697.2h1v1h-1zM270 680.9h1v1h-1zM240.4 683.4h1v1h-1zM240.7 698h1v1h-1zM242.2 685.4h1v1h-1zM217.4 726.5h1v1h-1zM219.8 710.9h1v1h-1zM261.1 695h1v1h-1zM241.2 708.1h1v1h-1zM267.2 688.1h1v1h-1zM213 724h1v1h-1zM240.2 704h1v1h-1zM241.2 713.6h1v1h-1zM200.7 688.7h1v1h-1zM243.1 702.7h1v1h-1zM225.7 714.3h1v1h-1zM229 698.6h1v1h-1zM211.4 683.1h1v1h-1zM240.8 702.5h1v1h-1zM213.1 709.3h1v1h-1zM211.3 672.8h1v1h-1zM180.9 688.3h1v1h-1zM213.5 694h1v1h-1zM196.9 690.6h1v1h-1zM192.5 708.4h1v1h-1zM194 688.2h1v1h-1zM192 707.3h1v1h-1zM211 700.6h1v1h-1zM196.7 680.5h1v1h-1zM174.4 685.1h1v1h-1zM218.5 690.3h1v1h-1zM204.9 696h1v1h-1zM182.8 704.9h1v1h-1zM191 693.2h1v1h-1zM184.9 704.1h1v1h-1zM195.5 679.3h1v1h-1zM199.4 664.5h1v1h-1zM197.7 691.6h1v1h-1zM188.3 699.6h1v1h-1zM186 691.4h1v1h-1zM204.5 684.9h1v1h-1zM193.9 699.2h1v1h-1zM220.2 714.3h1v1h-1zM186 694h1v1h-1zM203.8 687.7h1v1h-1zM195.5 686.5h1v1h-1zM186.5 714.7h1v1h-1zM210.3 694.6h1v1h-1zM196.4 701.1h1v1h-1zM185 707.2h1v1h-1zM191.4 705.8h1v1h-1zM206.4 685.8h1v1h-1zM181.3 704.6h1v1h-1zM210.5 703.4h1v1h-1zM202.7 699.9h1v1h-1zM191.9 705.1h1v1h-1zM210.2 689.4h1v1h-1zM214.6 694.3h1v1h-1zM201.7 689.8h1v1h-1zM196.9 702.6h1v1h-1zM215.7 688.5h1v1h-1zM211.8 698.9h1v1h-1zM184.6 684.1h1v1h-1zM192.7 693.8h1v1h-1zM192.6 691.4h1v1h-1zM190.4 693.9h1v1h-1zM178.2 696.3h1v1h-1zM205.1 693.2h1v1h-1zM195.9 692.8h1v1h-1zM196.1 674.3h1v1h-1zM210.8 706.1h1v1h-1zM188.6 688.8h1v1h-1zM194.4 692.6h1v1h-1zM198.1 686.7h1v1h-1zM190.1 705h1v1h-1zM193.8 686h1v1h-1zM203.6 700h1v1h-1zM194.9 706.8h1v1h-1zM210 711.5h1v1h-1zM186.5 706.9h1v1h-1zM197.3 701.2h1v1h-1zM178.9 683h1v1h-1zM193.7 707.9h1v1h-1zM187.1 706.9h1v1h-1zM210.3 703.4h1v1h-1zM203.4 703h1v1h-1zM200.7 695.8h1v1h-1zM215.8 689.9h1v1h-1zM211.3 705.8h1v1h-1zM203.1 707.8h1v1h-1zM187.2 684.7h1v1h-1zM178.7 704.2h1v1h-1zM194.7 697.5h1v1h-1zM191 703.9h1v1h-1zM187.7 697.8h1v1h-1zM191.7 706.2h1v1h-1zM176.3 705.3h1v1h-1zM211.8 703.9h1v1h-1zM182.1 681.4h1v1h-1zM187.4 703.3h1v1h-1zM201.4 695.6h1v1h-1zM176.6 683.9h1v1h-1zM205.4 702.2h1v1h-1zM205.6 681.5h1v1h-1zM191.5 704.1h1v1h-1zM182.8 712h1v1h-1zM189.6 690.2h1v1h-1zM174.1 704.3h1v1h-1zM210.7 699.7h1v1h-1zM195.6 701.6h1v1h-1zM186.7 681.7h1v1h-1zM184.7 701.2h1v1h-1zM201.5 696.5h1v1h-1zM212 702.5h1v1h-1zM180.6 695.3h1v1h-1zM188.5 706.1h1v1h-1zM175.1 697.9h1v1h-1zM202.7 702h1v1h-1zM196.8 708.8h1v1h-1zM220.6 697h1v1h-1zM193.6 705.1h1v1h-1zM190.1 697.5h1v1h-1zM187 700.4h1v1h-1zM204.7 690h1v1h-1zM176.5 702.9h1v1h-1zM203.5 707.4h1v1h-1zM197.8 694.5h1v1h-1zM189.3 703.1h1v1h-1zM184.7 699.5h1v1h-1zM207 684.4h1v1h-1zM216.2 698.8h1v1h-1zM189.9 708.3h1v1h-1zM201 690.5h1v1h-1zM214.8 677.7h1v1h-1zM188 697.3h1v1h-1zM192.1 689h1v1h-1zM181.1 714h1v1h-1zM193.3 694.9h1v1h-1zM194.1 695.3h1v1h-1zM190.2 689.1h1v1h-1zM186.6 697.8h1v1h-1zM177 689.8h1v1h-1zM179.7 686.5h1v1h-1zM183.9 694.7h1v1h-1zM202.3 687.4h1v1h-1zM189.2 708.3h1v1h-1zM185.3 683.9h1v1h-1zM202.5 694.6h1v1h-1zM201.4 688.6h1v1h-1zM186.4 681.8h1v1h-1zM187.9 711.7h1v1h-1zM202.5 674.7h1v1h-1zM199.2 709.6h1v1h-1zM185.5 681.5h1v1h-1zM197.7 696.2h1v1h-1zM194.7 717.6h1v1h-1zM207.7 674.5h1v1h-1zM185.1 681.9h1v1h-1zM205.1 708.2h1v1h-1zM199.9 697.1h1v1h-1zM183.5 690h1v1h-1zM207 695h1v1h-1zM205.4 685.9h1v1h-1zM179.9 696.6h1v1h-1zM217.7 710h1v1h-1zM181.9 691.6h1v1h-1zM184.5 696.7h1v1h-1zM191.3 707.2h1v1h-1zM203.8 714.8h1v1h-1zM201.7 689.6h1v1h-1zM193.9 698.3h1v1h-1zM210.7 689.8h1v1h-1zM199.6 689h1v1h-1zM211 691.4h1v1h-1zM227.3 689.2h1v1h-1zM197.2 678.4h1v1h-1zM172.2 675.8h1v1h-1zM189.8 688.2h1v1h-1zM182.6 696.6h1v1h-1zM196.1 707.3h1v1h-1zM196.1 690.2h1v1h-1zM180.9 693.7h1v1h-1zM181.7 701.8h1v1h-1zM192 702.6h1v1h-1zM192.7 694.2h1v1h-1zM172.2 694.8h1v1h-1zM206.2 713.7h1v1h-1zM195.4 692.1h1v1h-1zM194.9 690.6h1v1h-1zM198.4 679.4h1v1h-1zM183.2 699.6h1v1h-1zM194.4 692.8h1v1h-1zM207 714.1h1v1h-1zM207.5 692.1h1v1h-1zM200.3 703.3h1v1h-1zM191.8 704.5h1v1h-1zM185.5 711.5h1v1h-1zM210.3 682.5h1v1h-1zM201.1 710.7h1v1h-1zM190.1 695.5h1v1h-1zM172.2 694.3h1v1h-1zM184.9 692.3h1v1h-1zM172.6 691.5h1v1h-1zM209.5 692h1v1h-1zM197.2 672.5h1v1h-1zM186.3 700.3h1v1h-1zM191.8 696h1v1h-1zM225.3 686h1v1h-1zM209.2 694.7h1v1h-1zM179.3 717.8h1v1h-1zM193.5 699.1h1v1h-1zM180.6 691.6h1v1h-1zM174.8 712.1h1v1h-1zM197 687.6h1v1h-1zM223.3 693.8h1v1h-1zM213.3 689.9h1v1h-1zM195.5 693h1v1h-1zM190.6 702.5h1v1h-1zM197.4 701h1v1h-1zM207.2 688.2h1v1h-1zM177.8 694.1h1v1h-1zM173 696.2h1v1h-1zM217.1 691.4h1v1h-1zM198.3 695h1v1h-1zM213.9 688.3h1v1h-1zM197.8 688.2h1v1h-1zM212.4 695.8h1v1h-1zM187.8 685.3h1v1h-1zM200.9 699.4h1v1h-1zM213.3 693.4h1v1h-1zM207.1 686.3h1v1h-1zM189.6 689.4h1v1h-1zM205.6 690.7h1v1h-1zM187.1 693.8h1v1h-1zM178.1 696.4h1v1h-1zM201.2 693.3h1v1h-1zM211.6 686.9h1v1h-1zM205.1 709.3h1v1h-1zM180.1 704.1h1v1h-1zM205.3 696.4h1v1h-1zM203.1 704.6h1v1h-1zM189.5 698.5h1v1h-1zM172.2 692.8h1v1h-1zM207.1 696.1h1v1h-1zM205.5 721.2h1v1h-1zM200.9 705h1v1h-1zM174.4 705.4h1v1h-1zM177.3 691.5h1v1h-1zM207 701.1h1v1h-1zM204.5 717.2h1v1h-1zM200.9 699.4h1v1h-1zM192.1 705.7h1v1h-1zM199.7 707.5h1v1h-1zM188.5 701.5h1v1h-1zM191.3 710.6h1v1h-1zM184.7 697.5h1v1h-1zM198.1 700.1h1v1h-1zM190 689.2h1v1h-1zM206.3 720.9h1v1h-1zM203.6 698.2h1v1h-1zM185.3 696.4h1v1h-1zM216.9 708.8h1v1h-1zM181.6 690.6h1v1h-1zM200.4 695.2h1v1h-1zM207.9 687.7h1v1h-1zM210.3 695.5h1v1h-1zM172.2 691.5h1v1h-1zM207 700.5h1v1h-1zM209.6 694.1h1v1h-1zM234.3 665.2h1v1h-1zM235.2 678.8h1v1h-1zM235.7 682.6h1v1h-1zM234.6 677.5h1v1h-1zM238.8 695.3h1v1h-1zM238 692.2h1v1h-1zM236.5 683.1h1v1h-1zM232.6 685.6h1v1h-1zM237.6 697.6h1v1h-1zM232.4 680.6h1v1h-1zM236.6 681h1v1h-1zM236.2 693.8h1v1h-1zM234.4 689.2h1v1h-1zM233.7 699.3h1v1h-1zM234.1 688.2h1v1h-1zM242 692.2h1v1h-1zM235.3 678.5h1v1h-1zM235.5 674.4h1v1h-1zM238.9 684.2h1v1h-1zM237.3 656.3h1v1h-1zM239.1 688.6h1v1h-1zM232.5 694.5h1v1h-1zM232.9 685.1h1v1h-1zM245.7 682h1v1h-1zM236 695.7h1v1h-1zM235.2 683.8h1v1h-1zM236.5 694.6h1v1h-1zM239 707.4h1v1h-1zM232.6 691.9h1v1h-1zM236.9 694.2h1v1h-1zM236 689.5h1v1h-1zM238 686.9h1v1h-1zM236.6 687.2h1v1h-1zM234.5 685h1v1h-1zM233.6 695.7h1v1h-1zM229 667.3h1v1h-1zM238.9 681.5h1v1h-1zM231.8 691.2h1v1h-1zM234.9 675.4h1v1h-1zM240.9 683.2h1v1h-1zM234.9 677h1v1h-1zM237.8 688.9h1v1h-1zM235.5 693.4h1v1h-1zM238.1 699.6h1v1h-1zM236.2 689.6h1v1h-1zM234.6 676.7h1v1h-1zM240 686.9h1v1h-1zM235.3 690.3h1v1h-1zM232.2 699.1h1v1h-1zM235.1 661.7h1v1h-1zM237.6 688.2h1v1h-1zM232.9 665.1h1v1h-1zM238.3 691.8h1v1h-1zM238.3 689h1v1h-1zM242.2 689.5h1v1h-1zM234.2 693.6h1v1h-1zM238 688.3h1v1h-1zM231.3 677.5h1v1h-1zM234.9 688h1v1h-1zM236.4 696.9h1v1h-1zM237.3 683.1h1v1h-1zM235.9 684.6h1v1h-1zM235.8 671.5h1v1h-1zM234.3 696.5h1v1h-1zM234.8 679h1v1h-1zM237 676.5h1v1h-1zM237.7 679.6h1v1h-1zM237.9 675.2h1v1h-1zM238.9 681.7h1v1h-1zM239.5 697.7h1v1h-1zM177.1 688.2h1v1h-1zM197.1 650.6h1v1h-1zM191.1 681.4h1v1h-1zM189.4 656.8h1v1h-1zM190.1 689.9h1v1h-1zM193.9 653.9h1v1h-1zM180.9 686.8h1v1h-1zM174.9 666.1h1v1h-1zM197.8 661.5h1v1h-1zM172.8 651.6h1v1h-1zM179.1 658.8h1v1h-1zM184.8 665.3h1v1h-1zM173 687.4h1v1h-1zM180.1 688.7h1v1h-1zM194.6 653.2h1v1h-1zM188.3 672.5h1v1h-1zM187.2 651.3h1v1h-1zM172.5 654.2h1v1h-1zM183.1 674.6h1v1h-1zM175.2 671.1h1v1h-1zM182.1 686h1v1h-1zM182.1 686.1h1v1h-1zM183 656.4h1v1h-1zM180.2 675.4h1v1h-1zM192.3 682.3h1v1h-1zM184 680.9h1v1h-1zM195.6 672.7h1v1h-1zM180.9 670.5h1v1h-1zM175.7 672.8h1v1h-1zM181.2 666.5h1v1h-1zM194.7 672.6h1v1h-1zM181.3 685.7h1v1h-1zM193.3 663.9h1v1h-1zM190 667.6h1v1h-1zM178.7 667.5h1v1h-1zM177 684.7h1v1h-1zM174.9 659.8h1v1h-1zM183.7 667.6h1v1h-1zM190.1 680.1h1v1h-1zM179.6 665.7h1v1h-1z" fill="#a8a8a8"/>
<path d="M176.1 705.1h1v1h-1zM190.3 698.7h1v1h-1zM194.8 714.4h1v1h-1zM193.9 714.4h1v1h-1zM185.4 683.8h1v1h-1zM190.9 703.1h1v1h-1zM193.1 715.8h1v1h-1zM200 698.1h1v1h-1zM195.4 701.6h1v1h-1zM187.1 714.3h1v1h-1zM186.8 702.1h1v1h-1zM187.3 692.8h1v1h-1zM187.8 697.9h1v1h-1zM182.3 691.5h1v1h-1zM191.9 710.3h1v1h-1zM180.8 687.5h1v1h-1zM179.9 714.7h1v1h-1zM188.7 688.3h1v1h-1zM181.7 705.2h1v1h-1zM184.2 690.1h1v1h-1zM172.2 701.6h1v1h-1zM192.1 715h1v1h-1zM186 716h1v1h-1zM185.1 717.8h1v1h-1zM189.6 703.8h1v1h-1zM187.6 705.8h1v1h-1zM180.7 707.1h1v1h-1zM201.3 710.9h1v1h-1zM182.6 700.7h1v1h-1zM193.5 715.7h1v1h-1zM200 708h1v1h-1zM181.3 716.2h1v1h-1zM186.7 709.5h1v1h-1zM179.8 711.5h1v1h-1zM194 697.4h1v1h-1zM183.5 700.6h1v1h-1zM177.6 691.8h1v1h-1zM196.1 701.8h1v1h-1zM193 703h1v1h-1zM179.2 713.1h1v1h-1zM195.1 692.1h1v1h-1zM187.5 726.8h1v1h-1zM206.7 703.5h1v1h-1zM199.1 717.3h1v1h-1zM181.8 715.1h1v1h-1zM184 679.5h1v1h-1zM179.3 702.1h1v1h-1zM187 719.5h1v1h-1zM186.4 680.5h1v1h-1zM191.6 712.4h1v1h-1zM186.7 695.6h1v1h-1zM174.8 700.1h1v1h-1zM179.8 707h1v1h-1zM196.8 686.1h1v1h-1zM194.8 706.7h1v1h-1zM184.8 698.3h1v1h-1zM185 697.2h1v1h-1zM184.7 711.7h1v1h-1zM186.2 726.8h1v1h-1zM173.2 708.2h1v1h-1zM192.8 710.3h1v1h-1zM181 704.2h1v1h-1zM187.1 697.5h1v1h-1zM172.2 707.3h1v1h-1zM187.8 719.9h1v1h-1zM196.2 706.6h1v1h-1zM172.2 713.6h1v1h-1zM197.6 702.4h1v1h-1zM189.6 726.8h1v1h-1zM180.4 688.2h1v1h-1zM173.9 710.6h1v1h-1zM194.9 710.1h1v1h-1zM188 707.4h1v1h-1zM190.5 693.5h1v1h-1zM183.9 693.3h1v1h-1zM179.9 702.3h1v1h-1zM192.7 705.7h1v1h-1zM178.7 692.6h1v1h-1zM192.9 694h1v1h-1zM173.2 710.3h1v1h-1zM178.9 715h1v1h-1zM174.9 699.1h1v1h-1zM196 697.7h1v1h-1zM172.6 697.4h1v1h-1zM177.3 726.8h1v1h-1zM191 709.6h1v1h-1zM187.8 704h1v1h-1zM202.8 714.7h1v1h-1zM200.1 726.8h1v1h-1zM190.7 716.4h1v1h-1zM191.3 690.4h1v1h-1zM172.2 703.8h1v1h-1zM179.3 700.6h1v1h-1zM183.5 701.2h1v1h-1zM184.6 692.5h1v1h-1zM175.5 700.7h1v1h-1zM178.9 693.8h1v1h-1zM179.5 708h1v1h-1zM194.1 705.1h1v1h-1zM189.3 690.5h1v1h-1zM183.5 687.5h1v1h-1zM183.9 699.8h1v1h-1zM188.2 711.1h1v1h-1zM180.7 709.6h1v1h-1zM184 703.9h1v1h-1zM172.8 671.5h1v1h-1zM191.1 699.7h1v1h-1zM193.4 697.2h1v1h-1zM188.8 701.2h1v1h-1zM189.7 692.4h1v1h-1zM188.8 700.3h1v1h-1zM201.6 697.9h1v1h-1zM187.6 726.8h1v1h-1zM175.9 711.7h1v1h-1zM178 702.7h1v1h-1zM191.4 704.1h1v1h-1zM194.2 703.4h1v1h-1zM191.9 706.5h1v1h-1zM192.4 700.5h1v1h-1zM187.4 704.4h1v1h-1zM174.6 714.9h1v1h-1zM180.6 712.9h1v1h-1zM172.2 707.7h1v1h-1zM183 718h1v1h-1zM175.5 706.8h1v1h-1zM186.7 694.8h1v1h-1zM184.7 687.1h1v1h-1zM172.2 697.6h1v1h-1zM191.6 704h1v1h-1zM191.8 708.6h1v1h-1zM175.3 715.4h1v1h-1zM187.1 698.8h1v1h-1zM191.5 696.5h1v1h-1zM183.7 712.3h1v1h-1zM192.5 716.4h1v1h-1zM187.4 699.8h1v1h-1zM194.2 708h1v1h-1zM187.4 718.4h1v1h-1zM184.7 707.8h1v1h-1zM189.9 704h1v1h-1zM192 683.8h1v1h-1zM187.9 717.9h1v1h-1zM182.5 711.1h1v1h-1zM179.9 705.9h1v1h-1zM183.1 699.9h1v1h-1zM181.5 692.1h1v1h-1zM187.5 703.6h1v1h-1zM187.2 703.5h1v1h-1zM185.3 715.6h1v1h-1zM185.9 692.4h1v1h-1zM187.2 719.1h1v1h-1zM198 705h1v1h-1zM195.2 716.5h1v1h-1zM181.5 694.9h1v1h-1zM189.1 708.1h1v1h-1zM183.4 716.8h1v1h-1zM185.1 705.7h1v1h-1zM184 689.9h1v1h-1zM181.1 701.3h1v1h-1zM175.4 710h1v1h-1zM172.2 690.6h1v1h-1zM187.4 690.1h1v1h-1zM195 707h1v1h-1zM178.9 695.1h1v1h-1zM189.8 711.4h1v1h-1zM182.9 692.8h1v1h-1zM188 686.2h1v1h-1zM179.6 696.8h1v1h-1zM184.1 719.6h1v1h-1zM185 695.9h1v1h-1zM172.2 704.5h1v1h-1zM187.5 707.1h1v1h-1zM184.8 695.1h1v1h-1zM172.2 715.5h1v1h-1zM190.9 706.4h1v1h-1zM185.6 709.1h1v1h-1zM187.4 687.8h1v1h-1zM188.6 687.1h1v1h-1zM182.6 677h1v1h-1zM177.5 702.7h1v1h-1zM182.4 702.3h1v1h-1zM182.5 711.9h1v1h-1zM203 719.5h1v1h-1zM200.1 702.1h1v1h-1zM182.1 701.9h1v1h-1zM182.6 709.1h1v1h-1zM188.3 719.9h1v1h-1zM190.2 696.4h1v1h-1zM180.5 710.9h1v1h-1zM178.1 702.2h1v1h-1zM200.8 701.3h1v1h-1zM194 712.8h1v1h-1zM173.8 696.7h1v1h-1zM172.2 693.9h1v1h-1zM179.4 711.3h1v1h-1zM187.5 704.4h1v1h-1zM190 702h1v1h-1zM183.1 703.3h1v1h-1zM173.3 709.6h1v1h-1zM187.5 700.9h1v1h-1zM190.5 712.3h1v1h-1zM185.8 708.8h1v1h-1zM181.9 719.5h1v1h-1zM190.2 717.3h1v1h-1zM185.3 713.2h1v1h-1zM177.1 702.6h1v1h-1zM186.5 705.8h1v1h-1zM175.7 698.7h1v1h-1zM193.3 726.8h1v1h-1zM189.4 702.4h1v1h-1zM178 710.2h1v1h-1zM187.4 718.3h1v1h-1zM195.5 691h1v1h-1zM172.2 696.4h1v1h-1zM184.7 700.7h1v1h-1zM198.6 694.7h1v1h-1zM173.7 692h1v1h-1zM184.5 699.5h1v1h-1zM174.7 717.6h1v1h-1zM185.2 711.9h1v1h-1zM172.2 705h1v1h-1zM173.1 705h1v1h-1zM181.6 688.1h1v1h-1zM186.8 711.6h1v1h-1zM188.7 708.9h1v1h-1zM189.1 693.8h1v1h-1zM194.7 706.7h1v1h-1zM191.2 702.8h1v1h-1zM191.5 699.5h1v1h-1zM178.1 694.8h1v1h-1zM184.5 697.9h1v1h-1zM210.6 695.3h1v1h-1zM203.5 709.3h1v1h-1zM192.2 708.3h1v1h-1zM191.5 707.9h1v1h-1zM193.5 702.9h1v1h-1zM182.6 700.6h1v1h-1zM201.1 725.1h1v1h-1zM182.8 686.1h1v1h-1zM185.1 716.7h1v1h-1zM202.8 708.2h1v1h-1zM172.2 705.4h1v1h-1zM188.6 699.6h1v1h-1zM172.2 702.5h1v1h-1zM180.6 692.8h1v1h-1zM185 690.8h1v1h-1zM183 703.6h1v1h-1zM187.1 688.1h1v1h-1zM179.7 713.1h1v1h-1zM184.9 715.9h1v1h-1zM176.4 670.3h1v1h-1zM182.7 689.2h1v1h-1zM174.8 707.4h1v1h-1zM190.9 706.8h1v1h-1zM175.6 705.8h1v1h-1zM191.2 708.9h1v1h-1zM182.5 712.2h1v1h-1zM183.4 713.4h1v1h-1zM195.1 722.6h1v1h-1zM186.6 705h1v1h-1zM172.2 713.4h1v1h-1zM189.7 688.5h1v1h-1zM172.2 703.4h1v1h-1zM187.9 692.5h1v1h-1zM182.6 718.7h1v1h-1zM174.7 726.8h1v1h-1zM186.4 710.2h1v1h-1zM183.3 691.7h1v1h-1zM201.6 703.6h1v1h-1zM182.3 705h1v1h-1zM201.1 706.7h1v1h-1zM196.7 715.6h1v1h-1zM180.9 714.3h1v1h-1zM179.3 678.3h1v1h-1zM196.2 718.4h1v1h-1zM184.7 699.8h1v1h-1zM187 699.2h1v1h-1zM183.7 718.9h1v1h-1zM176.2 702.1h1v1h-1zM182.8 691.1h1v1h-1zM178.2 691.5h1v1h-1zM173.6 705.3h1v1h-1zM183.4 713.8h1v1h-1zM199.9 719.8h1v1h-1zM198.6 703.1h1v1h-1zM185.3 700.1h1v1h-1zM186.8 721h1v1h-1zM189.8 700.2h1v1h-1zM196.6 719.3h1v1h-1zM188.3 707.1h1v1h-1zM182 707.1h1v1h-1zM182.7 702.4h1v1h-1zM194.8 707.7h1v1h-1zM206.5 700.1h1v1h-1zM180.8 698h1v1h-1zM172.2 703.4h1v1h-1zM192.2 698.3h1v1h-1zM185.2 707.8h1v1h-1zM186.9 705.6h1v1h-1zM195.6 702.1h1v1h-1zM186.3 702.8h1v1h-1zM175.2 702.5h1v1h-1zM172.2 722.2h1v1h-1zM185.4 704.7h1v1h-1zM176.5 698.8h1v1h-1zM188.1 701.8h1v1h-1zM175.6 711.4h1v1h-1zM183 702.8h1v1h-1zM174.1 703.3h1v1h-1zM182.9 702.2h1v1h-1zM182.2 706.4h1v1h-1zM190.5 708.7h1v1h-1zM196.5 709.2h1v1h-1zM184.3 688.4h1v1h-1zM178.9 694.1h1v1h-1zM201.4 678.5h1v1h-1zM188.7 712.8h1v1h-1zM190.6 715.8h1v1h-1zM190.6 717.8h1v1h-1zM197.4 706.2h1v1h-1zM193.8 716.2h1v1h-1zM191.2 704.4h1v1h-1zM191.9 703.6h1v1h-1zM178.9 689.4h1v1h-1zM180.9 696.9h1v1h-1zM184.9 698.8h1v1h-1zM186.5 713.9h1v1h-1zM185.9 721.3h1v1h-1zM188.3 700.1h1v1h-1zM186 708.5h1v1h-1zM182.4 707.5h1v1h-1zM172.8 697h1v1h-1zM192.5 687.6h1v1h-1zM190.5 697.2h1v1h-1zM178.8 690.4h1v1h-1zM189.8 701.6h1v1h-1zM188.9 703.3h1v1h-1zM186.4 702.9h1v1h-1zM172.2 703.1h1v1h-1zM176.2 709.6h1v1h-1zM181 695.4h1v1h-1zM198.7 713.6h1v1h-1zM178.9 688h1v1h-1zM183 705.4h1v1h-1zM176.9 708.6h1v1h-1zM181.9 696.8h1v1h-1zM188.5 688.8h1v1h-1zM172.2 711.1h1v1h-1zM172.2 698h1v1h-1zM191.1 712.5h1v1h-1zM237.9 686.2h1v1h-1zM235.9 685h1v1h-1zM235.9 671h1v1h-1zM238.4 682.9h1v1h-1zM236.9 697.6h1v1h-1zM233.6 680.3h1v1h-1zM236.4 689h1v1h-1zM237.3 681.7h1v1h-1zM236.4 676.5h1v1h-1zM236.4 675.5h1v1h-1zM235.6 680.2h1v1h-1zM235.6 695.3h1v1h-1zM233.6 691h1v1h-1zM232.4 677.4h1v1h-1zM238.7 692.6h1v1h-1zM234.3 682.6h1v1h-1zM236.5 677.6h1v1h-1zM232.2 687.6h1v1h-1zM236.3 675.6h1v1h-1zM233.9 669.7h1v1h-1zM243.3 695.3h1v1h-1zM233.4 667.5h1v1h-1zM233.5 688.6h1v1h-1zM238.3 670.2h1v1h-1zM238.8 683.5h1v1h-1zM230.7 682h1v1h-1zM236.6 679.8h1v1h-1zM238.1 664.3h1v1h-1zM232.9 682.8h1v1h-1zM237.6 683.4h1v1h-1zM234.6 675.8h1v1h-1zM233.4 683.1h1v1h-1zM235.1 692.6h1v1h-1zM234.8 677.4h1v1h-1zM232.5 686h1v1h-1zM241.5 673.5h1v1h-1zM234.8 687.2h1v1h-1zM234.1 689.4h1v1h-1zM238.1 705.8h1v1h-1zM235.7 691.8h1v1h-1zM239.2 687.6h1v1h-1zM235.3 696.3h1v1h-1zM236.8 674.9h1v1h-1zM236.2 693.3h1v1h-1zM236.3 678.9h1v1h-1zM235.4 678.3h1v1h-1zM235.7 693.5h1v1h-1zM240.1 685.9h1v1h-1zM234.2 695.6h1v1h-1zM234.6 670.9h1v1h-1zM235.1 686.2h1v1h-1zM237.3 679.1h1v1h-1zM236.9 681.4h1v1h-1zM238.2 666.9h1v1h-1zM232.6 692.1h1v1h-1zM236.6 685.7h1v1h-1zM235.5 675.1h1v1h-1zM235.2 671.9h1v1h-1zM236.3 676.1h1v1h-1zM231 696.2h1v1h-1zM233.4 721.1h1v1h-1zM232.3 716.2h1v1h-1zM236.3 715.9h1v1h-1zM234 726.8h1v1h-1zM235 715.4h1v1h-1zM237.6 724.6h1v1h-1zM235.5 719.5h1v1h-1zM238.2 725.7h1v1h-1zM228.1 716.4h1v1h-1zM234.2 721.5h1v1h-1zM232.2 720.7h1v1h-1zM234.5 718.2h1v1h-1zM233.7 720.6h1v1h-1zM230.8 715.8h1v1h-1zM232.2 718.8h1v1h-1zM238.6 717.4h1v1h-1zM231.2 722.6h1v1h-1zM227.8 718.8h1v1h-1zM236.9 713.1h1v1h-1zM238.7 717.6h1v1h-1zM232.6 718.8h1v1h-1zM234.6 715.2h1v1h-1zM229.8 725.1h1v1h-1zM233 721h1v1h-1zM239.4 722.9h1v1h-1zM237.9 715.8h1v1h-1zM234.7 717.4h1v1h-1zM232.6 723.7h1v1h-1zM226 712.9h1v1h-1zM235.5 720.8h1v1h-1zM236.2 719.6h1v1h-1zM239.1 717h1v1h-1zM243.9 719.6h1v1h-1zM235.8 714.5h1v1h-1zM238.7 720.2h1v1h-1zM228.5 713.8h1v1h-1zM239.9 713.6h1v1h-1zM238.2 725.4h1v1h-1zM240.7 716.1h1v1h-1zM237.3 709.9h1v1h-1zM236.2 723.5h1v1h-1zM241.2 715.8h1v1h-1zM230.8 703.6h1v1h-1zM237.2 718.9h1v1h-1zM239.3 723.3h1v1h-1zM230.2 720.8h1v1h-1zM228.4 726.8h1v1h-1zM236.1 718.7h1v1h-1zM234.6 721.9h1v1h-1zM237 714.8h1v1h-1zM237.2 719.9h1v1h-1zM230.3 726h1v1h-1zM235.7 721.4h1v1h-1zM239.5 719.9h1v1h-1zM232.3 710.5h1v1h-1zM232.7 717.5h1v1h-1zM228.5 713.5h1v1h-1zM238 722.6h1v1h-1zM243.6 715.9h1v1h-1zM227.4 720.8h1v1h-1zM237.8 714.8h1v1h-1zM238.5 726.8h1v1h-1zM231.3 714h1v1h-1zM232.2 719.8h1v1h-1zM229 726.8h1v1h-1zM230.2 720.2h1v1h-1zM234.9 715.3h1v1h-1zM237.2 721.9h1v1h-1zM234.6 723.6h1v1h-1zM238.2 723.1h1v1h-1zM235.1 710.5h1v1h-1zM228.4 720.2h1v1h-1zM241.2 709.8h1v1h-1zM239.9 726.8h1v1h-1zM230.6 719.5h1v1h-1zM242.7 717.2h1v1h-1zM236.4 722.2h1v1h-1zM234.7 721.4h1v1h-1zM243.4 714h1v1h-1zM221.9 726.4h1v1h-1zM226.3 718.1h1v1h-1zM237.6 711.4h1v1h-1zM232.9 725.4h1v1h-1zM229.5 726h1v1h-1zM241.5 724.8h1v1h-1zM236.5 721.7h1v1h-1zM227.9 715.3h1v1h-1zM230.9 723.4h1v1h-1zM238.2 726.8h1v1h-1zM242.8 722.8h1v1h-1zM224.4 726.3h1v1h-1zM235.3 715.8h1v1h-1zM232.3 723.8h1v1h-1zM225.6 723.4h1v1h-1zM233.3 712.6h1v1h-1zM226.3 712h1v1h-1zM231.5 716h1v1h-1zM242 719.6h1v1h-1zM236.6 721.2h1v1h-1zM237.9 718.2h1v1h-1zM237.1 718.9h1v1h-1zM235.9 718.7h1v1h-1zM238.9 719.6h1v1h-1zM228.5 721.8h1v1h-1zM232.4 721.4h1v1h-1zM238.3 719h1v1h-1zM230.6 720.4h1v1h-1zM232 717.2h1v1h-1zM240 722.8h1v1h-1zM241.6 717h1v1h-1zM231.2 726.6h1v1h-1zM230.2 719.1h1v1h-1zM237 720.5h1v1h-1zM235.5 715.8h1v1h-1zM230.9 717.7h1v1h-1zM237.1 720h1v1h-1zM236.9 719.3h1v1h-1zM234.6 716.5h1v1h-1zM248.5 714.1h1v1h-1zM240.8 719.4h1v1h-1zM238.2 719.9h1v1h-1zM239.2 721.7h1v1h-1zM248.6 724.8h1v1h-1zM239.6 717.8h1v1h-1zM230.7 710.3h1v1h-1zM235.8 718.6h1v1h-1zM234.6 711h1v1h-1zM231.4 713.5h1v1h-1zM235.5 723.8h1v1h-1zM235.4 721.8h1v1h-1zM233.9 716.4h1v1h-1zM231.8 716.4h1v1h-1zM238.3 718.8h1v1h-1zM226.4 711.4h1v1h-1zM238.2 721.4h1v1h-1zM234.3 717.7h1v1h-1zM235.5 726.8h1v1h-1zM222.6 714.5h1v1h-1zM242.4 723.7h1v1h-1zM225.8 716.2h1v1h-1zM230 723.8h1v1h-1zM237.4 714.9h1v1h-1zM231.2 722.5h1v1h-1zM232.2 717.3h1v1h-1zM223.3 715.6h1v1h-1zM232.1 718.6h1v1h-1zM235.3 721.4h1v1h-1zM237.5 721.1h1v1h-1zM232.8 726.3h1v1h-1zM235.3 722.9h1v1h-1zM229.8 712.6h1v1h-1zM207.5 718h1v1h-1zM246.9 704.5h1v1h-1zM234.1 704h1v1h-1zM252.1 726.8h1v1h-1zM238.6 724.3h1v1h-1zM256.4 724.8h1v1h-1zM199 716h1v1h-1zM241.6 714.1h1v1h-1zM238.3 703h1v1h-1zM250.2 706.7h1v1h-1zM212.7 703.1h1v1h-1zM237.2 714.9h1v1h-1zM215.9 712.2h1v1h-1zM248.6 704.8h1v1h-1zM203.3 702.8h1v1h-1zM208.6 716.1h1v1h-1zM261.3 704h1v1h-1zM247.4 700.4h1v1h-1zM214.9 706.3h1v1h-1zM218.9 722.5h1v1h-1zM227.1 718.4h1v1h-1zM213.6 714.5h1v1h-1zM207.4 706.3h1v1h-1zM263 713.1h1v1h-1zM212.2 700.3h1v1h-1zM248.1 709.1h1v1h-1zM246.1 713.4h1v1h-1zM247.3 702.6h1v1h-1zM218.3 716.2h1v1h-1zM212.9 712.4h1v1h-1zM239.3 701.5h1v1h-1zM264.7 704.1h1v1h-1zM224 713.7h1v1h-1zM212.6 725.1h1v1h-1zM232 701.6h1v1h-1zM210.7 715.7h1v1h-1zM221.2 708h1v1h-1zM247.3 710.9h1v1h-1zM214.2 725.8h1v1h-1z" fill="#666"/>
<path d="M181.3 717.1h1v1h-1zM178.6 713.8h1v1h-1zM183 717.9h1v1h-1zM173 722.5h1v1h-1zM172.5 720h1v1h-1zM184.3 721.4h1v1h-1zM182.9 715.6h1v1h-1zM175.7 719.4h1v1h-1zM180.1 722.5h1v1h-1zM175.2 712.8h1v1h-1zM193.7 704.9h1v1h-1zM172.2 726.1h1v1h-1zM191.8 718.1h1v1h-1zM176.6 710.9h1v1h-1zM184 715.6h1v1h-1zM179.9 712.3h1v1h-1zM179.2 702.1h1v1h-1zM187.1 712.7h1v1h-1zM186.4 704h1v1h-1zM179.8 715.4h1v1h-1zM176.1 713.2h1v1h-1zM194 721.9h1v1h-1zM189.9 713.2h1v1h-1zM182.4 716.6h1v1h-1zM179.7 711.9h1v1h-1zM183.3 711.3h1v1h-1zM182 704.2h1v1h-1zM188.7 720.9h1v1h-1zM175.7 715.2h1v1h-1zM181.7 709.9h1v1h-1zM176.8 715.5h1v1h-1zM189.4 711.1h1v1h-1zM192.4 708.9h1v1h-1zM181 715.7h1v1h-1zM184.8 722.5h1v1h-1zM190 712.1h1v1h-1zM179.7 704h1v1h-1zM175.9 709.7h1v1h-1zM187.8 726.6h1v1h-1zM184.6 708.3h1v1h-1zM180.3 722.3h1v1h-1zM190.3 712.3h1v1h-1zM183 719.2h1v1h-1zM172.2 713.3h1v1h-1zM183.6 703h1v1h-1zM181.2 711.1h1v1h-1zM192.8 726.8h1v1h-1zM181.4 713.1h1v1h-1zM180.3 718h1v1h-1zM184.2 711.6h1v1h-1zM183 713.1h1v1h-1zM173.1 716.3h1v1h-1zM182.3 717.3h1v1h-1zM179.6 726.8h1v1h-1zM190 713.9h1v1h-1zM196 712.7h1v1h-1zM174.8 709.4h1v1h-1zM175.8 704.8h1v1h-1zM176.5 702.7h1v1h-1zM177.6 718.6h1v1h-1zM177.4 701h1v1h-1zM181.9 723.9h1v1h-1zM188.1 720h1v1h-1zM173.7 711.9h1v1h-1zM172.3 705.9h1v1h-1zM172.2 714.2h1v1h-1zM188.2 714.2h1v1h-1zM189.5 721.9h1v1h-1zM172.3 708.8h1v1h-1zM172.2 711.4h1v1h-1zM182.3 713.6h1v1h-1zM188.1 712.1h1v1h-1zM187.6 709.6h1v1h-1zM182.7 702h1v1h-1zM185.7 702.5h1v1h-1zM183.5 709.3h1v1h-1zM178.2 712.4h1v1h-1zM193 721h1v1h-1zM181.6 726.8h1v1h-1zM174.9 726h1v1h-1zM178.8 716.8h1v1h-1zM172.3 726.8h1v1h-1zM181.7 713.2h1v1h-1zM188.1 710.3h1v1h-1zM174 726.8h1v1h-1zM188.3 706.6h1v1h-1zM194.1 711.1h1v1h-1zM183.8 712.2h1v1h-1zM174.6 724.2h1v1h-1zM176.4 709.9h1v1h-1zM179.6 719.5h1v1h-1zM173.9 711.2h1v1h-1zM174.1 705.5h1v1h-1zM180 715.7h1v1h-1zM180.5 715.2h1v1h-1zM185.2 705.9h1v1h-1zM174.4 708h1v1h-1zM192.8 708.5h1v1h-1zM187.9 720.8h1v1h-1zM186.9 717.3h1v1h-1zM177.7 715.7h1v1h-1zM192 717.5h1v1h-1zM179.5 710.7h1v1h-1zM192.5 717.4h1v1h-1zM188 709.8h1v1h-1zM176.2 704.7h1v1h-1zM178.8 709.1h1v1h-1zM192.8 715.5h1v1h-1zM187.6 714.7h1v1h-1zM180.6 721.4h1v1h-1zM182.8 702.2h1v1h-1zM182.8 712.5h1v1h-1zM176.9 716.8h1v1h-1zM180.4 707.3h1v1h-1zM177.6 715.8h1v1h-1zM179 711.2h1v1h-1zM184.4 706.1h1v1h-1zM175.8 721.9h1v1h-1zM185.9 704.3h1v1h-1zM182.2 721h1v1h-1zM186.2 711.1h1v1h-1zM186.9 707.5h1v1h-1zM189.1 707.9h1v1h-1zM185.3 708.9h1v1h-1zM185.8 708.1h1v1h-1zM180.5 715.9h1v1h-1zM185 701h1v1h-1zM176.2 722.7h1v1h-1zM180.1 719.9h1v1h-1zM186.1 723.8h1v1h-1zM181.3 707.2h1v1h-1zM184.3 697.8h1v1h-1zM175.2 709.7h1v1h-1zM189.8 712.9h1v1h-1zM178.1 716.2h1v1h-1zM183.9 710.4h1v1h-1zM181.4 713.5h1v1h-1zM187.2 715.1h1v1h-1zM179.3 703.2h1v1h-1zM175.6 726.7h1v1h-1zM172.2 706.2h1v1h-1zM179.7 715.9h1v1h-1zM174.4 721.6h1v1h-1zM184.8 708.6h1v1h-1zM190.2 714.1h1v1h-1zM172.2 725.5h1v1h-1zM173.8 712.1h1v1h-1zM183.4 721.4h1v1h-1zM189 716.1h1v1h-1zM183.4 715.7h1v1h-1zM183.5 719.1h1v1h-1zM184.6 712.5h1v1h-1zM185 712.6h1v1h-1zM191.5 720.8h1v1h-1zM185.3 715.9h1v1h-1zM174.1 717.6h1v1h-1zM178.7 705.7h1v1h-1zM182.8 714.2h1v1h-1zM176.7 722.6h1v1h-1zM180 720.4h1v1h-1zM178.4 716.5h1v1h-1zM177.3 710.5h1v1h-1zM185.7 709.8h1v1h-1zM179.2 717.2h1v1h-1zM175 724h1v1h-1zM177.3 714.4h1v1h-1zM181.8 723.2h1v1h-1zM194.3 712h1v1h-1zM183.1 722.5h1v1h-1zM190.5 707.1h1v1h-1zM184.5 715.4h1v1h-1zM172.2 706.6h1v1h-1zM183.9 718.7h1v1h-1zM176.4 718.1h1v1h-1zM173.4 707.5h1v1h-1zM175.1 708.9h1v1h-1zM192.4 711h1v1h-1zM172.2 703.7h1v1h-1zM177.8 707.6h1v1h-1zM188.6 708.1h1v1h-1zM185.6 719.6h1v1h-1zM172.2 723.8h1v1h-1zM180.9 711h1v1h-1zM178.4 712.1h1v1h-1zM180.4 715.6h1v1h-1zM186.1 710.5h1v1h-1zM178.1 712.2h1v1h-1zM179.6 720h1v1h-1zM190.4 715.7h1v1h-1zM172.2 713.5h1v1h-1zM179.3 710.1h1v1h-1zM184.4 724.4h1v1h-1zM174 709.8h1v1h-1zM177.7 715h1v1h-1zM173.6 706.9h1v1h-1zM182.5 709.9h1v1h-1zM177.8 714.8h1v1h-1zM186.3 711.3h1v1h-1zM187.7 717.8h1v1h-1zM181.8 714.6h1v1h-1zM179.3 704.4h1v1h-1zM183.1 698h1v1h-1zM181.9 721.1h1v1h-1zM174.2 710h1v1h-1zM188 724.4h1v1h-1zM182.9 714.2h1v1h-1zM186.3 708.8h1v1h-1zM173.3 718h1v1h-1zM186.8 712.2h1v1h-1zM194.3 714.2h1v1h-1zM185.3 707.6h1v1h-1zM172.8 718.6h1v1h-1zM181.8 721.8h1v1h-1zM181.2 710.4h1v1h-1zM182.9 726.6h1v1h-1zM180.1 710.1h1v1h-1zM184.5 715.8h1v1h-1zM178.7 702.7h1v1h-1zM182.9 700.7h1v1h-1zM177.4 726.8h1v1h-1zM182.1 724.1h1v1h-1zM187.6 722.1h1v1h-1zM178.6 702.2h1v1h-1zM185.6 715.7h1v1h-1zM176.2 717h1v1h-1zM179.3 714.6h1v1h-1zM180.1 716.2h1v1h-1zM189.1 707.7h1v1h-1zM176.9 713h1v1h-1zM188.9 706.1h1v1h-1zM172.7 711.6h1v1h-1zM180.6 716.7h1v1h-1zM187 708.6h1v1h-1zM185.7 712.2h1v1h-1zM175.4 711.1h1v1h-1zM174.1 714.2h1v1h-1zM186.8 720.5h1v1h-1zM173.9 715.7h1v1h-1zM185 716.8h1v1h-1zM178.4 704h1v1h-1zM181.4 711.5h1v1h-1zM195.5 719.8h1v1h-1zM190.9 708.1h1v1h-1zM186.6 711h1v1h-1zM173.2 707.3h1v1h-1zM183.4 723.4h1v1h-1zM181.8 710.9h1v1h-1zM180.9 709h1v1h-1zM189.6 718.4h1v1h-1zM172.2 721.8h1v1h-1zM183.4 717.5h1v1h-1zM182.3 720.9h1v1h-1zM176.9 715.5h1v1h-1zM192 713.2h1v1h-1zM173.8 711h1v1h-1zM181.7 710.5h1v1h-1zM182 709.9h1v1h-1zM172.2 716.6h1v1h-1zM172.8 713.3h1v1h-1zM175.6 714.7h1v1h-1zM186.3 718.3h1v1h-1zM187.2 713.7h1v1h-1zM185.1 704.5h1v1h-1zM182.9 708.5h1v1h-1zM172.2 706.2h1v1h-1zM182.8 700.7h1v1h-1zM178.4 714.8h1v1h-1zM188.6 705.7h1v1h-1zM189.7 705.1h1v1h-1zM195.1 706.5h1v1h-1zM185.8 720.2h1v1h-1zM186.4 711.9h1v1h-1zM175.2 721h1v1h-1zM182 713.4h1v1h-1zM174 711h1v1h-1zM186.9 718h1v1h-1zM174.2 718.2h1v1h-1zM180.2 714.8h1v1h-1zM176.5 706.8h1v1h-1zM178.6 710.8h1v1h-1zM184.2 705.8h1v1h-1zM178 712.2h1v1h-1zM182.8 714.7h1v1h-1zM175.4 724.4h1v1h-1zM190 723.9h1v1h-1zM177.5 718.8h1v1h-1zM187.6 720.7h1v1h-1zM194.5 715.6h1v1h-1zM172.2 726.8h1v1h-1zM175.4 724.7h1v1h-1zM180.2 726.8h1v1h-1zM188.6 716.7h1v1h-1zM178.5 716.9h1v1h-1zM183.8 721.4h1v1h-1zM177 715.3h1v1h-1zM184.9 716.2h1v1h-1zM174.1 707.1h1v1h-1zM186.5 720.6h1v1h-1zM172.2 715h1v1h-1zM172.2 719.7h1v1h-1zM192.5 712.5h1v1h-1zM182.5 701.6h1v1h-1zM176 717.5h1v1h-1zM194.9 722.2h1v1h-1zM187.8 705.1h1v1h-1zM188.3 707.2h1v1h-1zM178.9 711.9h1v1h-1zM185.2 712.3h1v1h-1zM184.5 702.1h1v1h-1zM172.2 726.3h1v1h-1zM185.1 721.1h1v1h-1zM180.3 709.7h1v1h-1zM189.3 701.3h1v1h-1zM189.4 716.5h1v1h-1zM177.5 726.8h1v1h-1zM177.7 719.8h1v1h-1zM182.6 722.1h1v1h-1zM185.4 707.4h1v1h-1zM178.9 715.6h1v1h-1zM180.7 703.5h1v1h-1zM185.2 726.8h1v1h-1zM184 718h1v1h-1zM188.5 699.3h1v1h-1zM182.9 701.1h1v1h-1zM176 717.4h1v1h-1zM172.2 715h1v1h-1zM186.4 711.8h1v1h-1zM179.4 718.3h1v1h-1zM179.3 726.8h1v1h-1zM179.6 716.6h1v1h-1zM172.2 701.4h1v1h-1zM179 712.9h1v1h-1zM172.2 704.8h1v1h-1zM178.9 708.4h1v1h-1zM175.9 716.3h1v1h-1zM192.7 712.8h1v1h-1zM184.2 706.5h1v1h-1zM180.1 713.8h1v1h-1zM182.4 708.3h1v1h-1zM185.9 717.7h1v1h-1zM176.8 712.3h1v1h-1zM180 716.7h1v1h-1zM179.2 712.1h1v1h-1zM196.7 719.2h1v1h-1zM181.8 713h1v1h-1zM172.2 713.9h1v1h-1zM186.3 710h1v1h-1zM197.3 714.9h1v1h-1zM175.5 701.5h1v1h-1zM202.8 726.8h1v1h-1zM181 709.2h1v1h-1zM187.6 714.6h1v1h-1zM177.9 710.6h1v1h-1zM179.7 710.5h1v1h-1zM173.8 716.7h1v1h-1zM174.9 710.4h1v1h-1zM172.2 710.9h1v1h-1zM188.4 704.3h1v1h-1zM174.3 707.5h1v1h-1zM183.7 705.7h1v1h-1zM183.4 726.5h1v1h-1zM177.4 704.6h1v1h-1zM181.7 706.4h1v1h-1zM180.8 715.3h1v1h-1zM178.3 723.9h1v1h-1zM181.7 702.1h1v1h-1zM181.7 703.1h1v1h-1zM175.1 714.8h1v1h-1zM173.4 716.3h1v1h-1zM176.1 704h1v1h-1zM182.1 701.3h1v1h-1zM189.9 707.2h1v1h-1zM190.5 719.1h1v1h-1zM183.3 713.6h1v1h-1zM187.2 719.1h1v1h-1zM182.1 713.1h1v1h-1zM188.2 713.7h1v1h-1zM182.2 718.2h1v1h-1zM183.8 713h1v1h-1zM179.6 715.5h1v1h-1zM181.3 707.5h1v1h-1zM193.1 709.7h1v1h-1zM173.9 717.2h1v1h-1zM181.4 712.2h1v1h-1zM177.7 708.6h1v1h-1zM187.3 718.5h1v1h-1zM192.6 717.7h1v1h-1zM179.4 713.8h1v1h-1zM172.2 708.5h1v1h-1zM185.2 720.1h1v1h-1zM185.2 726.8h1v1h-1zM172.2 708.1h1v1h-1zM179.8 703.1h1v1h-1zM180.9 708.4h1v1h-1zM172.2 707.3h1v1h-1zM185.5 705h1v1h-1zM184.1 705.6h1v1h-1zM182.8 719.8h1v1h-1zM174.8 719.9h1v1h-1zM176.9 724.2h1v1h-1zM177.4 719.1h1v1h-1zM184.3 710.5h1v1h-1zM175.2 721.4h1v1h-1zM190.4 709.6h1v1h-1zM183.7 711.4h1v1h-1zM172.2 705.6h1v1h-1zM191.8 722.4h1v1h-1zM182.3 720.9h1v1h-1zM177.9 710.6h1v1h-1zM182 711.7h1v1h-1zM172.2 714.1h1v1h-1zM182.5 715.2h1v1h-1zM172.2 719.7h1v1h-1zM174.9 714.3h1v1h-1zM189.7 716.6h1v1h-1zM189.2 703.3h1v1h-1zM179.2 711.7h1v1h-1zM175.3 701.3h1v1h-1zM187.1 726.3h1v1h-1zM181 723.6h1v1h-1zM182.6 718.8h1v1h-1zM185.2 721.6h1v1h-1zM174.6 726.8h1v1h-1zM186.2 720.4h1v1h-1zM172.2 702.7h1v1h-1zM190.4 712.4h1v1h-1zM172.2 697.3h1v1h-1zM177.4 708.1h1v1h-1zM177.1 705.1h1v1h-1zM185.8 713.7h1v1h-1zM185.9 716.5h1v1h-1zM183.5 707.3h1v1h-1zM184.7 711.8h1v1h-1zM184.2 715.7h1v1h-1zM180.8 712.7h1v1h-1zM172.2 712.5h1v1h-1zM172.2 696.9h1v1h-1zM172.2 710.7h1v1h-1zM181 719.3h1v1h-1zM179.8 715.6h1v1h-1zM180.4 703.4h1v1h-1zM182.6 711.9h1v1h-1zM179.8 715.6h1v1h-1zM175 706.9h1v1h-1zM172.2 718.5h1v1h-1zM172.2 708.1h1v1h-1zM188.8 711.4h1v1h-1zM186.9 713h1v1h-1zM172.8 726.8h1v1h-1zM179.5 711.5h1v1h-1zM184 709.8h1v1h-1zM191.2 718.8h1v1h-1zM177.5 710.4h1v1h-1zM182.3 715.1h1v1h-1zM188.5 698h1v1h-1zM172.2 715.8h1v1h-1zM176.6 713.6h1v1h-1zM181 704.7h1v1h-1zM176.7 723.2h1v1h-1zM194.4 712.1h1v1h-1zM186.6 712.4h1v1h-1zM182.4 704.5h1v1h-1zM175.2 702.4h1v1h-1zM186.6 709.8h1v1h-1zM185.2 703.1h1v1h-1zM178 717.2h1v1h-1zM178.5 719.8h1v1h-1zM172.2 709.3h1v1h-1zM180.7 702.5h1v1h-1zM186.6 711h1v1h-1zM187.5 706.3h1v1h-1zM184.8 714.9h1v1h-1zM186.4 715h1v1h-1zM177.5 710.7h1v1h-1zM178.2 714.2h1v1h-1zM188.7 721h1v1h-1zM184 725.7h1v1h-1zM176.2 710.1h1v1h-1zM184.3 718.8h1v1h-1zM186.4 712.1h1v1h-1zM185.6 706.3h1v1h-1zM181.8 722.7h1v1h-1zM177.9 716.5h1v1h-1zM183.7 714.7h1v1h-1zM191.8 716.2h1v1h-1zM182.1 712.6h1v1h-1zM177 706.3h1v1h-1zM183.3 726.1h1v1h-1zM173.4 720h1v1h-1zM182.6 715.6h1v1h-1zM179.3 720.5h1v1h-1zM187.2 722.7h1v1h-1zM181.8 712.3h1v1h-1zM187.7 717.8h1v1h-1zM195.5 711.4h1v1h-1zM179.8 718.2h1v1h-1zM175.9 711.9h1v1h-1zM184 726.8h1v1h-1zM180.6 711.2h1v1h-1zM182 717.3h1v1h-1zM177.4 717h1v1h-1zM184.6 711.4h1v1h-1zM181.6 720.3h1v1h-1zM172.2 713.1h1v1h-1zM179.7 710.8h1v1h-1zM183.2 713.7h1v1h-1zM188.5 708.5h1v1h-1zM177.5 722.1h1v1h-1zM176.1 718.1h1v1h-1zM188.3 720.6h1v1h-1zM177.3 704.3h1v1h-1zM181.8 715.6h1v1h-1zM184.1 708.3h1v1h-1zM185.7 714.3h1v1h-1zM181.2 722.6h1v1h-1zM174.2 715.5h1v1h-1zM187.4 712.5h1v1h-1zM178.4 721.5h1v1h-1zM177.9 720.8h1v1h-1zM193.7 726.6h1v1h-1zM186.6 700.7h1v1h-1zM174.5 716h1v1h-1zM178.1 710.8h1v1h-1zM179.6 707.6h1v1h-1zM176.5 714.5h1v1h-1zM172.2 705.6h1v1h-1zM186.1 698.1h1v1h-1zM186 707.4h1v1h-1zM182.6 711.9h1v1h-1zM178.6 726.8h1v1h-1zM182.4 708.7h1v1h-1zM185.1 705.5h1v1h-1zM174.6 699.9h1v1h-1zM179.1 711.2h1v1h-1zM177.6 712h1v1h-1zM185.5 714.7h1v1h-1zM182.7 703.6h1v1h-1zM173 708.4h1v1h-1zM177.3 697.8h1v1h-1zM192.1 714.9h1v1h-1zM175.1 702.7h1v1h-1zM182.1 694.5h1v1h-1zM177.2 721.8h1v1h-1zM188.9 717.2h1v1h-1zM180.7 716.2h1v1h-1zM178.4 716.2h1v1h-1zM173.8 706.5h1v1h-1zM179.6 721.2h1v1h-1zM186.3 706.4h1v1h-1zM185.3 726.8h1v1h-1zM172.9 715.3h1v1h-1zM190.8 700.8h1v1h-1zM179.6 719.8h1v1h-1zM174.5 726.8h1v1h-1zM181.9 711.9h1v1h-1zM177.2 721.2h1v1h-1zM177.5 712.2h1v1h-1zM177.2 709.3h1v1h-1zM180.5 695.6h1v1h-1zM178 722.4h1v1h-1zM172.2 710.6h1v1h-1zM184.3 716.4h1v1h-1zM177.8 705.8h1v1h-1zM188.5 707.4h1v1h-1zM184.4 721.5h1v1h-1zM184.9 711h1v1h-1zM182.2 710.9h1v1h-1zM189.1 704.9h1v1h-1zM179 715.2h1v1h-1zM174.9 719.2h1v1h-1zM183.2 710.5h1v1h-1zM172.2 712.4h1v1h-1zM178.8 705.2h1v1h-1zM182.4 723.6h1v1h-1zM178.5 709.4h1v1h-1zM188.9 712.6h1v1h-1zM185.4 725.5h1v1h-1zM181.8 712.1h1v1h-1zM178.6 702.9h1v1h-1zM187.9 707.2h1v1h-1zM176.9 711.2h1v1h-1zM178.5 726.2h1v1h-1zM185.7 715.3h1v1h-1zM184.8 712.2h1v1h-1zM193.7 719.6h1v1h-1zM179.7 722.9h1v1h-1zM172.2 708.4h1v1h-1zM185.1 723.8h1v1h-1zM188.8 719.8h1v1h-1zM180 716.9h1v1h-1zM190.7 697.1h1v1h-1zM192.1 715.2h1v1h-1zM176.9 723.6h1v1h-1zM178.1 711.9h1v1h-1zM173.3 726.8h1v1h-1zM184.4 714.3h1v1h-1zM185.5 706.6h1v1h-1zM184.8 718h1v1h-1zM173.4 715.9h1v1h-1zM176.3 719.7h1v1h-1zM172.2 712.2h1v1h-1zM172.2 723h1v1h-1zM172.7 709.9h1v1h-1zM172.2 714.7h1v1h-1zM179.9 705h1v1h-1zM183.7 708.2h1v1h-1zM184.9 715.2h1v1h-1zM180.9 709.2h1v1h-1zM176.9 710.6h1v1h-1zM181 712.4h1v1h-1zM184.5 715.6h1v1h-1zM179.2 719.2h1v1h-1zM181.3 719.2h1v1h-1zM179.1 721h1v1h-1zM177.8 715.3h1v1h-1zM181.2 710h1v1h-1zM174.1 702.6h1v1h-1zM187.5 711.4h1v1h-1zM172.2 708.2h1v1h-1zM183.9 701h1v1h-1zM172.6 725.5h1v1h-1zM190.3 700.8h1v1h-1zM186.4 716.4h1v1h-1zM176 717.8h1v1h-1zM178.2 712.2h1v1h-1zM174 726.8h1v1h-1zM180.6 714h1v1h-1zM183.5 708.4h1v1h-1zM196.8 726.3h1v1h-1zM172.6 708.2h1v1h-1zM188.7 703.7h1v1h-1zM177.4 706.7h1v1h-1zM182.7 709.3h1v1h-1zM186.4 714.2h1v1h-1zM184.4 716.2h1v1h-1zM183.6 703.1h1v1h-1zM179.8 716.3h1v1h-1zM180.9 726.8h1v1h-1zM181.9 708.8h1v1h-1zM188.4 712.9h1v1h-1zM172.2 718.8h1v1h-1zM178 722.4h1v1h-1zM173.3 709.1h1v1h-1zM175 707h1v1h-1zM176.1 706.7h1v1h-1zM187.8 721.6h1v1h-1zM194.2 720.2h1v1h-1zM189.4 698.5h1v1h-1zM173.7 698.7h1v1h-1zM181.5 705.1h1v1h-1zM174 703.2h1v1h-1zM183.7 716.7h1v1h-1zM188.8 715.4h1v1h-1zM184.6 726.8h1v1h-1zM186.4 719.5h1v1h-1zM180.1 714.7h1v1h-1zM172.2 722.2h1v1h-1zM172.2 707.5h1v1h-1zM180.4 703.9h1v1h-1zM184.5 714.1h1v1h-1zM188.8 720.5h1v1h-1zM178.9 702.3h1v1h-1zM181.5 720.2h1v1h-1zM182.6 720h1v1h-1zM187.6 710.3h1v1h-1zM180.6 715h1v1h-1zM174.2 711.9h1v1h-1zM187.7 714.4h1v1h-1zM183.5 719.6h1v1h-1zM183.4 708.1h1v1h-1zM173.2 721.2h1v1h-1zM181 720h1v1h-1zM172.2 720.3h1v1h-1zM172.2 699.8h1v1h-1zM179.5 700.6h1v1h-1zM178.3 718.8h1v1h-1zM184.5 709.7h1v1h-1zM189.9 708.9h1v1h-1zM180.8 708.4h1v1h-1zM192 704.3h1v1h-1zM177.4 711.8h1v1h-1zM185.7 708.7h1v1h-1zM173.2 709.2h1v1h-1zM181.8 717.2h1v1h-1zM179 705.4h1v1h-1zM179.7 721.8h1v1h-1zM184.6 698h1v1h-1zM172.2 726.8h1v1h-1zM181.7 704.2h1v1h-1zM176 718h1v1h-1zM181.7 720.3h1v1h-1zM183.4 713.8h1v1h-1zM178.7 719.1h1v1h-1zM178.7 713.1h1v1h-1zM173.9 701.3h1v1h-1zM184.4 716.3h1v1h-1zM176.9 722h1v1h-1zM183.7 709.9h1v1h-1zM172.2 701.8h1v1h-1zM189.4 709.6h1v1h-1zM174.7 716.2h1v1h-1zM188.1 716h1v1h-1zM178.2 721.7h1v1h-1zM184.4 717.8h1v1h-1zM180.1 717.5h1v1h-1zM185.2 699.6h1v1h-1zM181 726.8h1v1h-1zM188.8 714.2h1v1h-1zM185.1 720h1v1h-1zM185.2 711.4h1v1h-1zM191.3 712.8h1v1h-1zM176.7 714.3h1v1h-1zM189 725.1h1v1h-1zM181.4 724.7h1v1h-1zM172.2 718.3h1v1h-1zM183.9 726.8h1v1h-1zM179.7 711h1v1h-1zM191.4 717.6h1v1h-1zM178 710.6h1v1h-1zM181.3 723.1h1v1h-1zM182.4 714.1h1v1h-1zM172.2 720.9h1v1h-1zM184.1 726.2h1v1h-1zM174.9 699.1h1v1h-1zM189.7 726.8h1v1h-1zM191.3 716.2h1v1h-1zM180.9 711.6h1v1h-1zM172.2 700.2h1v1h-1zM182.1 711.7h1v1h-1zM182.1 697.5h1v1h-1zM185.4 714.5h1v1h-1zM179.2 712.7h1v1h-1zM173.7 726.8h1v1h-1zM180.1 711.6h1v1h-1zM175.3 721.6h1v1h-1zM191.9 722.2h1v1h-1zM176.6 726.8h1v1h-1zM177 712.1h1v1h-1zM180.7 719.4h1v1h-1zM173.4 703h1v1h-1zM178.3 706h1v1h-1zM180.2 712h1v1h-1zM178 713.8h1v1h-1zM179.5 705.2h1v1h-1zM188.6 711h1v1h-1zM183.7 718.9h1v1h-1zM172.8 710.7h1v1h-1zM178.4 712.8h1v1h-1zM185.6 707.6h1v1h-1zM177 723.8h1v1h-1zM181.5 726.7h1v1h-1zM180.8 715.4h1v1h-1zM184.3 713.1h1v1h-1zM179.9 725.9h1v1h-1zM180.1 717.4h1v1h-1zM175.7 709.1h1v1h-1zM183.2 704.3h1v1h-1zM175.3 709.7h1v1h-1zM191.7 726.8h1v1h-1zM180.9 709.7h1v1h-1zM179.6 726.8h1v1h-1zM185.8 713.9h1v1h-1zM180.5 712.4h1v1h-1zM181.5 723.5h1v1h-1zM180.7 712.2h1v1h-1zM176.5 716.7h1v1h-1zM175.3 706.5h1v1h-1zM176.7 705h1v1h-1zM188 708.7h1v1h-1zM177.1 715.6h1v1h-1zM178.5 709.2h1v1h-1zM178.2 699.9h1v1h-1zM185.3 717.4h1v1h-1zM193.2 712.8h1v1h-1zM175.3 712h1v1h-1zM184.4 709.6h1v1h-1zM181.7 697.8h1v1h-1zM179.1 725.4h1v1h-1zM184.1 710.5h1v1h-1zM173.2 717.8h1v1h-1zM186.1 724h1v1h-1zM182.4 722.1h1v1h-1zM174.9 715.4h1v1h-1zM190.8 714h1v1h-1zM186.2 716.2h1v1h-1zM188.1 720.5h1v1h-1zM172.2 718.1h1v1h-1zM179.3 710.8h1v1h-1zM177.8 717.2h1v1h-1zM184.8 716.7h1v1h-1zM189.3 719h1v1h-1zM172.2 715.5h1v1h-1zM181.1 723.8h1v1h-1zM180.2 715.4h1v1h-1zM187.1 720.4h1v1h-1zM180.8 714.3h1v1h-1zM173.2 709.9h1v1h-1zM179.8 707.2h1v1h-1zM174.6 712.8h1v1h-1zM176.2 717.8h1v1h-1zM181.3 723.1h1v1h-1zM178 713.3h1v1h-1zM182.7 710.3h1v1h-1zM172.2 710.3h1v1h-1zM195.2 723.3h1v1h-1zM188.7 714.8h1v1h-1zM185.4 710.4h1v1h-1zM173.1 719.3h1v1h-1zM172.2 704.5h1v1h-1zM175.7 714.8h1v1h-1zM179.6 713.7h1v1h-1zM194.7 713h1v1h-1zM189 705.7h1v1h-1zM177.8 721h1v1h-1zM188.4 726.1h1v1h-1zM188.5 704.5h1v1h-1zM181.1 714.9h1v1h-1zM188.5 718.6h1v1h-1zM183 726.8h1v1h-1zM177 711h1v1h-1zM173.8 707.2h1v1h-1zM180.2 714h1v1h-1zM187.1 726.8h1v1h-1zM172.7 714.5h1v1h-1zM172.2 715.9h1v1h-1zM184.4 726.7h1v1h-1zM172.2 698.7h1v1h-1zM192.2 698.4h1v1h-1zM178.3 720.5h1v1h-1zM185.5 719.6h1v1h-1zM192.4 704h1v1h-1zM172.2 717.7h1v1h-1zM174.6 714.3h1v1h-1zM194.8 715.6h1v1h-1zM179.3 708.2h1v1h-1zM180.2 710.7h1v1h-1zM182.4 707.7h1v1h-1zM187.5 714.4h1v1h-1zM189.1 712.3h1v1h-1zM181.7 726.1h1v1h-1zM178.9 718.5h1v1h-1zM180.8 702.7h1v1h-1zM182.9 717h1v1h-1zM189 724.3h1v1h-1zM181.8 716h1v1h-1zM192.2 721.8h1v1h-1zM175.7 713.8h1v1h-1zM184.3 719.1h1v1h-1zM191.8 707.3h1v1h-1zM188.9 719.6h1v1h-1zM183 704.1h1v1h-1zM175.6 723.3h1v1h-1zM176.6 703.1h1v1h-1zM180 698.8h1v1h-1zM182.9 717.8h1v1h-1zM179.5 712.8h1v1h-1zM172.2 714.8h1v1h-1zM176.5 717.1h1v1h-1zM184.2 713.8h1v1h-1zM186.1 707.6h1v1h-1zM172.4 715.5h1v1h-1zM178.8 716.5h1v1h-1zM172.2 717.5h1v1h-1zM177.5 726.8h1v1h-1zM202.7 708.7h1v1h-1zM181.4 714.5h1v1h-1zM178.9 718h1v1h-1zM177.4 710.8h1v1h-1zM173.6 705.4h1v1h-1zM172.2 709.9h1v1h-1zM180.7 721.6h1v1h-1zM179.3 712.1h1v1h-1zM190.1 718.4h1v1h-1zM172.2 708.7h1v1h-1zM183.7 717.2h1v1h-1zM189.2 709.1h1v1h-1zM172.2 708h1v1h-1zM185 714.8h1v1h-1zM172.2 714.4h1v1h-1zM184.2 724.6h1v1h-1zM190.1 702.3h1v1h-1zM181 717.7h1v1h-1zM182.8 725.6h1v1h-1zM176.7 723.8h1v1h-1zM182.8 711.2h1v1h-1zM187.9 709.1h1v1h-1zM179.9 710.4h1v1h-1zM180.1 716.2h1v1h-1zM183.4 715.4h1v1h-1zM186.1 716.5h1v1h-1zM172.2 718.3h1v1h-1zM181.4 706.3h1v1h-1zM176.8 705.9h1v1h-1zM184 705.2h1v1h-1zM187.4 704.4h1v1h-1zM182.9 713.3h1v1h-1zM188.9 716.2h1v1h-1zM174.9 726.8h1v1h-1zM178.5 717.8h1v1h-1zM174.9 714.1h1v1h-1zM181.4 724.2h1v1h-1zM181.6 708.7h1v1h-1zM179.8 716.4h1v1h-1zM173.6 721h1v1h-1zM180.5 719.6h1v1h-1zM178.3 716.9h1v1h-1zM184.7 711.5h1v1h-1zM179.3 705.1h1v1h-1zM188.1 712.9h1v1h-1zM182.4 709.7h1v1h-1zM172.2 718.9h1v1h-1zM179.9 713h1v1h-1zM172.2 718h1v1h-1zM186.9 702.4h1v1h-1zM189.8 721h1v1h-1zM180.8 707.9h1v1h-1zM183.7 702.8h1v1h-1zM172.2 704.1h1v1h-1zM172.2 709.5h1v1h-1zM177.6 722.1h1v1h-1zM179.4 719.1h1v1h-1zM172.2 705.6h1v1h-1zM181.6 714.6h1v1h-1zM182.9 713.2h1v1h-1zM185 702.7h1v1h-1zM190.5 706.9h1v1h-1zM186 699.4h1v1h-1zM178.8 707.8h1v1h-1zM181.7 695h1v1h-1zM184.7 708.3h1v1h-1zM174.6 707.3h1v1h-1zM189.2 708.3h1v1h-1zM186.5 708.1h1v1h-1zM179.6 722.3h1v1h-1zM177.1 711.5h1v1h-1zM204.4 715.7h1v1h-1zM186.2 719.4h1v1h-1zM186.8 720.5h1v1h-1zM192.1 718.9h1v1h-1zM187 710h1v1h-1zM182.3 706.1h1v1h-1zM185.3 708.4h1v1h-1zM175.4 710.6h1v1h-1zM185.4 714h1v1h-1zM172.2 713.4h1v1h-1zM183.6 721.9h1v1h-1zM184.5 713.3h1v1h-1zM172.2 726.8h1v1h-1zM192.8 721.4h1v1h-1zM174 710.5h1v1h-1zM187.5 720.2h1v1h-1zM177.8 693.4h1v1h-1zM183 723.9h1v1h-1zM177 716.9h1v1h-1zM196.4 716.8h1v1h-1zM187.4 701.9h1v1h-1zM192.2 726.8h1v1h-1zM185.9 712.2h1v1h-1zM185.4 713h1v1h-1zM182 722.1h1v1h-1zM179.6 712.6h1v1h-1zM184.8 707.9h1v1h-1zM182.1 718.7h1v1h-1zM180.2 706.7h1v1h-1zM172.6 719.3h1v1h-1zM179.2 715h1v1h-1zM184.8 722.1h1v1h-1zM178.2 705.3h1v1h-1zM183.3 722.9h1v1h-1zM180.2 716.1h1v1h-1zM174.8 726.8h1v1h-1zM175.6 709.3h1v1h-1zM176.6 726.8h1v1h-1zM179.3 719h1v1h-1zM179.5 719.6h1v1h-1zM188 708.8h1v1h-1zM174.5 718h1v1h-1zM172.2 718.8h1v1h-1zM185.4 708.1h1v1h-1zM178.3 705.7h1v1h-1zM180.4 708.5h1v1h-1zM196.8 724.5h1v1h-1zM190.2 715.1h1v1h-1zM184.8 720.7h1v1h-1zM187 716.1h1v1h-1zM181.9 714.8h1v1h-1zM187.1 715.6h1v1h-1zM177.4 711.1h1v1h-1zM176.8 722.7h1v1h-1zM178.3 715.2h1v1h-1zM190.9 715.6h1v1h-1zM190.7 704.1h1v1h-1zM177.4 716.2h1v1h-1zM188.3 709.2h1v1h-1zM180.2 710.4h1v1h-1zM187.8 721.4h1v1h-1zM179.2 706.2h1v1h-1zM187.1 712.6h1v1h-1zM180.5 718.5h1v1h-1zM179.4 722.2h1v1h-1zM181.1 710.3h1v1h-1zM182.2 716.3h1v1h-1zM177.6 716h1v1h-1zM172.8 705.9h1v1h-1zM191.6 698.7h1v1h-1zM178.8 700.2h1v1h-1zM172.2 718.3h1v1h-1zM172.2 714.7h1v1h-1zM172.2 704.4h1v1h-1zM177.4 709.4h1v1h-1zM189.6 711.1h1v1h-1zM172.2 711.4h1v1h-1zM179.2 713.8h1v1h-1zM172.2 726.8h1v1h-1zM188 708.4h1v1h-1zM183.5 715h1v1h-1zM183.2 708.5h1v1h-1zM189.5 709.5h1v1h-1zM191.4 707.7h1v1h-1zM187.6 712.3h1v1h-1zM177.7 710h1v1h-1zM173.1 716.5h1v1h-1zM174.8 715.5h1v1h-1zM172.2 707.6h1v1h-1zM192.4 726.8h1v1h-1zM180.1 705.6h1v1h-1zM182 716.5h1v1h-1zM182.4 726.8h1v1h-1zM193.7 708.9h1v1h-1zM177.8 723.5h1v1h-1zM188.5 724.1h1v1h-1zM183.1 716.4h1v1h-1zM180.3 700.8h1v1h-1zM172.2 724.2h1v1h-1zM186.9 714.7h1v1h-1zM176.7 710.1h1v1h-1zM178.4 723.1h1v1h-1zM182.6 708.8h1v1h-1zM181.8 721.6h1v1h-1zM188.2 710.1h1v1h-1zM177.1 717.8h1v1h-1zM182.3 706.3h1v1h-1zM183 711.2h1v1h-1zM181.4 707.4h1v1h-1zM185.5 708.9h1v1h-1zM179.7 715.3h1v1h-1zM188.7 712.8h1v1h-1zM176.9 715.3h1v1h-1zM172.4 723.2h1v1h-1zM181 713.2h1v1h-1zM188.5 700.7h1v1h-1zM178.1 711.9h1v1h-1zM177.4 714.6h1v1h-1zM179.1 721.3h1v1h-1zM182.3 721.4h1v1h-1zM180.2 720.8h1v1h-1zM183.2 712.4h1v1h-1zM172.2 718.6h1v1h-1zM190.5 703.7h1v1h-1zM184.9 723.2h1v1h-1zM175.9 717.1h1v1h-1zM189.7 717.6h1v1h-1zM184 711.3h1v1h-1zM190.3 714.4h1v1h-1zM174 709.2h1v1h-1zM191.5 718h1v1h-1zM181.5 704.5h1v1h-1zM172.2 720.9h1v1h-1zM185.9 717.9h1v1h-1zM179.4 726.8h1v1h-1zM175 713.7h1v1h-1zM179.9 713.3h1v1h-1zM172.2 715.4h1v1h-1zM184.9 714.3h1v1h-1zM179.9 713.2h1v1h-1zM179.6 706.1h1v1h-1zM190 706.1h1v1h-1zM181.5 709.9h1v1h-1zM177.2 711.9h1v1h-1zM175.4 705.5h1v1h-1zM180.9 705.7h1v1h-1zM187.8 712h1v1h-1zM177.7 719.3h1v1h-1zM174.8 712.6h1v1h-1zM187 718.8h1v1h-1zM181.6 720.9h1v1h-1zM181.1 719.5h1v1h-1zM194.1 711h1v1h-1zM173.8 711.1h1v1h-1zM182.5 700.7h1v1h-1zM172.2 709.1h1v1h-1zM179.4 717.3h1v1h-1zM184.9 706.2h1v1h-1zM188.2 723.7h1v1h-1zM173.4 724.2h1v1h-1zM186.4 711.4h1v1h-1zM186.1 720.6h1v1h-1zM180.5 703.9h1v1h-1zM196.5 706.5h1v1h-1zM181.3 711.3h1v1h-1zM175.8 714.1h1v1h-1zM183.9 712.7h1v1h-1zM172.2 707.8h1v1h-1zM190.9 726.8h1v1h-1zM187.4 716.1h1v1h-1zM178.8 716h1v1h-1zM185 718.9h1v1h-1zM184.6 715.3h1v1h-1zM193.2 712.3h1v1h-1zM177.4 710h1v1h-1zM173.3 702.3h1v1h-1zM172.2 724.7h1v1h-1zM179.4 707.4h1v1h-1zM172.2 702.1h1v1h-1zM180.2 708.2h1v1h-1zM183.8 702.5h1v1h-1zM178.5 726.8h1v1h-1zM175.4 716.6h1v1h-1zM188.6 724.1h1v1h-1zM180 724.4h1v1h-1zM182.7 718.1h1v1h-1zM187.1 718.1h1v1h-1zM173.2 708.8h1v1h-1zM175.6 713.4h1v1h-1zM196.7 709.7h1v1h-1zM180.3 714.3h1v1h-1zM174.8 709h1v1h-1zM179.7 723.1h1v1h-1zM177.7 719.5h1v1h-1zM173.7 713.2h1v1h-1zM178.7 702.1h1v1h-1zM181.1 718.9h1v1h-1zM181.2 720.3h1v1h-1zM184.6 713.5h1v1h-1zM172.2 705h1v1h-1zM172.2 717.1h1v1h-1zM186.1 721.5h1v1h-1zM178.5 700.3h1v1h-1zM188.8 718h1v1h-1zM183.1 701h1v1h-1zM172.5 714.6h1v1h-1zM184.6 726.5h1v1h-1zM175 714.7h1v1h-1zM182.9 717.4h1v1h-1zM188.8 711.7h1v1h-1zM194.3 714h1v1h-1zM180.8 726.8h1v1h-1zM185.6 723.5h1v1h-1zM183.1 711.8h1v1h-1zM186.1 711.3h1v1h-1zM172.2 714.1h1v1h-1zM178.8 726.8h1v1h-1zM183 715.5h1v1h-1zM184.1 721.9h1v1h-1zM176.6 711.4h1v1h-1zM186.3 704.9h1v1h-1zM188.1 723.4h1v1h-1zM181.7 713.5h1v1h-1zM179.8 708.4h1v1h-1zM179 709.1h1v1h-1zM182.1 709.2h1v1h-1zM188.5 709.7h1v1h-1zM190.5 703h1v1h-1zM178.3 722.6h1v1h-1zM175.5 716.7h1v1h-1zM176.4 721h1v1h-1zM187.3 711.5h1v1h-1zM182.6 716.5h1v1h-1zM183.1 715.2h1v1h-1zM184.2 722.4h1v1h-1zM183.6 719.8h1v1h-1zM180.5 716.6h1v1h-1zM174.8 709.4h1v1h-1zM177.4 705.4h1v1h-1zM182 708.3h1v1h-1zM183.7 709.5h1v1h-1zM179 710.2h1v1h-1zM178.7 705.2h1v1h-1zM189.7 725.8h1v1h-1zM178.4 715.9h1v1h-1zM182.6 699.6h1v1h-1zM179.3 706.2h1v1h-1zM176 704.5h1v1h-1zM172.2 715.7h1v1h-1zM177.9 721.6h1v1h-1zM176.2 707h1v1h-1zM186.5 718.4h1v1h-1zM174.2 712h1v1h-1zM178.7 722.2h1v1h-1zM185.3 723.7h1v1h-1zM180.6 716.2h1v1h-1zM184.3 719.1h1v1h-1zM186.4 714h1v1h-1zM172.2 711.3h1v1h-1zM178.7 705.7h1v1h-1zM175.3 716.3h1v1h-1zM189.5 713.5h1v1h-1zM180.5 711.3h1v1h-1zM184.3 713.5h1v1h-1zM191.7 712.7h1v1h-1zM179.1 706.6h1v1h-1zM181.7 710.2h1v1h-1zM183.8 722.1h1v1h-1zM179.6 712.3h1v1h-1zM188.9 723.9h1v1h-1zM186.3 705.8h1v1h-1zM187.4 704.4h1v1h-1zM181.5 714.9h1v1h-1zM179.1 719.5h1v1h-1zM179.1 709.3h1v1h-1zM179 718.4h1v1h-1zM172.2 720.6h1v1h-1zM183.5 721.6h1v1h-1zM186.2 713.2h1v1h-1zM181.2 713.6h1v1h-1zM178.2 702.3h1v1h-1zM181.5 714.2h1v1h-1zM182.6 716h1v1h-1zM183.2 724h1v1h-1zM192.2 705h1v1h-1zM176 708h1v1h-1zM183.5 706.9h1v1h-1zM185.5 720.4h1v1h-1zM181.7 696.1h1v1h-1zM179.8 706.3h1v1h-1zM175 726.8h1v1h-1zM177.6 718.7h1v1h-1zM185.5 704.6h1v1h-1zM190.1 713.6h1v1h-1zM177.2 720h1v1h-1zM184.1 717.9h1v1h-1zM184.4 712.4h1v1h-1zM187.4 708.4h1v1h-1zM182.7 719.9h1v1h-1zM183.9 714h1v1h-1zM186.7 719.7h1v1h-1zM174.1 716.8h1v1h-1zM181.5 710.7h1v1h-1zM172.2 724.2h1v1h-1zM172.2 710.5h1v1h-1zM176.2 717h1v1h-1zM172.2 709.5h1v1h-1zM184.3 712.4h1v1h-1zM187.3 712.2h1v1h-1zM179.4 709.3h1v1h-1zM180.4 715.7h1v1h-1zM179.8 723.3h1v1h-1zM179.6 726.8h1v1h-1zM182 724.2h1v1h-1zM183.4 712.8h1v1h-1zM178.4 724.3h1v1h-1zM176.4 717h1v1h-1zM178.1 726.7h1v1h-1zM186.1 705.1h1v1h-1zM178.7 724.5h1v1h-1zM190 709.8h1v1h-1zM179.8 722.2h1v1h-1zM189.5 710.7h1v1h-1zM174 720.4h1v1h-1zM177 712h1v1h-1zM184.1 700.7h1v1h-1zM184.2 707.2h1v1h-1zM180.3 712.3h1v1h-1zM193.6 714.2h1v1h-1zM181.6 698.2h1v1h-1zM183 705.5h1v1h-1zM177.8 708.8h1v1h-1zM191.2 712.5h1v1h-1zM186.4 715.6h1v1h-1zM183.7 708.2h1v1h-1zM172.2 703.3h1v1h-1zM183.4 716.1h1v1h-1zM178.4 711.7h1v1h-1zM183.6 720.3h1v1h-1zM186.7 710.3h1v1h-1zM176.7 718.6h1v1h-1zM182.5 707.7h1v1h-1zM186.5 715.9h1v1h-1zM182.2 714.6h1v1h-1zM179.2 717.2h1v1h-1zM174.8 707.4h1v1h-1zM177.2 713.1h1v1h-1zM173.5 708h1v1h-1zM187.2 712.9h1v1h-1zM181.8 718.4h1v1h-1zM173.9 726.8h1v1h-1zM181.2 714.2h1v1h-1zM173.4 719h1v1h-1zM172.2 714.8h1v1h-1zM188.5 722h1v1h-1zM188.3 717.3h1v1h-1zM172.3 721.4h1v1h-1zM176.9 716.5h1v1h-1zM182.4 726.8h1v1h-1zM178.9 723.7h1v1h-1zM176 702h1v1h-1zM178.1 716.1h1v1h-1zM179.7 714.6h1v1h-1zM177.9 698.5h1v1h-1zM182.5 708h1v1h-1zM179.8 710.8h1v1h-1zM176.6 708.8h1v1h-1zM181.3 714.9h1v1h-1zM172.2 701.4h1v1h-1zM189.9 719.3h1v1h-1zM172.2 719.5h1v1h-1zM180.7 716.5h1v1h-1zM183.2 711.7h1v1h-1zM183.7 714.1h1v1h-1zM182.7 710.8h1v1h-1zM188.8 722.1h1v1h-1zM174.4 717.6h1v1h-1zM180.8 726.8h1v1h-1zM182.1 711.4h1v1h-1zM178.2 724.2h1v1h-1zM177.6 710h1v1h-1zM188.9 712.8h1v1h-1zM176.9 706.7h1v1h-1zM178.3 717.7h1v1h-1zM179.5 713.6h1v1h-1zM179.9 718.4h1v1h-1zM182.1 724.5h1v1h-1zM179.9 713.6h1v1h-1zM183.4 716.7h1v1h-1zM182 720.4h1v1h-1zM184 713.6h1v1h-1zM189.4 710.2h1v1h-1zM176.1 716.6h1v1h-1zM191.1 717.6h1v1h-1zM178.5 719.5h1v1h-1zM185.1 719.9h1v1h-1zM182.1 709.3h1v1h-1zM179.4 717.2h1v1h-1zM172.2 722.7h1v1h-1zM190.8 710.8h1v1h-1zM176.6 716.6h1v1h-1zM176.4 709.7h1v1h-1zM187.5 715.2h1v1h-1zM181.6 726.2h1v1h-1zM192.5 715.3h1v1h-1zM191.2 707.3h1v1h-1zM185.4 716.5h1v1h-1zM182.7 715.6h1v1h-1zM185.7 721.9h1v1h-1zM173.3 704.4h1v1h-1zM182.2 707.6h1v1h-1zM182 713.5h1v1h-1zM178.3 703.1h1v1h-1zM182.7 722h1v1h-1zM172.4 699.8h1v1h-1zM186.5 708.2h1v1h-1zM188.8 703.7h1v1h-1zM173.4 709.4h1v1h-1zM182 719.7h1v1h-1zM190.4 718.3h1v1h-1zM183.6 720.6h1v1h-1zM175 718.3h1v1h-1zM175.2 699.8h1v1h-1zM186.2 716.2h1v1h-1zM192.1 701.1h1v1h-1zM174.6 710.5h1v1h-1zM181.4 711.3h1v1h-1zM176.5 710.2h1v1h-1zM179.4 717.5h1v1h-1zM183 708.4h1v1h-1zM180.9 726.2h1v1h-1zM177 718.3h1v1h-1zM193.7 722.3h1v1h-1zM180.2 719.4h1v1h-1zM180 720.3h1v1h-1zM187.7 713.8h1v1h-1zM181.2 726.8h1v1h-1zM179.9 706.7h1v1h-1zM186.8 717.3h1v1h-1zM175 714.1h1v1h-1zM185.6 712.5h1v1h-1zM187.3 716.3h1v1h-1zM185.1 708.8h1v1h-1zM180.1 720.2h1v1h-1zM181.1 719.6h1v1h-1zM172.2 714.7h1v1h-1zM180.3 719.2h1v1h-1zM182.8 706.8h1v1h-1zM186.3 701.4h1v1h-1zM182 710h1v1h-1zM178.8 712.4h1v1h-1zM176.1 726.8h1v1h-1zM180.8 712.5h1v1h-1zM181.9 721.3h1v1h-1zM188.3 720h1v1h-1zM181.2 726.8h1v1h-1zM178.1 714.9h1v1h-1zM180.5 718.6h1v1h-1zM178.2 712.7h1v1h-1zM179.7 708h1v1h-1zM172.2 707h1v1h-1zM172.2 708.6h1v1h-1zM174 724.1h1v1h-1zM183.9 716.1h1v1h-1zM180.6 713h1v1h-1zM182 714.2h1v1h-1zM188 710.1h1v1h-1zM174.9 713.8h1v1h-1zM187.9 713.8h1v1h-1zM183.4 718.6h1v1h-1zM176.9 720.5h1v1h-1zM189.9 702.6h1v1h-1zM172.6 715.7h1v1h-1zM174.4 723.7h1v1h-1zM179.9 706.9h1v1h-1zM183.5 712.3h1v1h-1zM180 715.2h1v1h-1zM172.2 721.8h1v1h-1zM179.3 718.2h1v1h-1zM180.6 712.5h1v1h-1zM196.2 717.6h1v1h-1zM189.3 721.3h1v1h-1zM181.8 716.8h1v1h-1zM174.6 726.8h1v1h-1zM183.1 717h1v1h-1zM174.2 706.7h1v1h-1zM182.3 708.6h1v1h-1zM183.3 713.1h1v1h-1zM178.7 712.6h1v1h-1zM182.6 718.4h1v1h-1zM179.1 716.6h1v1h-1zM177.7 726.1h1v1h-1zM190.2 719.8h1v1h-1zM184.5 724.5h1v1h-1zM179.3 708.7h1v1h-1zM176.6 711.1h1v1h-1zM182.1 718.9h1v1h-1zM184.5 714.7h1v1h-1zM186.1 718.5h1v1h-1zM189.8 715.8h1v1h-1zM183.8 709.7h1v1h-1zM174.5 726h1v1h-1zM193.1 722.1h1v1h-1zM188 703.2h1v1h-1zM186 709.8h1v1h-1zM189 714.3h1v1h-1zM172.3 718.9h1v1h-1zM178.9 713.6h1v1h-1zM178.1 704.6h1v1h-1zM188.1 719.9h1v1h-1zM174.1 712.7h1v1h-1zM179.2 722.5h1v1h-1zM190.1 716.2h1v1h-1zM184.9 721.1h1v1h-1zM178.8 720h1v1h-1zM192.2 720.3h1v1h-1zM173.2 710.6h1v1h-1zM183.8 721.3h1v1h-1zM179.7 715.6h1v1h-1zM184.1 705.4h1v1h-1zM179.5 711.4h1v1h-1zM176.1 711.8h1v1h-1zM182.3 717.4h1v1h-1zM173.3 718.9h1v1h-1zM184.2 706.3h1v1h-1zM179.2 719.2h1v1h-1zM186.5 713.7h1v1h-1zM178.4 706.8h1v1h-1zM177.1 720h1v1h-1zM183.4 708.8h1v1h-1zM188.4 705.8h1v1h-1zM172.2 719.4h1v1h-1zM181.8 720.4h1v1h-1zM184.8 709.5h1v1h-1zM172.7 721.5h1v1h-1zM175.9 721.2h1v1h-1zM184.9 710.5h1v1h-1zM176.2 726.8h1v1h-1zM177.3 713.8h1v1h-1zM191.2 715.7h1v1h-1zM175.5 697.5h1v1h-1zM176 718.6h1v1h-1zM172.2 709.8h1v1h-1zM174.6 717.3h1v1h-1zM173.8 702.2h1v1h-1zM191.2 722.3h1v1h-1zM188.3 724.4h1v1h-1zM173.6 726.8h1v1h-1zM192.7 693.6h1v1h-1zM185.6 718.3h1v1h-1zM180 716.6h1v1h-1zM185.8 693.1h1v1h-1zM183.3 709.1h1v1h-1zM176.5 713.6h1v1h-1zM172.2 724.2h1v1h-1zM175.7 708.4h1v1h-1zM181 715.7h1v1h-1zM178.9 713.8h1v1h-1zM176.7 716.8h1v1h-1zM186.8 711.5h1v1h-1zM174.8 720.5h1v1h-1zM186.3 721h1v1h-1zM178.2 704.7h1v1h-1zM181.7 722.1h1v1h-1zM174.4 709h1v1h-1zM181 712.3h1v1h-1zM176.4 722.1h1v1h-1zM172.2 715h1v1h-1zM180.9 718.3h1v1h-1zM180.7 719.8h1v1h-1zM186 718.5h1v1h-1zM182.7 710.5h1v1h-1zM175 707.6h1v1h-1zM177.4 719.1h1v1h-1zM172.2 719.6h1v1h-1zM174.4 716.8h1v1h-1zM188.7 713h1v1h-1zM190 720.3h1v1h-1zM185.6 714.1h1v1h-1zM182.8 704.8h1v1h-1zM184.5 716.3h1v1h-1zM183.9 717.9h1v1h-1zM172.2 719.7h1v1h-1zM175.9 708.1h1v1h-1zM188.1 709.1h1v1h-1zM188 716.7h1v1h-1zM182.5 711.2h1v1h-1zM179.2 713.9h1v1h-1zM178.8 720.9h1v1h-1zM177.8 717.1h1v1h-1zM175.6 726.8h1v1h-1zM172.2 716.4h1v1h-1zM181.9 726.3h1v1h-1zM178.4 721.8h1v1h-1zM179.8 726.8h1v1h-1zM191.2 714.5h1v1h-1zM184.5 713.8h1v1h-1zM176.9 723.6h1v1h-1zM184.5 710.9h1v1h-1zM172.2 711.2h1v1h-1zM187.3 716.2h1v1h-1zM182.6 717.1h1v1h-1zM179.9 704.7h1v1h-1zM184.4 716.3h1v1h-1zM189.7 712.4h1v1h-1zM178.3 714.3h1v1h-1zM175.2 715.8h1v1h-1zM193.6 713.2h1v1h-1zM181.1 722h1v1h-1zM189.9 718h1v1h-1zM177 713.3h1v1h-1zM183.3 715.1h1v1h-1zM177.2 721.8h1v1h-1zM184.8 720.1h1v1h-1zM179.4 723.4h1v1h-1zM177.1 713.7h1v1h-1zM190.2 715.6h1v1h-1zM183 726.8h1v1h-1zM172.2 714.4h1v1h-1zM179.6 726.4h1v1h-1zM175.6 720.5h1v1h-1zM173.8 711.7h1v1h-1zM177.6 704.9h1v1h-1zM178.2 719.1h1v1h-1zM181.2 709.8h1v1h-1zM176.3 709.8h1v1h-1zM172.2 702.7h1v1h-1zM177.8 723h1v1h-1zM186.2 715.4h1v1h-1zM172.9 714.9h1v1h-1zM184.7 717.5h1v1h-1zM183.7 716.4h1v1h-1zM178.4 715.4h1v1h-1zM182.9 718.3h1v1h-1zM176.6 712.8h1v1h-1zM178.6 696.8h1v1h-1zM174.9 719.9h1v1h-1zM183.8 717.7h1v1h-1zM189.2 714.9h1v1h-1zM177 725.8h1v1h-1zM188.1 705h1v1h-1zM172.2 694.6h1v1h-1zM175.7 725.1h1v1h-1zM175 717.6h1v1h-1zM191.3 703.3h1v1h-1zM177.5 711.9h1v1h-1zM185.7 719h1v1h-1zM172.2 706.3h1v1h-1zM181.7 718.6h1v1h-1zM184.4 726.8h1v1h-1zM180.8 724.4h1v1h-1zM172.2 714.5h1v1h-1zM182.1 717h1v1h-1zM185.8 708.1h1v1h-1zM188.9 715.7h1v1h-1zM183.4 712.4h1v1h-1zM172.2 707.8h1v1h-1zM179.8 705.4h1v1h-1zM186.4 726.8h1v1h-1zM176.1 715.3h1v1h-1zM184.4 707.6h1v1h-1zM178.1 711.8h1v1h-1zM181.6 725.1h1v1h-1zM185.5 726h1v1h-1zM176.8 710.5h1v1h-1zM198.1 716.1h1v1h-1zM181.9 720.9h1v1h-1zM183.1 712.3h1v1h-1zM176.6 706.6h1v1h-1zM181.4 708h1v1h-1zM179.4 714.8h1v1h-1zM172.3 709.4h1v1h-1zM172.2 705.7h1v1h-1zM182.7 713.1h1v1h-1zM180.5 721.2h1v1h-1zM172.2 719.5h1v1h-1zM172.2 713.1h1v1h-1zM179.2 726.8h1v1h-1zM180.6 709.3h1v1h-1zM184.6 714.2h1v1h-1zM173.6 705.2h1v1h-1zM184.5 720.1h1v1h-1zM179.2 713.8h1v1h-1zM178 703h1v1h-1zM180.2 709h1v1h-1zM186.9 726.8h1v1h-1zM184.3 719.7h1v1h-1zM186.3 715.5h1v1h-1zM176.9 720.7h1v1h-1zM179.3 703.6h1v1h-1zM174 709h1v1h-1zM177.7 705.5h1v1h-1zM178.6 708.9h1v1h-1zM178.2 712h1v1h-1zM185.3 718.4h1v1h-1zM183.6 721.7h1v1h-1zM185.6 721.5h1v1h-1zM181.8 726.8h1v1h-1zM187.4 711.3h1v1h-1zM181.7 714.5h1v1h-1zM186.8 718.2h1v1h-1zM184 708.9h1v1h-1zM185.4 712.7h1v1h-1zM180.6 717.5h1v1h-1zM173.6 708.5h1v1h-1zM172.3 717.9h1v1h-1zM192.7 723.2h1v1h-1zM183.3 706.9h1v1h-1zM183.7 698.8h1v1h-1zM180 715.2h1v1h-1zM178.2 707.4h1v1h-1zM198.2 715.9h1v1h-1zM174.3 711.5h1v1h-1zM180.6 716.8h1v1h-1zM180.7 722.5h1v1h-1zM174.2 720.3h1v1h-1zM173.4 712.1h1v1h-1zM176.8 706.5h1v1h-1zM178.9 697.4h1v1h-1zM178.1 699.5h1v1h-1zM185.9 709.1h1v1h-1zM173.9 715.3h1v1h-1zM183.4 709.9h1v1h-1zM189.8 710.4h1v1h-1zM186.4 703.4h1v1h-1zM174.2 703.1h1v1h-1zM172.2 702.5h1v1h-1zM186.1 718.8h1v1h-1zM184 700.7h1v1h-1zM177.5 719.1h1v1h-1zM188.7 708.1h1v1h-1zM178.6 718.1h1v1h-1zM181.6 716h1v1h-1zM174.8 719.6h1v1h-1zM182.9 722.6h1v1h-1zM178.4 708.9h1v1h-1zM178 707.5h1v1h-1zM187.5 711.2h1v1h-1zM182.3 708.9h1v1h-1zM172.2 718.8h1v1h-1zM185.1 713.4h1v1h-1zM186 714.2h1v1h-1zM176 717h1v1h-1zM178.6 710.8h1v1h-1zM181.3 721.8h1v1h-1zM179.5 701.3h1v1h-1zM181.7 715.7h1v1h-1zM184.9 717.6h1v1h-1zM178 708.7h1v1h-1zM193.5 709.3h1v1h-1zM176.7 720.4h1v1h-1zM177.8 711.8h1v1h-1zM192.8 700.7h1v1h-1zM195.3 704.7h1v1h-1zM181.2 721.1h1v1h-1zM179.9 707.9h1v1h-1zM174.6 723.2h1v1h-1zM187.9 723.6h1v1h-1zM182 712.6h1v1h-1zM175.9 717.8h1v1h-1zM183.4 708.3h1v1h-1zM189.2 711.2h1v1h-1zM185.1 709.1h1v1h-1zM194.2 718.1h1v1h-1zM188 705.1h1v1h-1zM233.6 717.2h1v1h-1zM234.2 724.9h1v1h-1zM235.6 723h1v1h-1zM227.2 721.4h1v1h-1zM228.3 719.4h1v1h-1zM231.2 721.7h1v1h-1zM233.3 717.1h1v1h-1zM234.4 726.8h1v1h-1zM234.6 715.2h1v1h-1zM240.4 712.9h1v1h-1zM236.1 720h1v1h-1zM235.8 724.7h1v1h-1zM232.4 717.6h1v1h-1zM236.5 719.2h1v1h-1zM236.2 715.7h1v1h-1zM236.1 719.2h1v1h-1zM233.6 715.7h1v1h-1zM236 715.8h1v1h-1zM238.8 714.1h1v1h-1zM231.4 717.4h1v1h-1zM227.1 726.2h1v1h-1zM236.6 719.2h1v1h-1zM236.3 720.1h1v1h-1zM233.2 726.8h1v1h-1zM232.5 717.1h1v1h-1zM242.7 715.8h1v1h-1zM232.5 721.3h1v1h-1zM230.1 714.9h1v1h-1zM232.4 720.6h1v1h-1zM235.6 723.6h1v1h-1zM232 715.5h1v1h-1zM232.7 717.5h1v1h-1zM234.9 725.6h1v1h-1zM232.6 715.6h1v1h-1zM234.4 716.9h1v1h-1zM233.8 720.3h1v1h-1zM230.6 718.3h1v1h-1zM234.2 716.3h1v1h-1zM230.3 725.3h1v1h-1zM236.9 717.3h1v1h-1zM231 720.6h1v1h-1zM233.2 717.9h1v1h-1zM228.2 718.6h1v1h-1zM232.5 714.4h1v1h-1zM230 722.8h1v1h-1zM238.7 717.9h1v1h-1zM233.6 724.1h1v1h-1zM235.6 715.2h1v1h-1zM228.4 717.7h1v1h-1zM230 721.2h1v1h-1zM233.4 719.8h1v1h-1zM229.6 717h1v1h-1zM237.6 718.9h1v1h-1zM232.7 714.7h1v1h-1zM234.4 719.6h1v1h-1zM234.9 709.7h1v1h-1zM233.5 720.1h1v1h-1zM236.4 724.4h1v1h-1zM231.8 722.7h1v1h-1zM235.1 722.5h1v1h-1zM237.7 717.9h1v1h-1zM234.6 721.2h1v1h-1zM234.3 718h1v1h-1zM232.9 719.1h1v1h-1zM234.1 719.1h1v1h-1zM236.1 707.1h1v1h-1zM233.1 722.8h1v1h-1zM228.6 721.1h1v1h-1zM234.4 722.5h1v1h-1zM233.4 715.9h1v1h-1zM235.4 722h1v1h-1zM234 721.2h1v1h-1zM238.9 711.3h1v1h-1zM230.1 713h1v1h-1zM230.9 719.6h1v1h-1zM236 717h1v1h-1zM230.7 719.4h1v1h-1zM234.9 717.1h1v1h-1zM233.9 724.9h1v1h-1zM227.7 712.5h1v1h-1zM236 714.4h1v1h-1zM238.2 715.9h1v1h-1zM234.6 714.4h1v1h-1zM229.5 717.3h1v1h-1zM236.4 719.3h1v1h-1zM230.6 714.5h1v1h-1zM233.5 720.8h1v1h-1zM235.2 724.2h1v1h-1zM231.5 723.4h1v1h-1zM228.6 726.8h1v1h-1zM233.5 723.6h1v1h-1zM233.8 719.3h1v1h-1zM231.2 725.9h1v1h-1zM231.5 722h1v1h-1zM236.2 726.3h1v1h-1zM233.6 718.7h1v1h-1zM232.4 711.7h1v1h-1zM232 715.2h1v1h-1zM234.4 720.1h1v1h-1zM234.2 721.5h1v1h-1zM233.4 718.7h1v1h-1zM229.5 723.1h1v1h-1zM232.7 715.2h1v1h-1zM231.9 716.9h1v1h-1zM234.1 723.1h1v1h-1zM237.5 719.6h1v1h-1zM236.9 719.8h1v1h-1zM235.9 724.6h1v1h-1zM234.2 723.5h1v1h-1zM232.9 716.6h1v1h-1zM234.9 720.2h1v1h-1zM232.4 713.2h1v1h-1zM232.8 719.4h1v1h-1zM231.3 720.9h1v1h-1zM233.7 713.1h1v1h-1zM233.6 725.2h1v1h-1zM239.6 726.8h1v1h-1zM235.6 721.3h1v1h-1zM232.7 722.9h1v1h-1zM236.3 725h1v1h-1zM232.4 718.9h1v1h-1zM237 723.3h1v1h-1zM236.3 720.9h1v1h-1zM242.9 713.9h1v1h-1zM230.5 716.2h1v1h-1zM233.7 717.4h1v1h-1zM233.5 723.4h1v1h-1zM234.8 719.9h1v1h-1zM236.1 723.1h1v1h-1zM230.9 717.8h1v1h-1zM231.6 714.8h1v1h-1zM234.8 726.8h1v1h-1zM236.9 726.8h1v1h-1zM230.4 720.9h1v1h-1zM229.1 718.8h1v1h-1zM237.4 723.9h1v1h-1zM236.5 715.5h1v1h-1zM237.3 718.7h1v1h-1zM230.9 714.3h1v1h-1zM233.3 721.3h1v1h-1zM234.6 720.4h1v1h-1zM235.3 718h1v1h-1zM233.5 717.1h1v1h-1zM233.7 713.9h1v1h-1zM237 716.5h1v1h-1zM232.5 724h1v1h-1zM232.2 718.2h1v1h-1zM232.6 724.1h1v1h-1zM232.3 716.3h1v1h-1zM234.3 719.2h1v1h-1zM233.2 717.8h1v1h-1zM232.5 718.6h1v1h-1zM238.3 722.3h1v1h-1zM234.8 712h1v1h-1zM232.9 722.2h1v1h-1zM237.8 722h1v1h-1zM232.2 719.5h1v1h-1zM233.9 719.8h1v1h-1zM233.6 718.7h1v1h-1zM232.1 722h1v1h-1zM232.7 719.7h1v1h-1zM234.1 716.4h1v1h-1zM229.5 720.1h1v1h-1zM232.7 723h1v1h-1zM234.7 720.9h1v1h-1zM234.7 719.6h1v1h-1zM234.8 720.3h1v1h-1zM241.1 717.7h1v1h-1zM235.9 717.8h1v1h-1zM233.5 712.6h1v1h-1zM233.5 718.8h1v1h-1zM233.9 723.1h1v1h-1zM235.2 718.1h1v1h-1zM233 716.2h1v1h-1zM238.5 722.8h1v1h-1zM230.5 720.1h1v1h-1zM235.8 720h1v1h-1zM235.4 721.2h1v1h-1zM230.4 722.1h1v1h-1zM235.8 719.4h1v1h-1zM235.6 716.5h1v1h-1zM231.9 725.9h1v1h-1zM241 719.7h1v1h-1zM236.1 716.7h1v1h-1zM232.9 720.2h1v1h-1zM232.4 723.9h1v1h-1zM231.6 714.4h1v1h-1zM234.7 724.3h1v1h-1zM234.1 719h1v1h-1zM229.6 726.8h1v1h-1zM230.7 721.9h1v1h-1zM231.7 719.1h1v1h-1zM232.7 724.1h1v1h-1zM232.8 724.1h1v1h-1zM231.8 718.2h1v1h-1zM235.8 720.4h1v1h-1zM236.8 717.6h1v1h-1zM234.1 722.9h1v1h-1zM227.2 714.4h1v1h-1zM233.4 718.9h1v1h-1zM235.6 711.8h1v1h-1zM233.6 721.7h1v1h-1zM234.7 711.4h1v1h-1zM234.2 715.7h1v1h-1zM229.3 720.5h1v1h-1zM226.2 718.2h1v1h-1zM235.8 717.9h1v1h-1zM232.3 716h1v1h-1zM235.1 717.8h1v1h-1zM233 713.2h1v1h-1zM233.4 720.7h1v1h-1zM238 722.4h1v1h-1zM230.2 722.3h1v1h-1zM233.8 719.4h1v1h-1zM230.6 723.9h1v1h-1zM234.1 721.2h1v1h-1zM235.3 723h1v1h-1zM235.9 720.9h1v1h-1zM234.3 719.6h1v1h-1zM229.7 716.8h1v1h-1zM234.6 710h1v1h-1zM236.6 721.9h1v1h-1zM236.9 719.1h1v1h-1zM240.4 726.7h1v1h-1zM235.6 712.3h1v1h-1zM230.8 722.6h1v1h-1zM232.3 716.1h1v1h-1zM234.1 719.5h1v1h-1zM237.1 716.3h1v1h-1zM230.4 720.8h1v1h-1zM236.7 719.4h1v1h-1zM235.9 722.7h1v1h-1zM231.2 720h1v1h-1zM235.7 721.2h1v1h-1zM231.6 724.1h1v1h-1zM233.9 721.4h1v1h-1zM233 719h1v1h-1zM234.6 724h1v1h-1zM230.3 719.1h1v1h-1zM235.5 721h1v1h-1zM227.3 718.4h1v1h-1zM232.6 717.1h1v1h-1zM232.2 708.7h1v1h-1zM238.7 722h1v1h-1zM235.5 715.4h1v1h-1zM232.4 722.2h1v1h-1zM231.2 726h1v1h-1zM234 714.8h1v1h-1zM232 722.7h1v1h-1zM240.7 719.2h1v1h-1zM225.4 721.2h1v1h-1zM234.1 715.2h1v1h-1zM226.4 719.6h1v1h-1zM237 720.1h1v1h-1zM231.4 724.7h1v1h-1zM238.7 726.8h1v1h-1zM232.2 720.7h1v1h-1zM237.2 718.2h1v1h-1zM234.5 726.8h1v1h-1zM237.5 719.1h1v1h-1zM233.9 719.3h1v1h-1zM224.8 719.9h1v1h-1zM231.7 721.2h1v1h-1zM229.1 722.1h1v1h-1zM236.8 717.5h1v1h-1zM235.5 719.1h1v1h-1zM233.9 726.3h1v1h-1zM235.3 725.3h1v1h-1zM234.5 721.2h1v1h-1zM232.1 720.5h1v1h-1zM239.8 718.7h1v1h-1zM234.6 723.3h1v1h-1zM233.3 717.7h1v1h-1zM229.4 720h1v1h-1zM232 717.9h1v1h-1zM233.9 717.3h1v1h-1zM233.3 719.7h1v1h-1zM232.4 719.6h1v1h-1zM233.7 717.5h1v1h-1zM230.5 719.3h1v1h-1zM233.9 719.8h1v1h-1zM229.2 717.9h1v1h-1zM231.3 717.2h1v1h-1zM231.6 719.1h1v1h-1zM236.5 722.1h1v1h-1zM235.4 723.6h1v1h-1zM234.1 720.2h1v1h-1zM230.4 718.6h1v1h-1zM232.7 719.5h1v1h-1zM236.3 726.5h1v1h-1zM237.7 722.9h1v1h-1zM229.4 716.1h1v1h-1zM232.6 719.4h1v1h-1zM234.2 717.6h1v1h-1zM234.9 718.2h1v1h-1zM233.9 713.5h1v1h-1zM235.9 719.7h1v1h-1zM229.5 714.7h1v1h-1zM238.6 717.4h1v1h-1zM230.4 725h1v1h-1zM234.1 723.2h1v1h-1zM235.5 716.4h1v1h-1zM237.4 715.8h1v1h-1zM236.6 716.3h1v1h-1zM236.5 712.8h1v1h-1zM237.8 716h1v1h-1zM233.4 718.6h1v1h-1zM236.2 715.8h1v1h-1zM238.6 722.3h1v1h-1zM231.6 719.4h1v1h-1zM229.6 717.6h1v1h-1zM230.8 725.9h1v1h-1zM238.2 722.1h1v1h-1zM237.7 719.8h1v1h-1zM232.8 726.3h1v1h-1zM234.7 724.3h1v1h-1zM235.4 717h1v1h-1zM237.1 720.7h1v1h-1zM228.2 718h1v1h-1zM232.2 714.4h1v1h-1zM233.1 726.4h1v1h-1zM234.9 725h1v1h-1zM234.2 715h1v1h-1zM233 721.4h1v1h-1zM234.8 713.6h1v1h-1zM226.1 723.5h1v1h-1zM243.3 719.4h1v1h-1zM236.4 718.5h1v1h-1zM236.6 724.1h1v1h-1zM231.9 719.6h1v1h-1zM235.2 718.6h1v1h-1zM240.2 722.9h1v1h-1zM239.5 718.5h1v1h-1zM234.2 722.7h1v1h-1zM230.1 719.6h1v1h-1zM234.4 722.6h1v1h-1zM233 721.8h1v1h-1zM236.5 722.4h1v1h-1zM230 715.9h1v1h-1zM233.4 726.4h1v1h-1zM234.8 719h1v1h-1zM232.5 726h1v1h-1zM237.2 717.4h1v1h-1zM230.5 718.6h1v1h-1zM230.2 718.6h1v1h-1zM232.9 723.8h1v1h-1zM236.5 718h1v1h-1zM233 721.1h1v1h-1zM232.1 713.9h1v1h-1zM236.4 717.8h1v1h-1zM234.6 720.4h1v1h-1zM232.3 719.2h1v1h-1zM234.3 712.7h1v1h-1zM233.2 721.4h1v1h-1zM235.8 716.1h1v1h-1zM234.4 726.6h1v1h-1zM231.5 718.9h1v1h-1zM232.5 726.8h1v1h-1zM232.7 722h1v1h-1zM235.1 721.3h1v1h-1zM235.1 717.8h1v1h-1zM231.4 719.1h1v1h-1zM233.4 721.2h1v1h-1zM234.9 712.5h1v1h-1zM237.3 723.2h1v1h-1zM234.7 715.3h1v1h-1zM239.9 718.6h1v1h-1zM234 709.6h1v1h-1zM236.2 721.2h1v1h-1zM232.9 722.3h1v1h-1zM230.9 720.6h1v1h-1zM234.3 720.8h1v1h-1zM235.4 718.2h1v1h-1zM234.9 720.1h1v1h-1zM234.4 724h1v1h-1zM232.9 718h1v1h-1zM231.4 721.4h1v1h-1zM233 722.2h1v1h-1zM235.4 718.7h1v1h-1zM236.9 720.4h1v1h-1zM223.9 720.4h1v1h-1zM235.8 717.8h1v1h-1zM237.3 726.8h1v1h-1zM237.8 718h1v1h-1zM235.1 725.8h1v1h-1zM236 723.5h1v1h-1zM232.6 712.1h1v1h-1zM233.7 720.5h1v1h-1zM235.6 723.4h1v1h-1zM230.6 722.6h1v1h-1zM231.5 716.3h1v1h-1zM234.5 720.5h1v1h-1zM229.9 715.2h1v1h-1zM234.1 715.7h1v1h-1zM229.4 718.7h1v1h-1zM234.5 720.3h1v1h-1zM234 725.5h1v1h-1zM232.2 720.9h1v1h-1zM231.1 723.5h1v1h-1zM232.4 715.2h1v1h-1zM227.1 715.3h1v1h-1zM232.7 717.8h1v1h-1zM234.3 726h1v1h-1zM237.6 714.6h1v1h-1zM232.4 713.7h1v1h-1zM233.4 719.3h1v1h-1zM238.2 723.9h1v1h-1zM239.3 713.6h1v1h-1zM232.4 718.6h1v1h-1zM237.2 714.6h1v1h-1zM237.5 724.9h1v1h-1zM235.5 722.1h1v1h-1zM230.9 720.6h1v1h-1zM231.1 719.4h1v1h-1zM235.7 718.7h1v1h-1zM241.1 720.1h1v1h-1zM233.4 717.2h1v1h-1zM238.8 716.3h1v1h-1zM239.8 715.5h1v1h-1zM230.1 719.6h1v1h-1z" fill="#111"/>
<rect x="172" y="636.25" width="104.25" height="91.75" fill="none" stroke="#555" stroke-width="0.9"/>
<line x1="172" y1="636.25" x2="172" y2="728" stroke="#333" stroke-width="1.4"/>
<line x1="172" y1="728" x2="276.25" y2="728" stroke="#222" stroke-width="1.6"/>
<line x1="198.5" y1="636.25" x2="198.5" y2="728" stroke="#444" stroke-width="1.0"/>
<line x1="198.75" y1="702.5" x2="276.25" y2="702.5" stroke="#444" stroke-width="1.0"/>
<text x="226" y="629.5" font-size="11" font-weight="bold" font-style="italic" text-anchor="middle" fill="#000">kd/kd::Tie-1-Cre</text>
<text x="273.3" y="648.2" font-size="11" font-weight="bold" text-anchor="end" fill="#000">3</text>
<text x="275.3" y="714" font-size="11" font-weight="bold" text-anchor="end" fill="#000">31</text>
<text x="172.0" y="736.3" class="g" font-size="6.5" fill="#555" text-anchor="middle">10<tspan font-size="4.5" dy="-2.6">0</tspan></text>
<text x="198.1" y="736.3" class="g" font-size="6.5" fill="#555" text-anchor="middle">10<tspan font-size="4.5" dy="-2.6">1</tspan></text>
<text x="224.1" y="736.3" class="g" font-size="6.5" fill="#555" text-anchor="middle">10<tspan font-size="4.5" dy="-2.6">2</tspan></text>
<text x="250.2" y="736.3" class="g" font-size="6.5" fill="#555" text-anchor="middle">10<tspan font-size="4.5" dy="-2.6">3</tspan></text>
<text x="276.2" y="736.3" class="g" font-size="6.5" fill="#555" text-anchor="middle">10<tspan font-size="4.5" dy="-2.6">4</tspan></text>
<text transform="translate(166.9,728.0) rotate(-90)" class="g" font-size="6.5" fill="#555" text-anchor="middle">10<tspan font-size="4.5" dy="-2.6">0</tspan></text>
<text transform="translate(166.9,705.1) rotate(-90)" class="g" font-size="6.5" fill="#555" text-anchor="middle">10<tspan font-size="4.5" dy="-2.6">1</tspan></text>
<text transform="translate(166.9,682.1) rotate(-90)" class="g" font-size="6.5" fill="#555" text-anchor="middle">10<tspan font-size="4.5" dy="-2.6">2</tspan></text>
<text transform="translate(166.9,659.2) rotate(-90)" class="g" font-size="6.5" fill="#555" text-anchor="middle">10<tspan font-size="4.5" dy="-2.6">3</tspan></text>
<text transform="translate(166.9,636.2) rotate(-90)" class="g" font-size="6.5" fill="#555" text-anchor="middle">10<tspan font-size="4.5" dy="-2.6">4</tspan></text>
</svg></body></html>
